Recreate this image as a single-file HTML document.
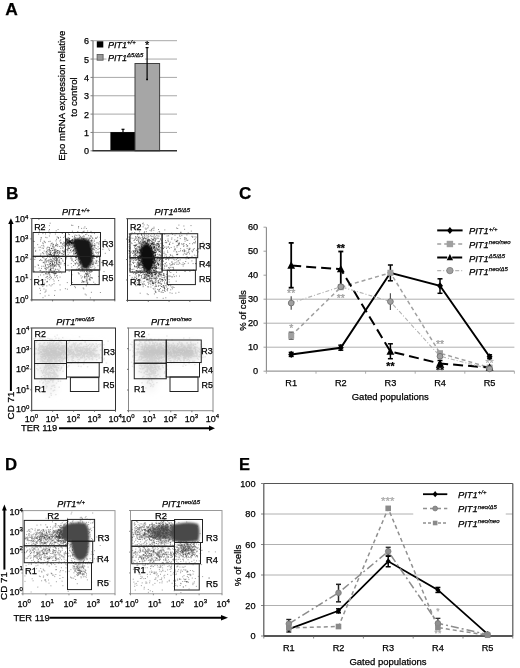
<!DOCTYPE html>
<html><head><meta charset="utf-8"><style>
html,body{margin:0;padding:0;background:#fff;width:520px;height:668px;overflow:hidden}
svg{position:absolute;left:0;top:0;font-family:'Liberation Sans',sans-serif}
text{stroke:#000;stroke-width:0.25px}
</style></head><body>
<svg width="520" height="668" viewBox="0 0 520 668">
<defs><filter id="gblur" x="0" y="0" width="520" height="668" filterUnits="userSpaceOnUse"><feGaussianBlur stdDeviation="0.35"/></filter></defs>
<g filter="url(#gblur)">
<rect width="520" height="668" fill="#fff"/>
<text x="5.3" y="15.0" font-size="17.4" font-weight="bold">A</text>
<line x1="93.00" y1="132.45" x2="177.00" y2="132.45" stroke="#a8a8a8" stroke-width="1"/>
<line x1="93.00" y1="114.10" x2="177.00" y2="114.10" stroke="#a8a8a8" stroke-width="1"/>
<line x1="93.00" y1="95.75" x2="177.00" y2="95.75" stroke="#a8a8a8" stroke-width="1"/>
<line x1="93.00" y1="77.40" x2="177.00" y2="77.40" stroke="#a8a8a8" stroke-width="1"/>
<line x1="93.00" y1="59.05" x2="177.00" y2="59.05" stroke="#a8a8a8" stroke-width="1"/>
<line x1="93.00" y1="40.70" x2="177.00" y2="40.70" stroke="#a8a8a8" stroke-width="1"/>
<text x="89.0" y="154.2" font-size="9" text-anchor="end">0</text>
<line x1="90.50" y1="150.80" x2="93.00" y2="150.80" stroke="#808080" stroke-width="1"/>
<text x="89.0" y="135.9" font-size="9" text-anchor="end">1</text>
<line x1="90.50" y1="132.45" x2="93.00" y2="132.45" stroke="#808080" stroke-width="1"/>
<text x="89.0" y="117.5" font-size="9" text-anchor="end">2</text>
<line x1="90.50" y1="114.10" x2="93.00" y2="114.10" stroke="#808080" stroke-width="1"/>
<text x="89.0" y="99.2" font-size="9" text-anchor="end">3</text>
<line x1="90.50" y1="95.75" x2="93.00" y2="95.75" stroke="#808080" stroke-width="1"/>
<text x="89.0" y="80.8" font-size="9" text-anchor="end">4</text>
<line x1="90.50" y1="77.40" x2="93.00" y2="77.40" stroke="#808080" stroke-width="1"/>
<text x="89.0" y="62.5" font-size="9" text-anchor="end">5</text>
<line x1="90.50" y1="59.05" x2="93.00" y2="59.05" stroke="#808080" stroke-width="1"/>
<text x="89.0" y="44.1" font-size="9" text-anchor="end">6</text>
<line x1="90.50" y1="40.70" x2="93.00" y2="40.70" stroke="#808080" stroke-width="1"/>
<line x1="93.00" y1="40.70" x2="93.00" y2="150.80" stroke="#808080" stroke-width="1.3"/>
<rect x="110.40" y="132.08" width="24.80" height="18.72" fill="#000" stroke="none" stroke-width="1"/>
<rect x="135.00" y="63.50" width="24.60" height="87.30" fill="#a6a6a6" stroke="#404040" stroke-width="1"/>
<line x1="92.50" y1="150.80" x2="177.00" y2="150.80" stroke="#303030" stroke-width="1.5"/>
<line x1="123.00" y1="132.08" x2="123.00" y2="129.30" stroke="#000" stroke-width="1.2"/>
<line x1="121.50" y1="129.30" x2="124.50" y2="129.30" stroke="#000" stroke-width="1.2"/>
<line x1="147.10" y1="47.60" x2="147.10" y2="79.40" stroke="#000" stroke-width="1.2"/>
<line x1="145.60" y1="47.60" x2="148.60" y2="47.60" stroke="#000" stroke-width="1.2"/>
<line x1="146.20" y1="79.40" x2="148.00" y2="79.40" stroke="#000" stroke-width="1.5"/>
<text x="147.1" y="49.3" font-size="11" text-anchor="middle">*</text>
<rect x="96.80" y="41.30" width="6.50" height="6.20" fill="#000" stroke="none" stroke-width="1"/>
<rect x="97.10" y="54.40" width="6.00" height="5.80" fill="#999" stroke="#555" stroke-width="0.8"/>
<rect x="106.50" y="52.50" width="38.50" height="8.30" fill="#fff" stroke="none" stroke-width="1"/>
<text x="108.0" y="47.6" font-size="9" font-style="italic" fill="#000">PIT1<tspan font-size="6" dy="-3.4">+/+</tspan></text>
<text x="108.0" y="60.6" font-size="9" font-style="italic" fill="#000">PIT1<tspan font-size="6" dy="-3.4">Δ5/Δ5</tspan></text>
<text transform="translate(65.3,95.8) rotate(-90)" font-size="9.6" text-anchor="middle">Epo mRNA expression relative</text>
<text transform="translate(76.7,97) rotate(-90)" font-size="9.6" text-anchor="middle">to control</text>
<defs><filter id="bl" x="-50%" y="-50%" width="200%" height="200%"><feGaussianBlur stdDeviation="4"/></filter><filter id="bl2" x="-50%" y="-50%" width="200%" height="200%"><feGaussianBlur stdDeviation="1.3"/></filter><filter id="bl1" x="-50%" y="-50%" width="200%" height="200%"><feGaussianBlur stdDeviation="0.9"/></filter><filter id="bl05" x="-10%" y="-10%" width="120%" height="120%"><feGaussianBlur stdDeviation="0.35"/></filter></defs>
<g filter="url(#bl05)">
<path d="M52.3 263.7h1M55.3 251.1h1M50.3 270.4h1M49.7 263.3h1M57.5 264.7h1M49.6 263.5h1M47.7 265.0h1M55.5 257.7h1M59.1 253.2h1M49.6 265.9h1M52.2 256.0h1M52.3 264.8h1M44.6 296.0h1M62.8 247.9h1M67.2 245.6h1M60.1 240.0h1M54.2 265.1h1M42.3 286.4h1M44.4 263.9h1M53.8 274.2h1M50.2 245.8h1M54.5 252.8h1M55.9 253.1h1M55.4 246.0h1M56.1 271.6h1M38.0 276.8h1M56.5 259.5h1M64.3 246.4h1M55.5 265.3h1M49.6 264.5h1M52.1 266.1h1M52.4 258.4h1M66.5 245.1h1M55.5 240.9h1M46.9 281.3h1M53.5 249.0h1M60.8 258.5h1M49.2 279.7h1M40.0 290.3h1M56.1 276.1h1M50.6 251.8h1M56.2 261.4h1M57.3 255.3h1M55.6 266.6h1M45.9 267.4h1M53.5 261.4h1M49.2 266.7h1M44.6 259.8h1M58.9 262.3h1M44.2 283.2h1M59.0 251.7h1M53.5 283.7h1M58.3 257.3h1M50.0 269.7h1M49.9 253.8h1M53.0 273.2h1M51.1 255.3h1M59.1 259.7h1M55.8 272.9h1M54.0 266.4h1M57.2 251.0h1M51.0 277.4h1M49.9 250.5h1M54.4 252.3h1M47.9 272.7h1M45.2 269.8h1M51.5 260.9h1M46.5 282.1h1M62.7 254.4h1M50.6 254.7h1M48.5 270.0h1M52.4 250.3h1M52.9 264.8h1M45.4 291.3h1M49.2 252.9h1M54.4 259.3h1M49.9 261.5h1M50.0 269.8h1M45.5 290.0h1M51.2 243.4h1M57.5 260.8h1M53.4 258.5h1M53.9 265.1h1M54.8 252.7h1M52.1 263.9h1M58.4 264.1h1M54.4 250.7h1M52.3 265.7h1M55.8 262.3h1M55.1 273.1h1M42.5 297.7h1M50.5 285.9h1M59.2 261.9h1M44.6 267.1h1M46.8 276.4h1M53.6 255.2h1M45.2 268.5h1M53.7 254.8h1M51.8 264.6h1M46.7 250.9h1M46.3 285.9h1M52.4 261.0h1M51.2 264.8h1M48.8 284.9h1M58.5 265.4h1M55.7 260.6h1M55.6 257.5h1M59.5 277.1h1M51.5 270.9h1M58.8 262.4h1M56.9 260.1h1M54.7 277.6h1M57.2 269.3h1M54.0 295.4h1M66.6 244.4h1M59.2 246.5h1M60.8 246.2h1M58.3 270.6h1M53.6 259.8h1M56.6 275.6h1M53.9 247.1h1M56.4 263.9h1M54.5 290.6h1M53.9 271.3h1M49.7 251.1h1M45.0 265.6h1M61.8 233.5h1M54.2 262.3h1M64.3 236.2h1M48.9 275.0h1M50.5 254.6h1M56.5 263.1h1M50.4 278.3h1M57.6 271.9h1M58.8 253.1h1M45.3 264.6h1M55.5 244.4h1M43.5 271.6h1M67.1 249.1h1M60.4 243.2h1M55.5 273.5h1M58.9 256.8h1M54.7 273.6h1M53.0 266.8h1M54.2 252.6h1M52.0 262.5h1M43.2 266.2h1M54.2 251.2h1M58.7 266.0h1M51.3 272.4h1M54.5 270.7h1M50.5 255.0h1M47.1 255.0h1M55.9 245.4h1M60.1 252.8h1M44.4 268.5h1M62.2 248.0h1M56.1 255.2h1M44.7 279.8h1M51.8 243.1h1M52.5 272.0h1M47.9 273.7h1M58.0 262.0h1M46.8 255.4h1M54.1 275.7h1M53.0 255.7h1M56.5 258.4h1M47.3 247.2h1M49.1 272.8h1M49.4 259.6h1M57.4 258.8h1M47.6 261.3h1M49.6 275.0h1M59.7 268.1h1M46.5 281.5h1M41.3 266.3h1M53.9 255.4h1M52.1 263.5h1M53.1 254.0h1M57.2 255.8h1M46.0 269.7h1M56.8 244.6h1M56.9 250.9h1M56.1 262.3h1M62.0 256.1h1M49.1 249.9h1M53.6 255.8h1M61.1 258.6h1M58.4 255.6h1M45.6 262.6h1M42.0 257.4h1M58.1 254.4h1M52.5 264.7h1M57.7 264.5h1M50.2 259.1h1M60.4 262.8h1M49.7 254.7h1M55.5 264.6h1M51.7 284.7h1M54.7 258.5h1M65.2 238.2h1M54.2 253.0h1M63.7 245.2h1M54.0 263.0h1M47.3 278.7h1M67.7 248.6h1M49.6 254.4h1M50.2 265.6h1M52.9 244.3h1M63.8 251.9h1M44.5 292.2h1M50.7 271.0h1M54.8 269.0h1M56.2 260.9h1M45.5 273.3h1M50.0 263.5h1M56.3 259.0h1M55.6 255.4h1M49.9 253.0h1M41.6 260.6h1M52.7 279.3h1M47.3 267.7h1M49.7 270.2h1M63.9 263.5h1M50.7 259.7h1M54.3 253.9h1M48.8 254.7h1M54.8 249.2h1M62.2 246.2h1M50.1 267.2h1M52.8 268.0h1M42.2 272.2h1M52.6 247.1h1M48.7 271.1h1M56.0 243.2h1M49.0 254.8h1M55.0 245.6h1M52.5 273.0h1M51.2 272.6h1M60.6 242.7h1M48.0 260.1h1M50.2 265.8h1M45.1 273.7h1M48.8 277.4h1M66.3 246.1h1M65.8 258.9h1M56.0 239.3h1M54.4 253.4h1M58.8 266.6h1M54.3 256.0h1M67.5 247.1h1M56.9 252.8h1M55.4 251.1h1M53.5 259.9h1M49.7 261.1h1M52.1 261.2h1M51.3 260.0h1M50.9 266.0h1M50.4 269.3h1M49.8 276.6h1M48.4 254.5h1M41.4 272.7h1M50.2 268.6h1M50.8 255.3h1M58.5 251.2h1M58.5 256.3h1M59.6 251.0h1M55.5 249.6h1M51.1 261.5h1M53.8 265.9h1M48.7 272.7h1M44.9 266.1h1M53.3 270.2h1M56.0 259.3h1M43.5 289.0h1M55.3 269.5h1M61.0 253.7h1M48.3 272.3h1M49.3 271.9h1M49.8 269.6h1M49.7 241.3h1M57.8 250.6h1M63.2 251.2h1M45.7 274.0h1M46.9 252.8h1M46.6 268.3h1M54.2 262.9h1M54.8 265.3h1M60.2 248.3h1M58.2 257.5h1M43.3 284.4h1M46.5 276.8h1M52.5 272.1h1M62.2 260.2h1M43.3 274.8h1M50.7 262.7h1M52.4 272.2h1M54.1 250.8h1M63.5 245.4h1M50.3 252.7h1M44.8 242.6h1M63.8 265.0h1M46.5 237.7h1M34.3 259.4h1M48.4 262.3h1M40.2 270.4h1M52.3 250.5h1M57.2 253.6h1M43.6 241.2h1M49.7 223.2h1M40.6 237.9h1M56.2 263.4h1M43.4 246.8h1M62.9 254.7h1M62.4 251.3h1M54.2 273.2h1M44.2 261.2h1M54.9 234.0h1M66.9 242.4h1M55.2 252.1h1M41.7 248.0h1M57.7 237.5h1M48.9 225.6h1M41.2 224.7h1M42.7 253.2h1M41.4 245.6h1M52.4 255.4h1M59.3 264.1h1M42.9 262.3h1M56.9 250.5h1M42.7 243.6h1M40.1 259.6h1M43.3 253.9h1M40.0 241.1h1M68.7 271.2h1M56.0 251.3h1M38.6 268.1h1M35.1 251.4h1M49.5 233.7h1M46.9 264.7h1M55.7 230.8h1M60.0 237.3h1M46.7 249.9h1M37.6 264.9h1M48.2 256.0h1M33.8 241.5h1M64.1 251.6h1M45.6 252.9h1M39.0 231.0h1M35.2 250.4h1M55.4 257.3h1M32.9 241.2h1M39.5 270.5h1M37.2 244.6h1M52.7 268.2h1M54.8 260.7h1M63.2 237.5h1M54.2 249.5h1M57.3 245.0h1M58.9 272.1h1M73.6 242.9h1M43.5 258.1h1M62.1 244.1h1M62.4 244.0h1M64.1 250.3h1M57.6 229.5h1M34.2 247.9h1M57.1 252.6h1M47.8 253.7h1M45.0 259.8h1M54.0 257.3h1M52.5 246.1h1M38.4 219.5h1M63.7 253.0h1M52.2 257.3h1M40.0 275.0h1M51.1 248.6h1M49.0 247.5h1M51.5 248.4h1M38.5 247.3h1M39.0 232.6h1M52.8 248.0h1M54.2 254.6h1M57.9 237.9h1M40.3 239.7h1M42.3 242.8h1M38.1 234.1h1M57.9 238.3h1M46.3 248.2h1M42.8 262.7h1M45.7 258.8h1M34.6 266.8h1M45.5 277.6h1M58.5 252.5h1M45.0 233.9h1M52.9 252.4h1M59.6 258.1h1M56.3 258.2h1M47.1 257.0h1M40.5 260.3h1M39.9 247.2h1M56.1 256.1h1M47.7 251.1h1M46.0 251.7h1M52.4 246.5h1M43.7 251.0h1M63.2 242.1h1M49.0 251.1h1M49.1 248.7h1M71.0 225.2h1M45.2 237.3h1M47.6 247.3h1M50.8 248.4h1M48.6 260.7h1M44.2 241.8h1M39.1 260.5h1M48.4 231.0h1M52.6 244.6h1M52.2 253.6h1M60.4 264.0h1M62.5 261.3h1M63.2 252.2h1M48.2 267.8h1M48.9 236.0h1M49.8 253.0h1M40.4 253.9h1M49.4 257.4h1M57.2 246.3h1M39.9 255.3h1M48.7 273.9h1M50.5 244.0h1M44.5 227.6h1M64.1 263.3h1M52.5 245.2h1M46.7 260.6h1M59.9 267.2h1M42.4 233.6h1M43.1 245.3h1M54.6 256.4h1M48.5 249.9h1M39.4 250.0h1M45.8 261.6h1M42.9 248.4h1M58.5 270.0h1M48.3 241.6h1M48.1 266.6h1M64.1 244.0h1M34.7 257.5h1M38.0 265.4h1M45.7 251.7h1M38.7 232.2h1M42.1 252.6h1M45.8 258.8h1M56.7 236.9h1M45.5 260.9h1M55.6 260.4h1M64.6 249.2h1M51.6 250.3h1M67.7 241.0h1M83.6 246.5h1M97.0 237.1h1M81.4 240.5h1M72.9 261.6h1M76.2 244.8h1M83.3 251.0h1M80.0 243.3h1M86.6 255.9h1M66.9 250.6h1M77.9 249.8h1M87.7 240.8h1M65.6 241.9h1M75.4 253.0h1M93.6 256.4h1M68.0 234.0h1M90.2 252.0h1M74.3 251.6h1M96.1 256.7h1M93.0 255.2h1M78.8 257.0h1M84.8 246.1h1M75.7 248.3h1M74.3 242.2h1M80.2 246.6h1M74.1 239.9h1M101.2 262.4h1M90.4 240.5h1M84.1 241.4h1M86.0 248.5h1M81.1 228.4h1M92.7 256.5h1M86.4 250.1h1M66.1 240.7h1M81.5 255.3h1M79.1 235.8h1M92.9 248.1h1M96.0 257.6h1M79.7 259.4h1M78.0 227.9h1M77.8 247.8h1M71.8 247.2h1M82.1 244.9h1M79.6 248.7h1M83.7 250.2h1M77.2 247.8h1M80.7 257.6h1M81.9 256.1h1M78.6 257.9h1M87.3 249.6h1M83.1 252.3h1M94.1 245.5h1M84.2 246.5h1M70.9 252.0h1M69.3 245.0h1M87.9 267.1h1M72.8 242.3h1M74.6 244.2h1M86.8 251.3h1M78.7 249.7h1M77.7 246.3h1M78.7 242.0h1M78.6 244.2h1M90.4 259.8h1M84.5 245.7h1M97.7 256.7h1M82.3 236.7h1M84.1 242.5h1M95.8 248.5h1M82.7 231.5h1M90.6 246.2h1M92.0 255.6h1M80.5 249.7h1M76.2 262.2h1M68.9 234.6h1M82.2 245.0h1M81.4 247.5h1M86.6 246.1h1M84.5 250.0h1M81.8 246.3h1M91.6 241.0h1M71.7 247.2h1M83.4 257.6h1M86.8 257.2h1M89.3 259.9h1M74.5 248.8h1M70.8 263.6h1M103.1 247.2h1M79.8 252.0h1M90.3 264.9h1M79.3 253.0h1M87.5 249.6h1M74.3 245.5h1M87.0 256.8h1M84.4 241.0h1M82.9 249.1h1M88.6 256.6h1M76.8 242.7h1M79.6 263.7h1M89.0 242.3h1M90.9 261.3h1M71.8 240.0h1M81.1 239.8h1M70.6 257.6h1M99.6 244.8h1M80.2 254.7h1M86.3 261.9h1M87.8 249.9h1M72.5 251.2h1M73.3 253.2h1M74.7 256.1h1M95.5 250.9h1M90.1 249.7h1M85.2 254.9h1M83.6 263.7h1M83.7 260.3h1M89.5 247.9h1M83.4 266.6h1M85.0 250.2h1M91.5 232.9h1M79.8 256.6h1M84.0 255.5h1M83.1 241.8h1M79.2 256.4h1M104.6 239.9h1M79.3 255.1h1M80.3 263.3h1M86.4 248.1h1M87.7 255.5h1M89.5 238.2h1M89.9 249.1h1M84.4 251.1h1M84.7 243.4h1M85.1 256.2h1M96.4 263.2h1M73.4 252.2h1M85.0 259.7h1M81.6 268.4h1M90.4 242.3h1M70.1 242.6h1M88.5 255.1h1M92.4 242.7h1M78.8 256.4h1M82.2 250.3h1M86.9 249.4h1M83.6 245.7h1M72.4 250.8h1M84.6 256.4h1M82.4 250.6h1M71.7 259.0h1M83.6 258.5h1M74.4 254.3h1M82.6 252.5h1M71.2 267.0h1M74.3 244.3h1M78.5 261.3h1M88.6 260.0h1M79.0 249.4h1M74.7 248.5h1M90.7 252.3h1M83.1 253.8h1M78.1 240.0h1M72.3 255.8h1M87.5 245.9h1M65.4 244.0h1M81.1 258.4h1M74.5 249.1h1M68.9 242.3h1M87.7 245.3h1M79.2 262.5h1M80.2 243.6h1M76.3 250.9h1M76.6 248.1h1M87.7 253.8h1M87.8 254.6h1M78.7 255.3h1M94.3 246.8h1M80.8 266.7h1M80.6 249.9h1M78.7 250.0h1M78.8 269.1h1M59.3 241.0h1M75.3 251.2h1M82.8 256.0h1M83.4 239.9h1M87.9 244.3h1M93.8 240.1h1M92.6 257.3h1M88.7 254.6h1M89.9 259.5h1M84.4 252.9h1M80.9 238.0h1M91.9 237.9h1M78.5 235.0h1M79.9 258.0h1M74.3 246.2h1M73.1 250.3h1M79.8 249.3h1M90.2 262.5h1M85.6 246.7h1M86.4 254.6h1M88.3 245.4h1M91.3 250.7h1M92.2 260.9h1M91.0 260.1h1M95.2 252.3h1M85.3 243.1h1M87.3 253.2h1M90.9 241.1h1M77.2 246.7h1M67.4 249.1h1M95.4 263.4h1M93.3 258.2h1M97.6 254.9h1M78.0 258.3h1M93.4 255.4h1M88.8 251.2h1M84.4 246.7h1M93.6 255.0h1M80.3 262.0h1M85.9 252.5h1M78.1 257.9h1M82.3 254.1h1M87.8 256.0h1M91.2 255.6h1M91.5 253.6h1M81.1 251.8h1M92.5 253.5h1M80.8 245.0h1M79.0 248.0h1M67.6 250.2h1M85.3 258.8h1M87.2 247.5h1M82.7 247.0h1M79.9 263.0h1M86.5 246.1h1M75.9 252.5h1M84.5 257.1h1M87.6 242.4h1M87.8 242.7h1M77.5 240.2h1M84.2 259.3h1M78.8 254.0h1M74.8 264.7h1M102.4 249.3h1M75.8 247.0h1M77.6 254.0h1M97.5 249.4h1M84.3 241.2h1M69.0 248.6h1M91.8 244.0h1M92.3 248.6h1M87.8 242.1h1M67.9 242.7h1M67.4 252.1h1M80.9 271.1h1M81.4 244.7h1M79.3 243.5h1M85.5 253.1h1M64.2 254.2h1M82.8 259.9h1M77.5 250.9h1M79.7 243.3h1M96.9 257.3h1M82.2 247.6h1M75.3 250.7h1M78.1 243.6h1M81.2 247.6h1M91.7 245.7h1M70.1 256.3h1M81.6 243.1h1M91.6 257.9h1M67.7 254.3h1M90.9 263.7h1M85.0 246.2h1M81.6 260.7h1M80.0 258.4h1M74.2 246.8h1M86.7 255.4h1M87.4 238.1h1M91.9 259.1h1M90.0 244.2h1M92.3 249.5h1M74.1 250.0h1M71.8 242.2h1M86.5 250.7h1M74.3 263.2h1M79.3 243.3h1M79.3 248.4h1M83.3 252.0h1M84.4 247.0h1M77.0 254.0h1M81.0 246.9h1M86.9 251.3h1M75.2 245.6h1M87.8 254.1h1M80.8 262.3h1M81.6 248.4h1M83.9 247.2h1M75.2 253.5h1M85.8 251.4h1M81.4 237.9h1M87.1 231.0h1M87.2 246.8h1M75.5 239.1h1M83.9 263.5h1M91.0 246.2h1M83.3 244.0h1M86.0 245.0h1M78.6 258.8h1M75.1 243.0h1M88.6 239.9h1M65.6 244.1h1M75.5 253.3h1M88.9 250.5h1M92.5 263.5h1M79.4 243.1h1M86.2 239.8h1M72.6 250.9h1M91.5 248.9h1M88.8 256.5h1M73.0 250.2h1M72.4 244.2h1M79.0 237.9h1M85.9 245.2h1M85.2 241.4h1M75.6 249.9h1M84.4 244.4h1M80.5 246.6h1M67.9 246.6h1M84.0 244.5h1M77.3 244.4h1M82.9 239.4h1M73.6 246.0h1M76.0 243.3h1M77.2 243.7h1M87.5 246.4h1M79.0 240.5h1M90.3 243.7h1M82.1 243.9h1M82.6 239.8h1M68.3 245.0h1M84.9 241.1h1M80.0 242.5h1M68.9 242.4h1M81.9 240.2h1M74.6 241.2h1M77.0 239.1h1M85.3 242.8h1M81.8 248.0h1M75.0 243.5h1M84.8 242.2h1M80.0 244.8h1M77.6 249.9h1M78.6 242.3h1M76.4 240.5h1M68.9 244.9h1M76.7 245.4h1M87.6 240.8h1M82.8 238.7h1M87.7 241.7h1M77.9 240.5h1M74.0 236.2h1M69.4 240.9h1M81.0 246.0h1M68.5 242.1h1M73.6 242.7h1M84.9 242.7h1M86.5 246.9h1M68.2 248.5h1M88.0 244.0h1M73.9 238.7h1M84.9 243.8h1M72.9 242.9h1M85.0 245.2h1M66.4 249.5h1M78.6 246.0h1M76.2 241.6h1M79.5 244.0h1M84.1 238.7h1M81.6 244.7h1M76.9 242.1h1M81.6 243.7h1M78.8 240.8h1M77.9 241.2h1M72.0 239.6h1M75.6 241.6h1M73.5 243.5h1M75.6 245.4h1M81.2 242.0h1M69.7 246.2h1M87.1 245.5h1M84.9 240.7h1M83.9 241.5h1M81.6 233.2h1M71.4 243.1h1M86.8 241.6h1M72.0 242.9h1M74.7 235.1h1M71.3 242.9h1M76.3 243.0h1M82.3 238.7h1M71.5 239.7h1M80.3 240.0h1M74.0 242.0h1M69.8 241.5h1M74.3 242.2h1M77.7 243.8h1M71.1 244.9h1M72.6 246.6h1M73.0 245.3h1M80.2 246.5h1M78.9 245.1h1M70.3 244.8h1M73.7 242.8h1M69.6 241.0h1M78.7 244.5h1M81.7 241.0h1M71.6 241.7h1M72.8 242.8h1M83.4 246.8h1M71.9 236.6h1M66.3 243.1h1M60.2 242.8h1M80.5 245.2h1M78.8 239.9h1M66.5 240.6h1M78.5 244.1h1M86.3 243.5h1M82.2 242.3h1M71.7 242.9h1M66.8 243.2h1M84.0 240.4h1M65.1 244.1h1M73.2 243.9h1M69.3 243.6h1M79.0 247.9h1M76.5 243.8h1M74.0 237.1h1M92.3 238.4h1M93.5 245.4h1M88.2 239.3h1M86.9 243.2h1M82.2 249.1h1M77.7 244.0h1M70.1 240.6h1M72.0 242.4h1M86.8 245.0h1M85.9 243.2h1M83.4 244.9h1M74.1 241.9h1M78.1 240.7h1M82.0 240.8h1M75.5 240.0h1M76.9 244.2h1M76.5 242.4h1M72.0 243.6h1M76.8 245.2h1M65.7 243.5h1M79.4 240.5h1M71.0 240.6h1M68.4 239.5h1M70.3 242.4h1M69.5 240.6h1M68.2 241.8h1M67.2 241.3h1M69.4 242.1h1M69.2 244.2h1M69.0 241.6h1M66.7 241.9h1M66.0 240.3h1M70.6 242.7h1M71.5 240.1h1M70.5 243.9h1M68.1 242.8h1M66.4 243.2h1M66.1 238.9h1M67.9 247.3h1M66.6 243.9h1M66.8 243.2h1M67.4 239.3h1M69.5 242.2h1M67.7 243.3h1M63.3 243.4h1M68.4 243.2h1M67.0 242.7h1M66.4 243.2h1M72.2 244.0h1M66.2 239.8h1M67.6 242.4h1M68.8 238.4h1M72.1 240.2h1M70.5 243.1h1M68.7 241.5h1M68.5 243.7h1M69.2 241.6h1M68.5 244.5h1M71.1 242.0h1M68.8 240.0h1M68.9 240.7h1M68.7 241.0h1M66.0 239.7h1M70.9 242.6h1M66.5 245.3h1M71.3 242.8h1M70.1 242.0h1M69.9 241.8h1M66.4 241.5h1M68.2 240.7h1M64.1 242.6h1M71.8 245.3h1M70.3 242.6h1M69.5 244.2h1M68.0 243.9h1M71.0 242.6h1M70.3 242.0h1M67.3 240.1h1M68.4 242.1h1M69.1 241.2h1M68.2 240.3h1M69.8 241.4h1M68.6 242.4h1M72.2 241.0h1M68.2 242.9h1M70.8 240.9h1M71.0 243.4h1M66.0 244.5h1M73.0 243.1h1M69.7 241.6h1M67.3 239.4h1M69.2 238.4h1M65.5 242.5h1M66.7 241.0h1M71.1 243.7h1M66.7 241.7h1M68.3 238.3h1M66.6 241.9h1M64.9 241.8h1M67.5 245.2h1M66.9 239.6h1M68.2 241.6h1M66.0 239.1h1M66.6 239.0h1M70.7 243.6h1M67.8 237.7h1M70.5 242.6h1M69.1 243.4h1M67.5 240.5h1M72.3 240.7h1M67.2 238.3h1M69.4 241.7h1M82.1 281.3h1M84.9 267.3h1M87.0 283.6h1M87.6 276.1h1M89.0 279.4h1M86.4 279.2h1M82.6 282.4h1M82.4 270.2h1M85.5 281.9h1M86.8 277.0h1M84.7 276.5h1M86.1 275.5h1M87.3 274.4h1M89.9 275.0h1M86.3 274.7h1M83.9 271.6h1M82.9 281.7h1M80.4 275.8h1M91.6 277.9h1M84.6 278.0h1M80.6 268.1h1M86.4 280.6h1M86.5 280.0h1M84.0 277.7h1M90.8 271.1h1M88.6 273.5h1M81.8 280.4h1M82.8 281.6h1M89.5 280.4h1M84.1 276.7h1M87.4 282.9h1M93.7 268.8h1M85.3 273.7h1M82.7 288.0h1M85.6 284.7h1M85.6 274.0h1M88.0 276.3h1M90.7 277.6h1M82.1 276.9h1M90.6 271.8h1M88.5 279.2h1M89.1 278.3h1M85.2 273.2h1M84.3 276.9h1M86.7 282.3h1M85.8 285.9h1M86.5 273.8h1M87.5 274.0h1M88.3 271.2h1M80.9 278.0h1M86.5 274.6h1M88.2 275.3h1M94.6 283.9h1M90.4 277.6h1M86.5 278.2h1M86.9 270.5h1M90.1 267.4h1M82.2 271.4h1M84.0 281.8h1M84.1 275.1h1M40.8 237.8h1M71.7 256.5h1M89.8 279.2h1M42.8 257.1h1M89.9 297.9h1M59.7 289.9h1M99.9 292.5h1M70.1 285.5h1M87.8 261.0h1M73.1 265.5h1M34.0 271.3h1M62.1 250.6h1M84.7 294.1h1M85.5 260.8h1M39.3 288.3h1M48.4 295.3h1M57.0 277.9h1M61.2 273.0h1M93.2 282.2h1M91.8 278.1h1M44.0 256.4h1M46.1 254.1h1M87.4 268.9h1M60.1 271.7h1M72.8 246.9h1M82.1 269.9h1M50.8 268.3h1M71.7 282.6h1M53.6 281.0h1M75.0 240.7h1M70.9 279.2h1M85.7 295.0h1M75.7 240.5h1M83.3 288.9h1M84.9 246.3h1M71.6 260.6h1M74.9 260.4h1M98.1 276.4h1M48.5 249.5h1M54.2 273.1h1M44.1 262.7h1M89.5 272.1h1M39.7 293.6h1M48.8 264.3h1M98.0 244.0h1M88.6 268.2h1M103.5 271.6h1M58.8 260.5h1M82.3 266.8h1M49.0 229.5h1M75.6 258.9h1M86.7 267.6h1M74.3 286.4h1M54.5 273.9h1M108.9 250.4h1M59.5 284.9h1M81.2 282.3h1M66.9 289.2h1M67.5 265.3h1M46.1 271.9h1M96.5 260.8h1M58.1 280.6h1M86.7 283.0h1M108.3 249.0h1M46.8 274.1h1M66.8 282.6h1M64.9 288.7h1M53.8 271.7h1M41.0 268.4h1M90.9 292.3h1M104.8 253.3h1M51.8 268.1h1M66.1 257.6h1M81.7 258.9h1M74.9 287.7h1M61.9 253.4h1M83.4 259.5h1M83.5 258.2h1M90.1 260.8h1M90.3 251.1h1M85.7 274.0h1M84.5 250.3h1M84.8 261.6h1M77.1 263.9h1M89.9 258.6h1M86.4 260.6h1M86.0 252.9h1M84.6 265.6h1M89.6 264.6h1M83.2 265.2h1M90.5 270.9h1M89.5 262.3h1M86.5 266.3h1M90.8 246.1h1M83.4 263.2h1M90.7 252.2h1M81.7 249.1h1M91.8 266.2h1M85.8 280.2h1M94.6 267.8h1M88.2 260.8h1M90.6 256.5h1M90.6 257.4h1M90.5 261.2h1M89.0 271.3h1M90.0 261.2h1M85.8 256.9h1M83.2 269.0h1M87.6 253.9h1M92.3 257.7h1M92.4 264.1h1M89.9 263.1h1M83.0 260.4h1M85.4 255.4h1M88.9 253.7h1M82.4 256.7h1M82.1 261.9h1M89.3 262.2h1M85.9 266.7h1M89.2 272.0h1M84.8 263.5h1M85.6 258.4h1M86.2 266.5h1M84.9 254.5h1M93.2 262.9h1M88.3 266.9h1M91.3 267.7h1M84.1 260.1h1M91.0 261.8h1M91.8 271.4h1M82.5 261.4h1M83.4 257.1h1M85.9 262.9h1M88.5 253.5h1M86.7 259.6h1M83.4 263.1h1M80.9 260.3h1M86.7 273.4h1M86.5 259.5h1M90.5 254.4h1M86.0 276.7h1M92.0 264.5h1M90.9 253.0h1M90.9 257.8h1M88.1 260.9h1M88.2 257.9h1M79.6 244.7h1M79.3 262.1h1M83.8 249.7h1M91.6 262.2h1M83.2 252.9h1M89.3 260.3h1M81.5 260.5h1M79.8 271.3h1M85.4 261.9h1M82.8 253.0h1M85.5 254.3h1M79.3 264.8h1M85.2 251.6h1M87.8 259.0h1M84.6 248.9h1M86.0 245.3h1M81.7 269.2h1M87.6 250.4h1M82.4 261.3h1M89.5 259.7h1M86.0 265.9h1M91.3 251.0h1M84.5 267.5h1M88.4 252.3h1M78.1 269.2h1M85.3 261.4h1M84.5 266.8h1M90.3 270.0h1M81.1 258.4h1M89.3 259.3h1M86.0 271.8h1M86.5 251.3h1M93.6 266.1h1M87.1 264.7h1M88.9 261.3h1M89.6 260.4h1M89.4 276.9h1M85.7 244.5h1M92.9 264.6h1M84.1 264.3h1M80.5 267.6h1M78.0 265.4h1M92.0 258.3h1M88.5 264.6h1M79.7 258.8h1M93.4 262.0h1M95.7 262.1h1M85.2 260.0h1M84.2 246.3h1M86.2 271.0h1M77.4 242.2h1M79.4 262.8h1M91.8 246.0h1M88.5 263.3h1M83.9 248.0h1M89.2 243.4h1M85.1 258.9h1M95.9 261.4h1M87.1 242.6h1M89.0 251.4h1M97.2 252.4h1M84.3 245.7h1M82.8 255.7h1M75.9 247.7h1M74.9 237.8h1M87.7 244.5h1M80.5 254.8h1M78.0 247.0h1M82.0 244.0h1M77.5 263.1h1M87.0 257.9h1M74.3 246.7h1M89.2 259.1h1M77.2 255.0h1M93.7 258.3h1M82.3 244.9h1M71.2 247.8h1M83.9 250.6h1M82.0 258.4h1M91.4 240.6h1M84.0 250.4h1M83.9 246.5h1M87.1 262.2h1M79.8 247.2h1M91.3 239.7h1M87.8 250.8h1M77.4 253.7h1M81.4 254.8h1M87.0 249.1h1M85.2 252.6h1M87.6 232.5h1M82.0 257.8h1M82.6 262.4h1M79.8 246.9h1M83.3 235.7h1M99.0 241.8h1M83.5 228.2h1M85.3 242.3h1M88.8 253.1h1M93.7 247.0h1M85.0 248.9h1M85.3 244.1h1M81.9 262.3h1M89.5 238.4h1M84.8 251.9h1M75.0 257.4h1M77.4 255.2h1M90.7 244.8h1M88.0 260.1h1M79.4 257.0h1M94.8 263.2h1M78.1 226.5h1M80.9 241.1h1M92.5 245.4h1M95.0 238.2h1M79.2 252.7h1M75.9 269.2h1M77.9 256.9h1M86.2 268.9h1M98.1 252.2h1M86.6 257.9h1M82.8 262.4h1M73.9 243.8h1M73.6 253.7h1M93.4 255.4h1M81.6 250.0h1M93.3 249.4h1M79.2 252.9h1M70.5 249.5h1M83.0 248.0h1M77.8 272.7h1M91.7 260.8h1M91.2 240.9h1M82.7 249.9h1M82.9 259.2h1M83.4 266.7h1M83.4 253.7h1M90.8 255.4h1M75.9 257.3h1M78.9 268.4h1M97.5 242.8h1M90.4 248.5h1M70.5 258.6h1M91.4 270.6h1M86.4 244.2h1M92.6 252.2h1M85.5 258.1h1M78.7 258.8h1M83.6 236.6h1M88.1 235.7h1M78.7 257.4h1M77.8 260.3h1M75.0 253.4h1M89.7 247.3h1M79.8 249.6h1M75.6 246.4h1M80.6 242.2h1M88.2 259.1h1M83.3 258.4h1M93.7 245.0h1M99.6 243.4h1M83.2 260.4h1M76.8 252.3h1M81.4 254.0h1M96.3 242.8h1M78.1 247.1h1M76.9 244.9h1M75.8 263.1h1M83.7 261.5h1M89.3 238.0h1M85.9 260.6h1M79.9 251.3h1M83.4 238.1h1M79.9 258.7h1M85.8 258.1h1M76.1 246.5h1M90.8 236.9h1M82.8 238.9h1M84.7 262.7h1M93.7 241.3h1M83.6 231.2h1M86.8 245.5h1M99.7 237.3h1M76.3 244.9h1M90.3 236.3h1M90.3 245.3h1M89.2 244.2h1M76.3 256.0h1M82.6 250.6h1M85.8 271.2h1M98.3 256.4h1M91.0 247.0h1M95.5 238.0h1M75.0 263.5h1M85.9 261.7h1M86.8 259.6h1M93.9 249.9h1M82.6 256.0h1M93.9 233.6h1M86.2 251.8h1M85.6 243.8h1M86.7 263.0h1M78.4 273.6h1M87.9 259.8h1M89.6 265.8h1M75.9 252.5h1M91.5 244.1h1M70.1 250.5h1M71.2 240.7h1M77.1 239.3h1M80.6 251.1h1M71.6 241.7h1M84.4 226.9h1M83.5 271.8h1M84.6 253.4h1M88.6 253.6h1M85.9 269.3h1M69.8 250.8h1M81.4 256.3h1M82.9 258.3h1M85.9 228.5h1M75.5 248.4h1M74.0 246.0h1M90.4 235.7h1M76.2 255.9h1M79.9 253.3h1M95.6 260.3h1M80.0 254.2h1M85.5 252.6h1M75.8 257.5h1M94.2 243.6h1M76.4 259.6h1M88.1 252.8h1M75.3 257.0h1M77.2 231.8h1M79.5 259.7h1M87.6 258.3h1M88.8 269.3h1M75.2 239.7h1M91.3 256.5h1M81.2 246.2h1M82.0 251.4h1M78.3 241.2h1M82.8 249.7h1M77.6 249.3h1M86.5 281.4h1M73.2 249.7h1M69.3 252.8h1M88.1 261.9h1M82.7 246.1h1M89.0 261.1h1M70.2 247.3h1M80.8 246.3h1M77.7 268.7h1M87.1 259.4h1M79.9 264.2h1M83.1 246.3h1M71.3 259.9h1M76.3 235.4h1M89.1 242.2h1M83.0 260.6h1M69.1 248.2h1M81.7 269.3h1M83.7 259.4h1M90.6 255.3h1M86.6 242.3h1M81.8 249.0h1M80.7 263.2h1M89.6 252.7h1M85.3 247.8h1M86.3 238.2h1M84.5 258.2h1M79.6 240.7h1M76.9 267.0h1M68.5 245.5h1M79.8 261.0h1M87.0 244.5h1M85.1 234.6h1M78.7 240.7h1M86.9 247.5h1M97.6 246.8h1M83.7 252.6h1M98.8 252.0h1M71.9 231.2h1M87.3 259.1h1M80.7 255.7h1M90.2 269.8h1M76.8 251.3h1M74.9 260.4h1M81.9 242.3h1M88.9 257.3h1M82.6 258.0h1M69.0 239.1h1M82.0 250.4h1M94.5 270.0h1M90.8 250.6h1M78.7 254.2h1M77.5 232.2h1M74.6 244.0h1M97.9 253.4h1M82.1 251.1h1M78.2 266.1h1M87.5 269.3h1M76.4 242.6h1M95.9 238.2h1M82.5 257.0h1M80.1 236.4h1M82.9 262.1h1M86.5 247.1h1M97.5 265.7h1M88.8 252.5h1M91.6 253.4h1M82.3 245.3h1M89.7 260.5h1M86.1 264.7h1M79.1 255.4h1M86.2 244.8h1M82.2 251.0h1M87.1 247.4h1M72.3 225.4h1M85.9 267.1h1M98.3 261.7h1M78.2 238.7h1M90.7 254.5h1M79.6 247.7h1M84.3 239.1h1M87.3 271.5h1M80.8 246.0h1M77.9 264.1h1M79.3 243.8h1M82.7 248.9h1M84.4 256.5h1M79.7 237.3h1M81.3 238.4h1M79.7 262.2h1M80.5 254.5h1M85.4 247.0h1M81.7 268.2h1M86.1 248.6h1M84.6 244.6h1M86.7 249.6h1M89.6 251.5h1M83.6 270.8h1M81.9 257.1h1M78.6 274.0h1M76.3 248.3h1M80.9 250.2h1M73.9 245.7h1M88.5 252.1h1M91.3 246.9h1M83.2 265.7h1M82.2 254.0h1M90.2 249.4h1M77.5 254.1h1M86.4 243.2h1M80.1 261.4h1M98.8 248.5h1M99.2 259.7h1M80.8 248.8h1M79.1 265.2h1M95.2 245.1h1M79.6 261.6h1M85.2 238.7h1M81.6 251.2h1M85.8 256.7h1M85.8 267.2h1M76.4 248.6h1M80.1 249.9h1M88.8 264.0h1M88.5 250.9h1M79.4 250.6h1M102.1 262.4h1M86.3 234.1h1M82.5 248.9h1M71.4 274.8h1M73.1 254.2h1M94.7 248.0h1M90.5 272.0h1M83.6 244.6h1M90.0 254.3h1M79.3 255.4h1M78.3 259.6h1M87.3 272.5h1M73.1 232.8h1M80.7 247.6h1M89.3 255.4h1M70.6 245.7h1M90.5 231.4h1M84.6 240.0h1M81.4 256.5h1M96.1 253.0h1M79.8 246.9h1M85.1 253.4h1M78.9 253.9h1M85.6 249.0h1M76.2 252.9h1M81.7 246.2h1M79.5 248.0h1M80.0 256.2h1M87.7 241.2h1" stroke="#000" stroke-width="1" fill="none" opacity="0.45"/>
</g>
<path d="M73.5 239 Q80 238 88 239.5 Q91 242 91.5 246 Q92.8 254 92.2 261 Q91 265.5 88 268.3 Q85 269 82.5 268.3 Q80.5 264 79 260 Q77 255.5 75.5 250.5 Q73.5 247 73 243 Q72.8 240 73.5 239 Z" fill="#141414" filter="url(#bl1)" opacity="1"/>
<rect x="31.80" y="218.50" width="83.00" height="81.40" fill="none" stroke="#333" stroke-width="1"/>
<rect x="33.10" y="232.50" width="32.40" height="23.80" fill="none" stroke="#222" stroke-width="1"/>
<rect x="33.10" y="256.30" width="32.40" height="15.70" fill="none" stroke="#222" stroke-width="1"/>
<rect x="65.50" y="232.50" width="35.00" height="23.80" fill="none" stroke="#222" stroke-width="1"/>
<rect x="65.50" y="256.30" width="34.30" height="13.70" fill="none" stroke="#222" stroke-width="1"/>
<rect x="71.50" y="270.00" width="27.70" height="14.60" fill="none" stroke="#222" stroke-width="1"/>
<g filter="url(#bl05)">
<path d="M154.4 258.3h1M148.8 252.8h1M152.3 243.3h1M146.8 239.0h1M153.6 259.2h1M152.1 242.3h1M147.4 241.8h1M138.0 271.2h1M155.4 273.2h1M150.6 245.9h1M138.4 247.4h1M150.8 257.8h1M148.8 248.5h1M137.7 267.3h1M146.1 253.6h1M143.3 261.8h1M140.9 260.6h1M139.5 271.4h1M137.9 259.4h1M148.5 266.1h1M138.4 260.1h1M136.9 265.5h1M143.8 263.1h1M144.6 268.8h1M153.3 242.3h1M150.3 284.7h1M154.1 246.9h1M133.9 254.8h1M142.9 243.6h1M154.6 260.6h1M150.8 247.5h1M152.9 253.2h1M136.6 266.1h1M143.1 259.9h1M144.9 253.7h1M154.1 266.6h1M143.8 255.8h1M146.0 258.0h1M154.8 240.1h1M152.3 262.1h1M147.2 273.0h1M138.7 255.9h1M152.5 246.0h1M137.6 249.2h1M148.1 275.0h1M155.1 250.4h1M151.8 252.0h1M143.6 270.1h1M154.4 261.8h1M153.9 265.9h1M148.2 256.3h1M146.4 258.7h1M143.7 265.3h1M150.6 257.2h1M141.6 248.3h1M144.7 247.5h1M144.8 241.7h1M147.8 247.8h1M144.5 257.3h1M143.8 268.8h1M153.9 234.7h1M146.6 248.1h1M138.1 267.6h1M159.0 241.2h1M143.0 264.1h1M146.8 244.0h1M150.7 247.0h1M150.8 265.8h1M137.2 251.8h1M134.6 277.5h1M151.0 265.7h1M148.2 263.3h1M156.2 238.2h1M155.0 253.0h1M148.8 257.8h1M148.0 284.2h1M139.3 280.2h1M145.6 259.2h1M149.2 239.7h1M139.9 250.1h1M145.8 250.5h1M143.4 266.2h1M153.5 267.8h1M143.5 255.0h1M148.8 253.6h1M143.9 262.1h1M147.3 250.0h1M157.9 265.2h1M139.8 270.6h1M144.0 235.4h1M140.3 273.2h1M135.0 254.4h1M146.5 262.3h1M137.7 238.2h1M144.0 270.1h1M144.6 254.8h1M138.6 244.0h1M146.6 258.6h1M143.4 266.6h1M143.7 252.9h1M160.0 264.0h1M140.5 253.1h1M147.5 252.4h1M142.0 237.8h1M141.8 263.8h1M150.4 254.0h1M142.0 247.3h1M137.7 257.0h1M138.5 249.2h1M147.0 275.5h1M142.3 259.8h1M152.8 272.6h1M158.7 246.4h1M151.1 229.6h1M155.0 254.7h1M146.6 252.5h1M150.1 258.0h1M135.8 238.0h1M132.8 260.9h1M150.3 273.0h1M144.7 252.5h1M143.2 273.3h1M137.0 253.9h1M134.8 256.6h1M139.8 249.3h1M153.4 238.3h1M134.7 229.4h1M138.5 240.0h1M135.2 253.2h1M142.7 266.0h1M141.0 235.1h1M154.9 238.8h1M138.3 237.5h1M150.8 256.7h1M145.8 266.5h1M135.0 260.4h1M153.9 246.7h1M153.0 261.2h1M142.2 236.4h1M155.0 274.4h1M150.8 238.4h1M134.5 228.1h1M146.4 245.2h1M154.8 255.6h1M155.3 254.5h1M148.6 240.1h1M150.3 257.8h1M148.6 254.6h1M139.5 262.4h1M149.9 251.0h1M140.6 275.4h1M137.2 264.5h1M153.5 270.4h1M130.7 258.9h1M141.3 261.9h1M145.4 263.9h1M144.4 252.3h1M143.9 268.9h1M149.7 250.9h1M155.2 277.7h1M145.6 246.6h1M152.0 261.6h1M147.9 261.0h1M144.0 266.6h1M144.8 228.2h1M146.6 265.1h1M147.9 263.7h1M145.4 243.1h1M150.3 267.1h1M141.2 265.0h1M147.3 235.9h1M150.2 245.3h1M146.8 224.9h1M154.4 252.7h1M149.1 251.9h1M139.6 257.6h1M138.8 260.6h1M152.4 253.1h1M136.9 268.6h1M138.9 255.6h1M147.1 256.9h1M136.1 264.1h1M141.1 255.7h1M154.7 267.3h1M144.4 253.3h1M154.9 257.1h1M136.5 250.5h1M145.6 255.3h1M145.3 247.7h1M144.5 241.4h1M148.8 248.6h1M140.8 261.5h1M141.2 259.4h1M151.1 260.1h1M142.9 260.9h1M141.5 252.8h1M144.2 251.1h1M139.4 250.3h1M157.2 250.3h1M152.7 247.6h1M145.4 256.1h1M139.9 257.3h1M153.2 261.8h1M139.6 258.0h1M149.7 256.9h1M141.5 255.2h1M143.4 267.1h1M157.6 243.8h1M149.7 265.0h1M139.0 247.0h1M143.0 251.8h1M143.8 245.7h1M132.9 262.6h1M145.4 278.4h1M143.3 241.5h1M143.6 264.6h1M144.0 243.8h1M150.2 259.6h1M146.5 254.8h1M143.9 257.5h1M144.9 248.5h1M142.5 249.8h1M147.8 254.3h1M157.0 254.2h1M149.6 257.2h1M133.3 260.2h1M146.8 257.4h1M148.2 250.8h1M148.0 275.8h1M135.6 245.2h1M147.6 254.9h1M139.0 243.2h1M136.7 248.9h1M144.5 244.2h1M153.6 244.5h1M146.8 271.3h1M154.3 247.0h1M149.2 253.7h1M147.8 267.1h1M143.4 252.8h1M155.8 266.3h1M142.9 258.4h1M148.3 256.6h1M141.5 235.2h1M146.6 244.7h1M147.6 273.0h1M155.4 279.9h1M140.7 254.7h1M130.7 264.7h1M154.9 268.5h1M150.1 263.7h1M147.2 273.5h1M143.4 250.4h1M135.1 254.1h1M153.5 260.8h1M140.2 271.8h1M154.5 241.1h1M136.5 272.1h1M147.3 243.4h1M149.1 254.7h1M141.4 272.5h1M138.3 233.7h1M153.6 245.7h1M140.9 262.0h1M151.7 254.1h1M147.0 258.8h1M157.5 267.9h1M144.7 266.9h1M151.6 254.4h1M151.4 250.0h1M156.2 235.2h1M133.4 252.3h1M144.8 264.9h1M148.1 239.0h1M153.7 252.1h1M148.8 255.3h1M151.3 255.0h1M141.0 234.2h1M152.8 246.5h1M147.6 245.4h1M144.7 251.3h1M154.2 272.3h1M135.2 251.7h1M150.6 259.8h1M146.0 243.8h1M153.3 270.3h1M142.3 254.7h1M147.1 272.6h1M153.0 256.4h1M148.6 272.6h1M143.3 241.8h1M136.4 266.3h1M144.3 277.5h1M161.8 243.3h1M142.5 255.5h1M146.2 254.5h1M146.9 247.9h1M148.3 254.8h1M153.3 252.4h1M143.6 270.4h1M159.9 256.0h1M140.0 262.0h1M153.3 267.0h1M148.0 261.3h1M144.8 257.8h1M141.8 267.5h1M149.5 248.4h1M144.6 248.6h1M144.3 265.4h1M144.7 258.9h1M133.6 251.9h1M139.3 264.5h1M139.2 252.6h1M148.3 257.7h1M143.6 278.6h1M155.4 259.9h1M147.3 257.7h1M152.9 270.3h1M154.1 259.2h1M146.6 241.0h1M135.6 270.8h1M142.7 254.6h1M151.2 276.6h1M148.0 267.0h1M146.8 242.7h1M143.8 261.7h1M153.6 259.7h1M139.5 242.9h1M152.3 263.4h1M154.7 274.9h1M140.6 264.5h1M146.9 241.9h1M158.2 257.6h1M155.1 261.7h1M134.4 252.6h1M152.7 244.3h1M143.9 258.6h1M143.8 277.3h1M139.1 270.8h1M143.5 261.2h1M132.6 258.8h1M153.6 247.9h1M153.9 293.9h1M142.3 263.3h1M146.2 265.2h1M153.3 259.5h1M136.2 270.8h1M145.2 243.6h1M151.3 255.0h1M129.8 252.7h1M151.0 257.9h1M149.4 262.4h1M138.0 258.2h1M153.2 256.0h1M151.1 254.7h1M155.0 265.4h1M151.6 243.7h1M143.3 268.6h1M151.8 251.8h1M154.8 249.4h1M147.3 263.7h1M139.6 247.6h1M142.6 253.3h1M138.2 265.4h1M144.6 258.3h1M144.7 250.9h1M151.9 250.8h1M136.2 253.7h1M143.8 254.4h1M129.4 253.6h1M144.3 257.8h1M154.2 247.1h1M140.2 280.3h1M149.3 273.7h1M145.6 264.2h1M148.9 271.1h1M147.0 247.1h1M154.3 250.6h1M138.0 259.1h1M136.5 251.9h1M158.2 246.2h1M158.3 261.1h1M151.1 273.4h1M151.0 259.2h1M144.2 262.3h1M141.9 244.8h1M135.2 239.0h1M154.5 262.4h1M150.8 263.5h1M137.7 267.2h1M146.0 243.7h1M148.0 246.0h1M143.6 267.6h1M155.2 244.9h1M140.7 258.3h1M142.1 261.3h1M146.0 256.8h1M151.3 254.0h1M146.9 279.4h1M153.5 263.4h1M147.6 263.8h1M148.4 263.7h1M137.2 271.2h1M155.8 251.0h1M145.1 266.5h1M146.9 267.2h1M149.2 247.8h1M148.0 244.2h1M153.9 257.9h1M137.6 262.7h1M147.1 266.4h1M151.1 274.7h1M158.6 262.2h1M137.8 252.0h1M139.0 267.7h1M142.7 242.4h1M151.8 228.4h1M145.9 256.7h1M147.6 263.4h1M142.7 256.6h1M140.1 241.5h1M145.3 249.2h1M131.1 252.0h1M143.4 247.4h1M159.0 260.4h1M142.5 247.1h1M152.9 233.4h1M150.0 267.3h1M146.1 255.5h1M134.2 259.2h1M145.9 271.5h1M142.3 239.1h1M151.7 242.8h1M147.0 252.2h1M147.7 279.8h1M142.7 252.6h1M142.0 265.4h1M145.2 260.1h1M140.6 256.1h1M158.4 264.3h1M148.2 260.9h1M159.1 254.4h1M148.9 279.4h1M149.8 251.5h1M147.4 252.1h1M149.4 247.2h1M147.4 282.3h1M139.3 265.0h1M136.8 271.1h1M153.6 236.0h1M135.7 248.7h1M144.0 253.6h1M137.0 252.2h1M146.2 275.9h1M143.2 240.2h1M140.6 250.8h1M140.6 251.1h1M140.2 253.2h1M147.4 267.1h1M142.6 254.9h1M145.3 255.6h1M148.3 265.2h1M148.5 257.7h1M138.2 258.7h1M138.2 237.4h1M140.1 265.9h1M150.6 263.1h1M159.7 265.2h1M147.7 239.7h1M156.1 247.2h1M158.3 251.8h1M150.8 265.6h1M140.6 265.5h1M148.2 240.9h1M138.1 264.4h1M149.4 255.5h1M150.8 264.0h1M152.4 274.8h1M149.1 250.6h1M153.5 261.6h1M150.3 270.9h1M153.9 253.1h1M138.7 250.4h1M160.6 276.3h1M150.9 264.3h1M140.5 249.9h1M152.4 257.9h1M144.1 248.4h1M157.0 262.9h1M150.7 261.0h1M157.1 289.4h1M140.6 251.2h1M145.8 242.3h1M151.0 253.5h1M145.3 270.0h1M146.6 273.2h1M145.7 259.4h1M143.7 257.3h1M146.5 239.4h1M146.4 249.8h1M142.9 258.3h1M147.0 256.9h1M153.4 228.4h1M151.3 241.7h1M141.4 249.4h1M139.9 251.8h1M141.6 267.3h1M148.7 260.1h1M142.1 284.0h1M136.1 240.5h1M144.8 238.5h1M138.1 256.6h1M149.9 257.9h1M153.9 258.1h1M150.8 258.6h1M159.3 272.6h1M145.6 264.6h1M150.3 243.1h1M144.7 264.7h1M150.2 252.9h1M153.5 260.1h1M143.7 241.1h1M152.8 263.4h1M137.3 250.5h1M144.7 245.7h1M147.1 244.1h1M149.7 261.1h1M154.0 268.8h1M151.6 257.8h1M159.5 255.6h1M144.2 256.9h1M143.8 262.4h1M146.7 270.1h1M149.4 253.1h1M144.7 252.6h1M151.7 267.6h1M148.8 248.7h1M136.8 240.0h1M141.5 252.0h1M143.5 274.3h1M142.6 242.7h1M142.0 243.8h1M129.8 258.3h1M148.7 259.2h1M132.5 258.0h1M134.0 266.6h1M140.0 263.1h1M145.9 231.7h1M140.2 256.9h1M153.2 253.3h1M140.9 247.6h1M145.1 254.9h1M141.5 244.7h1M157.2 243.5h1M142.3 245.1h1M146.8 249.5h1M156.8 258.9h1M141.8 264.0h1M149.4 263.0h1M140.8 252.8h1M154.9 253.0h1M144.9 266.3h1M158.6 259.5h1M157.8 257.3h1M150.3 259.4h1M146.9 266.0h1M151.7 265.0h1M149.2 258.5h1M151.6 262.0h1M155.3 263.8h1M135.0 251.2h1M156.0 260.6h1M158.9 279.7h1M149.5 263.9h1M159.6 249.0h1M147.5 255.5h1M148.3 257.6h1M132.0 253.3h1M150.4 264.7h1M138.7 258.2h1M151.9 253.6h1M141.1 270.5h1M143.0 263.8h1M142.9 254.7h1M136.5 282.9h1M150.6 261.2h1M143.2 250.6h1M137.0 256.4h1M149.2 262.5h1M148.7 274.2h1M131.1 234.3h1M142.8 267.8h1M154.1 283.1h1M144.0 241.9h1M151.5 275.5h1M148.8 252.0h1M155.7 273.5h1M136.4 252.8h1M157.4 249.6h1M149.2 262.7h1M144.6 242.0h1M154.1 244.1h1M143.6 271.0h1M134.5 239.0h1M154.7 255.3h1M137.9 261.7h1M140.0 256.2h1M148.5 263.2h1M140.5 254.1h1M136.4 255.3h1M149.6 264.5h1M148.3 247.8h1M138.5 275.8h1M153.2 258.0h1M155.3 284.7h1M159.9 247.6h1M138.6 256.2h1M138.7 246.1h1M150.2 235.6h1M145.1 254.5h1M145.5 245.8h1M136.1 255.4h1M155.4 248.8h1M130.9 230.2h1M157.3 258.8h1M153.7 265.2h1M146.8 267.5h1M149.9 248.6h1M154.5 248.0h1M154.5 248.1h1M140.6 248.1h1M147.8 256.2h1M150.5 261.9h1M160.0 239.2h1M149.5 265.0h1M142.4 258.5h1M148.0 263.8h1M148.2 251.4h1M136.6 244.3h1M148.3 268.4h1M150.2 257.6h1M138.8 263.2h1M151.1 280.6h1M138.3 257.8h1M142.7 243.0h1M139.1 249.7h1M146.5 274.7h1M146.9 242.0h1M143.5 265.5h1M146.7 260.1h1M134.4 250.5h1M129.5 248.3h1M145.5 255.6h1M145.9 255.5h1M135.1 284.0h1M151.1 248.5h1M147.9 260.9h1M150.0 263.0h1M150.5 248.8h1M157.2 238.1h1M152.7 256.5h1M147.8 240.5h1M153.5 272.7h1M144.8 253.3h1M142.2 261.5h1M142.3 257.9h1M147.3 258.4h1M144.0 249.4h1M143.7 271.6h1M145.8 245.8h1M150.7 255.8h1M148.2 276.3h1M143.8 260.3h1M147.6 252.7h1M151.1 250.0h1M147.4 246.2h1M141.8 254.8h1M150.5 248.3h1M158.5 273.6h1M148.4 247.7h1M140.9 261.8h1M152.1 274.5h1M147.4 237.4h1M149.7 266.5h1M145.7 252.5h1M147.3 247.0h1M153.0 257.1h1M152.2 251.5h1M145.7 261.9h1M144.8 260.3h1M156.3 258.1h1M148.9 246.4h1M154.1 252.2h1M139.6 258.5h1M153.0 248.5h1M142.5 262.1h1M138.2 256.8h1M134.0 265.6h1M153.9 259.2h1M152.3 262.6h1M157.2 233.2h1M142.3 270.4h1M147.3 260.3h1M155.8 259.4h1M136.1 248.0h1M147.0 249.7h1M156.7 264.8h1M147.8 276.7h1M135.6 250.3h1M149.8 266.2h1M149.5 253.5h1M140.2 256.6h1M150.9 254.3h1M144.8 251.7h1M141.2 260.0h1M151.4 273.5h1M137.3 263.7h1M149.3 253.1h1M162.0 244.6h1M145.4 257.8h1M146.8 262.2h1M149.5 264.8h1M144.3 255.3h1M153.8 252.6h1M147.0 259.3h1M136.9 246.7h1M152.6 245.0h1M145.7 256.4h1M131.7 277.4h1M152.4 275.5h1M140.9 244.2h1M140.5 258.6h1M148.8 239.6h1M146.7 256.9h1M142.4 260.2h1M153.8 263.5h1M131.4 278.9h1M143.4 278.2h1M151.8 268.2h1M146.0 259.1h1M153.9 265.2h1M148.1 255.0h1M151.1 276.0h1M140.9 243.8h1M142.3 255.1h1M145.0 257.1h1M147.5 256.0h1M154.8 260.5h1M152.0 261.9h1M147.3 245.5h1M144.8 249.4h1M149.5 255.9h1M143.7 251.9h1M142.4 262.0h1M164.1 257.7h1M142.9 238.5h1M156.9 257.0h1M144.7 251.0h1M155.9 264.7h1M141.8 262.4h1M158.2 246.4h1M150.3 274.4h1M152.3 258.2h1M156.7 257.5h1M149.8 269.1h1M145.4 264.4h1M147.1 248.9h1M141.0 246.4h1M150.6 253.4h1M154.9 269.1h1M139.6 271.8h1M146.1 261.6h1M156.3 247.3h1M167.3 252.4h1M147.9 260.7h1M147.4 265.6h1M149.2 240.5h1M148.6 273.5h1M136.0 276.1h1M148.8 252.5h1M143.3 254.9h1M158.5 236.1h1M145.9 238.3h1M149.7 266.5h1M153.2 256.6h1M149.9 245.3h1M157.4 236.0h1M155.2 236.9h1M144.7 261.5h1M148.2 234.7h1M141.5 262.1h1M137.3 234.6h1M155.4 271.2h1M149.7 240.5h1M149.5 243.2h1M151.0 244.1h1M157.8 238.3h1M155.6 261.8h1M153.2 255.5h1M153.4 258.5h1M142.7 252.6h1M147.7 256.2h1M143.6 276.2h1M147.1 264.0h1M145.5 263.8h1M145.8 235.1h1M148.7 278.5h1M151.0 248.2h1M136.3 270.6h1M145.4 273.5h1M155.0 252.4h1M147.0 270.8h1M140.3 251.5h1M147.4 259.2h1M147.3 256.3h1M144.9 248.7h1M146.3 260.3h1M143.1 254.0h1M152.0 267.7h1M142.8 263.6h1M147.0 268.7h1M146.4 228.4h1M141.2 256.3h1M151.2 273.6h1M148.2 263.2h1M140.6 250.2h1M147.2 257.1h1M152.1 257.3h1M152.7 239.5h1M142.8 281.9h1M139.2 263.2h1M147.0 251.6h1M152.1 276.6h1M146.3 275.1h1M141.5 259.9h1M155.8 251.8h1M151.7 261.4h1M148.6 283.3h1M144.1 251.2h1M144.2 260.0h1M155.0 257.6h1M142.0 262.7h1M152.6 240.5h1M153.0 244.0h1M158.1 247.6h1M138.1 266.3h1M147.7 261.2h1M154.0 257.1h1M146.3 267.5h1M146.5 254.2h1M144.4 247.1h1M154.4 260.1h1M147.0 250.6h1M143.6 234.1h1M149.5 281.5h1M147.0 267.6h1M145.3 250.9h1M138.5 264.2h1M146.0 261.2h1M147.9 239.7h1M148.2 267.2h1M149.0 270.1h1M153.0 244.2h1M148.4 241.5h1M142.9 262.1h1M155.4 266.3h1M146.1 259.4h1M138.4 275.2h1M142.5 248.3h1M157.1 263.3h1M143.4 254.5h1M140.6 241.0h1M151.6 281.9h1M147.0 272.6h1M143.2 256.1h1M148.9 260.4h1M159.8 238.8h1M153.8 259.9h1M140.2 249.0h1M138.9 248.2h1M147.2 258.6h1M142.1 223.7h1M160.7 240.4h1M144.6 275.2h1M146.0 253.9h1M142.6 259.2h1M146.4 248.6h1M139.1 252.4h1M134.5 245.8h1M155.0 267.5h1M143.8 257.6h1M152.5 252.8h1M143.2 251.0h1M156.0 271.1h1M155.5 267.1h1M151.7 255.6h1M152.5 260.9h1M164.2 279.3h1M150.1 261.1h1M170.5 267.3h1M144.9 254.3h1M153.8 257.8h1M145.5 277.8h1M148.2 249.0h1M152.1 257.2h1M149.7 263.5h1M148.7 273.1h1M134.2 266.7h1M149.9 245.5h1M139.4 259.1h1M153.7 255.1h1M143.5 259.7h1M156.3 245.4h1M141.9 239.9h1M138.2 271.1h1M147.1 257.4h1M141.9 240.8h1M139.8 250.9h1M145.3 256.1h1M135.0 248.8h1M152.0 258.1h1M140.5 255.7h1M145.5 251.2h1M141.2 248.6h1M148.9 241.7h1M144.9 248.7h1M152.3 251.7h1M142.6 250.4h1M153.2 242.7h1M133.6 245.4h1M152.3 251.5h1M146.5 266.7h1M147.2 266.0h1M155.6 268.6h1M138.1 272.6h1M152.5 257.5h1M159.7 251.5h1M164.3 256.0h1M154.1 246.8h1M150.6 255.7h1M138.8 260.7h1M148.7 242.7h1M151.1 278.1h1M137.7 256.2h1M165.9 259.1h1M165.8 262.4h1M141.9 248.2h1M142.5 247.2h1M158.0 249.3h1M153.9 258.0h1M142.1 274.2h1M144.4 266.2h1M154.8 252.2h1M144.6 264.0h1M151.4 257.4h1M150.3 274.3h1M153.2 254.2h1M148.2 257.9h1M160.4 254.9h1M154.4 244.8h1M141.3 256.6h1M142.6 267.3h1M149.1 268.0h1M154.4 252.6h1M139.6 255.5h1M133.3 256.1h1M140.7 242.5h1M156.8 248.7h1M143.7 236.8h1M139.3 264.7h1M145.9 279.3h1M150.1 245.7h1M137.2 234.8h1M143.5 270.1h1M152.5 247.7h1M150.8 260.5h1M152.3 262.5h1M156.8 263.9h1M147.5 258.6h1M148.7 257.9h1M147.8 254.3h1M138.3 272.1h1M149.5 249.2h1M159.6 258.9h1M138.7 237.0h1M143.1 239.7h1M139.8 245.8h1M144.6 253.2h1M147.1 274.7h1M150.5 254.4h1M149.1 265.8h1M134.6 248.3h1M155.8 279.8h1M144.9 257.4h1M141.0 255.8h1M135.7 270.8h1M152.3 258.7h1M141.2 254.0h1M137.1 257.7h1M144.3 258.2h1M144.9 255.8h1M140.8 272.1h1M147.0 265.0h1M147.5 259.1h1M143.3 253.8h1M146.7 252.9h1M153.7 267.5h1M143.0 251.0h1M154.3 274.3h1M141.6 248.5h1M150.9 264.4h1M144.3 252.9h1M134.9 249.1h1M140.3 264.6h1M144.2 259.9h1M144.4 255.7h1M158.7 241.4h1M158.6 246.2h1M147.2 271.9h1M146.9 245.3h1M144.0 242.3h1M148.8 258.5h1M158.5 243.2h1M145.5 243.8h1M151.2 233.7h1M147.2 240.4h1M151.7 259.5h1M143.4 267.5h1M143.9 276.1h1M153.5 256.6h1M148.9 248.0h1M148.0 248.6h1M144.5 262.9h1M141.5 255.1h1M149.6 253.3h1M150.6 252.3h1M149.0 273.4h1M145.5 251.4h1M141.9 250.9h1M141.7 249.8h1M144.0 257.3h1M157.7 268.4h1M154.8 273.3h1M143.5 272.6h1M140.6 263.6h1M146.9 266.1h1M153.5 273.1h1M160.1 259.2h1M148.1 248.9h1M150.7 276.5h1M142.9 260.2h1M132.6 250.5h1M152.5 246.8h1M137.0 251.5h1M146.0 259.6h1M143.9 256.4h1M145.8 266.3h1M145.1 256.3h1M147.1 258.7h1M158.7 231.5h1M146.7 254.9h1M154.8 270.1h1M136.9 259.7h1M138.1 276.8h1M144.3 271.0h1M142.3 253.4h1M143.3 284.0h1M158.3 247.1h1M145.7 242.9h1M145.7 261.7h1M157.3 249.4h1M146.3 279.8h1M144.5 254.6h1M144.9 264.3h1M148.3 236.6h1M142.2 248.5h1M151.0 248.1h1M152.8 269.6h1M158.4 244.2h1M150.2 246.5h1M137.8 258.6h1M132.8 251.6h1M141.6 237.8h1M145.2 254.4h1M151.3 260.9h1M135.7 244.4h1M153.8 247.8h1M146.1 271.6h1M147.3 270.3h1M131.8 258.2h1M148.7 255.0h1M150.7 243.5h1M141.3 250.0h1M155.7 244.8h1M150.7 265.0h1M147.0 264.8h1M149.6 272.8h1M143.7 263.1h1M141.1 275.7h1M154.9 274.7h1M141.0 249.6h1M158.6 289.6h1M151.3 243.5h1M138.2 253.8h1M145.8 258.6h1M149.3 266.2h1M155.8 268.1h1M135.2 250.2h1M153.5 247.4h1M144.6 250.5h1M155.4 267.9h1M150.2 251.6h1M150.9 247.6h1M135.4 245.5h1M156.7 245.3h1M151.7 242.0h1M152.9 239.4h1M146.2 271.4h1M151.1 259.3h1M150.8 254.4h1M143.4 261.2h1M147.7 268.3h1M155.9 267.0h1M147.7 263.1h1M139.9 260.3h1M132.9 273.4h1M158.9 249.7h1M143.9 254.4h1M145.1 249.4h1M143.5 255.1h1M145.1 250.0h1M157.3 250.0h1M144.1 255.0h1M148.8 268.5h1M145.3 244.9h1M153.4 248.2h1M146.8 264.4h1M158.0 265.0h1M156.4 243.3h1M156.7 243.9h1M140.5 257.3h1M134.5 242.5h1M152.2 282.8h1M146.3 251.2h1M150.6 258.1h1M151.1 250.8h1M150.4 240.8h1M149.0 266.4h1M147.1 262.4h1M141.9 271.7h1M138.9 256.6h1M138.0 260.4h1M143.6 254.7h1M151.7 262.8h1M143.8 238.0h1M134.3 253.8h1M140.8 239.8h1M137.8 240.3h1M145.0 264.6h1M140.8 245.3h1M142.4 254.4h1M147.0 241.0h1M139.0 260.5h1M145.2 267.5h1M150.5 255.7h1M138.1 257.7h1M139.8 257.0h1M156.4 268.5h1M152.7 261.1h1M143.8 261.0h1M156.4 243.9h1M148.8 257.4h1M151.4 259.9h1M150.4 268.1h1M148.3 259.3h1M160.6 256.9h1M152.3 261.7h1M148.1 262.9h1M140.5 252.9h1M144.0 268.8h1M145.1 257.4h1M152.9 262.4h1M143.8 237.7h1M146.0 258.2h1M148.0 255.0h1M145.9 271.6h1M141.9 257.9h1M144.0 252.7h1M147.1 254.1h1M152.6 259.1h1M150.8 236.4h1M152.8 251.4h1M152.5 251.6h1M142.7 256.3h1M143.5 250.7h1M151.1 250.3h1M154.1 249.8h1M140.1 268.0h1M147.8 269.7h1M142.4 259.7h1M150.4 258.1h1M147.4 255.0h1M144.8 263.5h1M153.5 264.2h1M152.1 249.0h1M151.8 254.3h1M147.4 254.9h1M151.8 273.1h1M154.2 260.4h1M135.3 259.0h1M139.7 243.6h1M150.5 259.7h1M140.1 250.8h1M160.4 243.5h1M152.0 239.7h1M146.0 271.4h1M137.3 256.3h1M145.7 268.6h1M147.9 275.4h1M159.0 260.1h1M148.6 252.5h1M149.2 251.2h1M145.7 253.7h1M145.3 271.1h1M155.8 252.3h1M147.8 260.2h1M148.8 249.0h1M137.2 261.9h1M145.5 250.3h1M129.4 255.0h1M142.8 269.8h1M145.7 258.2h1M152.7 253.0h1M154.4 256.0h1M141.7 254.9h1M157.5 263.8h1M146.2 277.4h1M137.5 239.1h1M143.8 265.4h1M143.2 245.4h1M153.2 252.7h1M148.8 249.2h1M144.9 271.2h1M142.4 253.8h1M149.2 258.4h1M143.2 265.0h1M140.4 262.1h1M144.8 263.3h1M147.9 269.8h1M161.8 248.5h1M151.6 252.1h1M144.9 264.4h1M153.7 243.7h1M150.4 255.0h1M153.5 258.6h1M153.5 262.9h1M130.6 238.1h1M136.8 262.7h1M146.8 240.4h1M138.1 252.1h1M149.5 250.8h1M157.1 260.7h1M153.4 271.9h1M133.4 269.2h1M143.9 248.9h1M148.2 259.6h1M153.1 262.8h1M142.8 223.1h1M146.4 243.5h1M139.5 250.0h1M155.1 262.2h1M150.5 259.7h1M151.2 251.0h1M144.1 248.6h1M149.0 268.2h1M133.9 245.7h1M143.7 254.2h1M154.9 257.1h1M151.8 262.4h1M148.9 258.8h1M148.4 243.4h1M139.1 265.2h1M147.8 255.2h1M156.5 248.8h1M140.5 246.8h1M151.6 244.2h1M150.6 248.8h1M150.6 270.9h1M145.5 229.5h1M152.3 245.0h1M151.3 241.1h1M138.7 246.9h1M150.8 264.6h1M143.0 253.2h1M146.6 260.4h1M166.8 258.2h1M150.1 258.9h1M138.0 241.5h1M156.5 271.5h1M142.7 253.1h1M146.3 248.4h1M163.4 275.3h1M140.2 260.7h1M142.7 248.5h1M140.6 256.6h1M139.9 238.1h1M143.6 263.5h1M141.3 246.8h1M164.3 229.9h1M149.9 260.4h1M147.8 258.6h1M177.5 260.9h1M140.5 282.1h1M133.4 240.6h1M141.3 269.8h1M146.9 261.6h1M139.5 255.5h1M140.3 250.7h1M149.1 269.6h1M156.0 268.2h1M147.9 251.9h1M144.4 254.4h1M146.4 270.2h1M133.5 278.5h1M158.7 260.6h1M138.8 266.0h1M150.7 266.9h1M155.6 249.9h1M155.3 262.2h1M143.5 244.2h1M139.2 263.3h1M157.7 241.8h1M133.0 263.5h1M158.4 263.9h1M158.0 244.2h1M141.1 245.8h1M128.9 264.8h1M136.5 259.1h1M152.1 268.7h1M134.5 272.8h1M157.8 282.4h1M149.9 278.0h1M135.3 237.7h1M152.4 236.4h1M153.7 268.8h1M171.8 276.9h1M141.0 276.8h1M157.6 241.7h1M158.0 250.7h1M155.0 241.0h1M139.8 271.0h1M144.3 251.0h1M137.9 243.1h1M141.5 261.3h1M143.8 254.3h1M162.7 298.3h1M172.6 267.5h1M135.0 258.4h1M161.2 283.8h1M152.5 278.8h1M139.2 259.0h1M151.0 265.2h1M179.0 276.1h1M147.7 294.6h1M145.1 276.0h1M153.9 277.2h1M145.2 261.3h1M153.9 270.7h1M150.7 260.9h1M135.2 273.5h1M147.3 279.0h1M136.8 236.6h1M176.5 254.8h1M138.5 274.5h1M165.6 247.0h1M147.5 227.7h1M134.6 258.0h1M141.1 260.9h1M150.4 252.4h1M166.0 248.4h1M151.7 268.5h1M152.1 263.0h1M141.9 260.2h1M142.7 242.3h1M135.7 266.7h1M138.4 284.6h1M155.0 278.8h1M159.8 275.0h1M141.5 264.8h1M147.1 252.1h1M148.3 244.4h1M147.3 263.8h1M149.2 254.1h1M150.9 249.1h1M134.0 247.2h1M140.4 244.5h1M134.4 262.4h1M131.5 243.6h1M135.6 285.8h1M161.4 255.6h1M134.2 232.6h1M144.1 231.7h1M159.7 261.1h1M159.0 245.0h1M145.3 250.5h1M151.2 262.6h1M146.5 280.0h1M144.1 250.5h1M164.0 247.2h1M157.5 245.9h1M139.5 254.3h1M132.1 271.4h1M165.8 254.9h1M155.0 283.0h1M152.6 253.4h1M168.8 244.6h1M146.4 255.1h1M164.1 234.1h1M166.7 278.3h1M149.6 249.2h1M148.7 272.9h1M134.0 240.0h1M133.3 258.4h1M144.4 263.8h1M139.5 261.9h1M154.2 267.3h1M162.1 268.0h1M137.8 262.4h1M147.9 244.5h1M153.2 282.1h1M149.9 254.8h1M145.1 238.8h1M150.7 247.8h1M143.5 224.9h1M150.3 283.1h1M129.3 275.6h1M141.7 284.1h1M149.7 278.7h1M139.0 253.3h1M159.5 258.6h1M161.5 247.7h1M162.8 245.9h1M139.3 242.3h1M140.8 250.9h1M133.3 253.3h1M154.7 250.6h1M139.0 265.3h1M156.1 248.8h1M149.9 255.8h1M155.5 239.4h1M156.5 256.5h1M138.4 274.8h1M141.7 278.8h1M151.5 239.1h1M155.2 278.5h1M164.8 242.4h1M140.6 243.3h1M161.2 268.8h1M144.2 262.5h1M158.4 264.3h1M155.7 271.0h1M151.4 281.1h1M142.0 259.2h1M154.5 262.5h1M158.4 274.1h1M133.8 271.9h1M152.4 265.6h1M144.5 255.9h1M138.4 266.6h1M154.2 249.3h1M176.1 228.0h1M146.1 266.6h1M150.5 275.2h1M150.8 264.7h1M142.4 261.8h1M149.3 261.7h1M132.1 269.4h1M136.6 273.3h1M153.7 263.9h1M146.0 249.0h1M151.3 230.1h1M141.9 241.7h1M133.4 255.5h1M155.7 268.4h1M144.1 278.3h1M140.0 264.1h1M160.4 262.9h1M146.0 259.2h1M144.2 254.0h1M148.1 252.4h1M145.9 275.1h1M163.0 258.6h1M130.6 269.5h1M156.1 278.0h1M145.0 250.6h1M149.5 230.4h1M145.9 252.2h1M146.6 270.3h1M153.3 230.3h1M161.0 261.1h1M158.3 256.2h1M148.1 225.9h1M143.8 233.8h1M157.8 258.2h1M146.2 258.6h1M143.4 238.4h1M149.0 248.6h1M139.7 279.0h1M129.3 270.6h1M157.1 262.2h1M137.3 258.5h1M163.0 248.1h1M172.1 256.9h1M150.4 287.0h1M145.1 251.9h1M150.3 262.0h1M143.1 251.2h1M142.8 266.9h1M154.3 263.7h1M160.8 286.6h1M151.8 254.9h1M154.7 290.9h1M141.1 268.2h1M150.8 244.1h1M150.7 231.0h1M159.9 266.1h1M136.1 278.3h1M133.1 257.6h1M160.1 234.0h1M158.0 229.5h1M148.9 271.0h1M158.8 248.1h1M176.0 272.2h1M135.3 266.9h1M133.2 251.7h1M146.7 265.0h1M149.2 260.3h1M157.9 264.7h1M134.9 246.3h1M141.2 252.5h1M165.7 242.8h1M158.1 244.3h1M129.8 268.5h1M148.6 253.7h1M151.4 260.4h1M161.7 270.0h1M167.2 258.0h1M133.6 245.3h1M138.5 264.4h1M166.2 266.2h1M160.0 259.2h1M151.4 262.1h1M152.0 243.5h1M137.7 280.6h1M153.9 265.1h1M134.9 255.2h1M129.7 261.5h1M156.4 277.0h1M144.1 274.7h1M149.2 245.9h1M158.4 254.8h1M131.5 232.9h1M148.3 255.5h1M156.6 297.7h1M141.8 272.0h1M139.4 238.7h1M140.9 234.0h1M137.1 252.2h1M145.2 240.2h1M142.7 271.8h1M136.5 267.3h1M143.8 232.5h1M167.0 289.1h1M164.3 266.2h1M159.1 251.5h1M133.8 257.2h1M158.2 257.5h1M153.2 256.8h1M146.9 252.7h1M154.2 251.2h1M161.7 264.5h1M153.5 240.1h1M136.2 260.2h1M145.0 274.2h1M148.5 244.8h1M133.5 251.0h1M134.4 226.5h1M148.3 266.5h1M142.9 257.2h1M130.6 258.4h1M149.9 267.2h1M134.4 281.7h1M148.1 255.2h1M138.3 242.1h1M139.8 256.2h1M141.0 272.4h1M158.5 267.2h1M162.2 260.7h1M150.7 244.5h1M142.6 226.8h1M141.8 263.5h1M143.4 278.4h1M150.3 249.6h1M148.3 257.5h1M157.2 244.1h1M166.2 257.3h1M166.6 236.0h1M148.9 248.1h1M132.1 262.4h1M162.7 285.6h1M144.0 265.9h1M145.6 265.4h1M161.5 292.1h1M144.5 264.6h1M158.1 276.8h1M164.5 276.4h1M138.0 263.3h1M160.8 269.2h1M139.6 249.3h1M148.0 262.8h1M151.5 273.5h1M150.8 258.7h1M145.0 242.4h1M155.1 255.8h1M141.2 251.4h1M138.5 252.3h1M165.2 259.3h1M138.3 280.8h1M140.4 252.8h1M146.7 293.8h1M152.4 256.6h1M137.7 246.4h1M142.6 285.1h1M158.1 275.2h1M152.4 261.5h1M151.9 259.1h1M166.1 256.8h1M167.9 246.8h1M168.0 267.6h1M142.6 265.6h1M147.0 251.6h1M134.3 277.0h1M132.4 238.3h1M154.3 238.5h1M160.6 258.4h1M135.8 273.6h1M137.6 247.2h1M150.4 250.8h1M152.8 277.2h1M152.9 255.2h1M135.1 236.5h1M132.8 283.3h1M135.4 245.1h1M154.6 271.9h1M153.5 227.2h1M148.7 267.7h1M148.8 246.7h1M147.5 262.4h1M131.5 257.4h1M155.3 291.9h1M152.9 267.3h1M151.3 270.5h1M167.5 239.0h1M153.2 267.0h1M162.8 261.5h1M130.7 242.8h1M139.2 259.9h1M139.7 293.2h1M136.4 279.9h1M139.1 231.8h1M134.8 255.1h1M150.6 246.5h1M159.1 245.7h1M144.4 265.7h1M135.8 259.8h1M146.9 263.6h1M168.5 276.7h1M164.7 254.2h1M144.7 261.8h1M151.9 244.1h1M155.5 245.9h1M138.9 256.9h1M142.2 242.6h1M158.9 258.5h1M154.3 257.3h1M130.0 255.9h1M144.1 250.3h1M155.0 255.2h1M153.6 242.4h1M143.2 251.1h1M138.0 265.4h1M147.7 262.3h1M136.0 278.9h1M162.4 260.4h1M144.4 251.7h1M153.7 237.6h1M135.5 228.9h1M140.4 252.3h1M135.1 251.3h1M135.1 279.5h1M165.6 258.9h1M157.1 258.9h1M157.8 263.5h1M147.8 280.0h1M129.1 269.0h1M148.3 264.7h1M149.2 277.4h1M162.8 280.3h1M159.5 233.6h1M162.8 264.7h1M172.7 269.5h1M153.5 270.6h1M143.0 263.4h1M130.3 260.9h1M149.5 263.3h1M156.3 261.7h1M151.6 252.4h1M131.5 259.7h1M139.4 268.7h1M151.0 257.5h1M145.5 236.9h1M135.4 245.6h1M138.3 263.7h1M136.3 249.7h1M149.8 269.1h1M150.3 272.5h1M165.7 285.2h1M151.9 280.9h1M152.4 283.4h1M147.8 271.5h1M155.5 269.8h1M173.5 287.5h1M158.1 275.4h1M171.3 276.8h1M159.4 282.8h1M171.9 288.8h1M171.4 287.3h1M150.0 281.2h1M154.7 288.8h1M168.7 282.0h1M149.3 280.6h1M148.4 275.7h1M152.7 288.4h1M151.0 278.9h1M145.2 277.1h1M154.0 272.4h1M161.5 280.9h1M150.8 278.8h1M175.7 281.2h1M136.3 278.3h1M162.6 275.3h1M147.9 268.6h1M158.9 289.7h1M166.9 290.7h1M156.3 273.6h1M149.1 272.0h1M149.1 275.5h1M165.3 297.8h1M163.2 274.1h1M159.3 283.2h1M170.0 270.2h1M156.7 278.5h1M152.4 285.3h1M158.3 282.4h1M149.3 265.4h1M162.2 287.0h1M161.7 279.6h1M157.9 282.0h1M164.9 280.3h1M164.7 285.7h1M143.8 284.2h1M161.0 286.5h1M162.0 290.3h1M164.1 288.0h1M141.2 277.6h1M160.4 273.9h1M169.6 285.1h1M154.9 291.8h1M155.2 282.5h1M131.7 271.8h1M169.0 271.7h1M156.1 277.0h1M148.1 286.9h1M164.1 290.2h1M166.7 279.0h1M154.9 280.7h1M159.5 275.0h1M163.1 285.5h1M156.3 281.8h1M175.9 276.0h1M147.2 286.8h1M152.8 283.4h1M169.5 292.8h1M164.0 282.1h1M151.1 272.8h1M161.9 271.0h1M142.7 286.7h1M151.6 272.7h1M155.5 273.7h1M164.6 291.5h1M155.4 292.6h1M164.2 283.6h1M158.4 276.5h1M158.6 291.5h1M143.8 274.4h1M163.8 275.3h1M166.5 289.7h1M153.4 289.2h1M166.2 287.0h1M157.8 280.7h1M163.7 287.6h1M178.4 292.3h1M162.1 279.5h1M160.0 281.3h1M161.3 277.9h1M152.1 276.0h1M139.3 285.5h1M156.3 267.0h1M149.6 271.6h1M145.1 285.4h1M154.4 270.5h1M170.2 289.8h1M163.5 273.8h1M154.4 286.9h1M158.3 290.7h1M149.5 273.5h1M154.1 278.8h1M161.3 279.5h1M153.0 283.2h1M145.8 271.5h1M157.9 286.0h1M145.9 270.9h1M139.9 273.0h1M149.3 278.1h1M152.5 278.6h1M168.0 285.5h1M160.3 272.9h1M152.1 283.1h1M160.3 283.6h1M159.3 278.4h1M158.1 286.0h1M160.4 268.2h1M166.0 274.3h1M162.9 273.7h1M162.8 275.3h1M138.7 275.6h1M152.2 283.3h1M167.3 288.5h1M164.2 277.5h1M159.3 268.9h1M159.5 274.4h1M170.3 285.9h1M147.7 270.0h1M172.4 286.9h1M166.4 283.0h1M150.2 280.4h1M145.6 274.4h1M168.2 258.9h1M156.1 286.2h1M146.8 279.0h1M169.8 276.2h1M154.8 276.0h1M171.6 293.3h1M160.9 274.6h1M154.1 274.7h1M159.0 273.2h1M173.2 274.8h1M155.5 272.1h1M166.4 265.2h1M152.9 283.9h1M162.7 292.5h1M160.6 292.0h1M168.6 279.6h1M164.2 288.4h1M163.6 286.4h1M162.9 287.0h1M156.3 274.8h1M154.6 281.8h1M168.5 275.7h1M164.2 289.1h1M148.1 273.4h1M161.8 279.8h1M155.4 286.5h1M163.6 290.5h1M157.8 280.8h1M159.9 288.5h1M166.4 277.0h1M144.1 281.3h1M160.9 275.1h1M155.3 265.2h1M145.1 265.3h1M146.1 274.3h1M145.3 276.6h1M160.8 284.5h1M155.4 285.8h1M134.8 274.7h1M147.3 269.9h1M154.3 272.7h1M150.0 267.3h1M159.6 285.5h1M159.3 274.5h1M163.8 287.9h1M160.4 279.5h1M166.7 276.9h1M148.3 282.1h1M166.2 283.0h1M147.0 276.7h1M173.9 276.6h1M163.7 278.0h1M162.5 277.5h1M175.3 293.1h1M154.1 278.4h1M159.7 278.6h1M158.4 273.5h1M157.2 275.8h1M153.7 262.5h1M157.6 283.6h1M149.0 276.4h1M154.6 274.6h1M146.8 264.5h1M161.9 281.1h1M165.0 279.8h1M152.1 282.1h1M194.5 236.8h1M177.0 258.2h1M188.2 252.2h1M179.5 236.4h1M169.2 244.4h1M178.3 243.8h1M192.8 249.3h1M169.0 248.3h1M185.6 238.3h1M162.2 243.0h1M173.1 257.2h1M168.8 268.4h1M184.4 237.7h1M176.8 240.3h1M188.2 250.1h1M183.4 226.0h1M175.8 251.8h1M205.5 243.9h1M176.8 241.8h1M181.3 235.6h1M183.6 249.4h1M186.5 240.5h1M165.0 240.5h1M177.2 237.7h1M178.5 251.5h1M170.1 255.6h1M189.2 243.6h1M163.5 253.5h1M182.5 244.6h1M174.0 249.7h1M162.1 234.6h1M167.5 240.5h1M172.4 243.3h1M179.1 235.2h1M192.0 251.8h1M188.3 258.5h1M177.2 228.5h1M177.8 244.1h1M191.3 236.3h1M185.8 239.1h1M171.2 239.2h1M193.9 242.9h1M176.5 247.0h1M183.9 251.6h1M159.7 250.4h1M178.7 242.4h1M187.2 245.9h1M183.8 253.2h1M168.9 257.9h1M179.8 238.6h1M184.9 254.1h1M180.1 248.7h1M187.3 240.2h1M192.2 237.5h1M167.0 251.0h1M187.7 232.9h1M184.2 238.1h1M168.1 235.8h1M171.4 237.9h1M191.5 256.3h1M182.8 254.8h1M186.9 257.2h1M162.8 245.7h1M176.1 241.4h1M177.3 254.1h1M183.1 246.3h1M186.7 252.6h1M183.5 243.6h1M189.2 249.5h1M177.1 245.5h1M169.0 243.4h1M182.3 251.2h1M163.0 248.6h1M172.1 234.4h1M178.6 243.6h1M181.0 243.9h1M186.0 254.3h1M196.1 250.3h1M159.2 232.1h1M186.4 234.9h1M176.3 252.0h1M192.0 243.8h1M187.0 245.9h1M184.1 229.3h1M192.8 250.1h1M167.8 241.4h1M177.3 240.6h1M195.7 237.1h1M191.3 251.0h1M190.8 231.1h1M180.0 250.8h1M174.5 235.2h1M159.9 252.5h1M195.6 255.9h1M183.5 245.8h1M202.5 242.1h1M180.5 232.3h1M194.8 238.8h1M197.5 249.3h1M170.7 247.5h1M186.4 256.9h1M178.4 225.1h1M182.7 243.9h1M197.8 251.9h1M174.5 248.6h1M176.4 245.7h1M169.8 254.6h1M173.4 251.1h1M190.5 225.6h1M184.3 239.5h1M159.1 251.2h1M178.3 245.2h1M176.2 254.3h1M163.6 252.1h1M175.7 233.5h1M166.2 242.3h1M188.7 248.3h1M197.9 248.5h1M186.6 248.4h1M185.3 251.0h1M195.0 241.3h1M171.2 233.3h1M184.0 250.4h1M180.2 232.3h1M174.3 239.9h1M189.0 253.8h1M178.4 244.6h1M193.2 242.7h1M188.3 251.9h1M184.6 241.2h1M178.8 243.6h1M188.5 249.5h1M187.6 258.5h1M173.8 246.9h1M193.9 239.6h1M183.8 251.1h1M185.9 244.5h1M189.5 248.4h1M192.3 236.4h1M186.2 246.1h1M167.5 247.2h1M175.9 241.2h1M175.5 241.7h1M182.2 250.5h1M194.9 242.8h1M170.9 257.4h1M169.7 242.2h1M193.8 248.6h1M176.9 254.5h1M175.0 249.8h1M170.0 257.9h1M177.6 257.8h1M178.2 260.8h1M179.4 263.7h1M193.9 255.1h1M173.7 264.3h1M169.4 267.3h1M164.6 263.6h1M192.6 263.6h1M203.6 264.1h1M179.7 259.8h1M192.9 270.0h1M182.7 266.0h1M184.3 271.0h1M191.4 260.9h1M173.2 259.2h1M171.5 262.2h1M192.9 257.5h1M164.8 263.8h1M158.0 265.0h1M177.7 264.3h1M189.4 271.3h1M176.3 262.0h1M183.3 264.4h1M168.8 256.7h1M171.7 255.3h1M168.1 259.8h1M161.1 258.2h1M169.2 263.8h1M169.9 265.2h1M186.6 253.8h1M185.2 261.5h1M163.8 268.2h1M172.5 267.3h1M176.3 264.2h1M184.7 271.3h1M178.8 262.7h1M151.7 261.7h1M171.6 264.6h1M171.2 264.9h1M182.6 262.8h1M164.2 265.9h1M168.5 258.1h1M172.0 263.8h1M181.6 264.4h1M184.2 263.5h1M175.9 259.6h1M171.4 261.9h1M187.8 263.2h1M173.1 268.7h1M171.5 258.7h1M195.4 263.8h1M174.3 260.0h1M195.0 263.5h1M170.3 272.5h1M173.4 263.8h1M174.6 262.7h1M185.6 258.9h1M162.1 258.4h1M199.3 263.8h1M129.2 240.3h1M129.0 248.5h1M129.1 255.3h1M129.1 256.7h1M129.2 234.0h1M128.7 253.3h1M128.7 244.7h1M129.3 246.1h1M128.8 236.6h1M128.6 237.3h1M129.1 246.7h1M129.5 247.5h1M128.9 250.9h1M128.7 242.0h1M129.6 234.6h1M129.1 250.4h1M128.6 246.9h1M128.9 240.0h1M128.6 233.9h1M129.0 241.2h1M129.4 245.0h1M129.5 258.7h1M129.1 244.9h1M128.5 250.7h1M129.3 249.0h1M129.1 251.7h1M129.0 241.8h1M129.0 241.1h1M129.1 251.4h1M129.1 241.4h1M129.3 238.3h1M130.2 235.8h1M129.3 237.3h1M128.8 257.0h1M128.7 239.9h1M128.8 239.4h1M129.5 241.5h1M128.7 240.2h1M129.1 251.2h1M129.2 239.0h1M128.6 242.3h1" stroke="#000" stroke-width="1" fill="none" opacity="0.45"/>
</g>
<path d="M147 243.5 Q153.5 247 154 257 Q154 268 149.5 272 Q144.5 272 142.5 265 Q139.5 256 140.5 249.5 Q142.5 243.5 147 243.5 Z" fill="#111" filter="url(#bl1)" opacity="1"/>
<rect x="127.50" y="218.70" width="83.10" height="81.70" fill="none" stroke="#333" stroke-width="1"/>
<rect x="130.00" y="233.70" width="32.10" height="24.00" fill="none" stroke="#222" stroke-width="1"/>
<rect x="130.00" y="257.70" width="32.10" height="14.40" fill="none" stroke="#222" stroke-width="1"/>
<rect x="162.10" y="233.70" width="35.60" height="24.00" fill="none" stroke="#222" stroke-width="1"/>
<rect x="162.10" y="257.70" width="34.10" height="12.50" fill="none" stroke="#222" stroke-width="1"/>
<rect x="167.30" y="270.20" width="28.10" height="14.40" fill="none" stroke="#222" stroke-width="1"/>
<g filter="url(#bl)" opacity="1"><rect x="38" y="344" width="28" height="16" fill="#d6d6d6"/><rect x="66" y="345" width="32" height="14" fill="#e0e0e0"/><rect x="40" y="362" width="20" height="14" fill="#e2e2e2"/><rect x="44" y="378" width="11" height="15" fill="#eeeeee"/></g>
<g filter="url(#bl05)">
<path d="M50.0 348.7h1.4M46.1 355.0h1.4M43.2 350.3h1.4M61.5 353.1h1.4M40.0 349.3h1.4M53.5 355.1h1.4M51.5 354.6h1.4M41.9 357.7h1.4M46.8 359.7h1.4M44.9 351.0h1.4M43.7 342.8h1.4M62.5 351.1h1.4M48.3 358.3h1.4M57.7 344.1h1.4M48.4 352.4h1.4M55.7 344.7h1.4M49.9 359.2h1.4M47.0 350.7h1.4M67.5 351.7h1.4M50.1 356.5h1.4M61.2 350.7h1.4M44.7 362.0h1.4M54.7 354.9h1.4M49.4 352.0h1.4M58.7 341.2h1.4M33.2 338.7h1.4M45.2 349.4h1.4M59.4 355.6h1.4M44.9 356.7h1.4M47.1 359.7h1.4M45.4 352.1h1.4M43.7 354.5h1.4M50.5 359.5h1.4M58.1 353.3h1.4M40.1 356.3h1.4M63.6 358.4h1.4M40.1 338.6h1.4M45.5 352.4h1.4M55.4 348.3h1.4M51.7 357.0h1.4M52.0 351.5h1.4M48.3 361.1h1.4M56.3 347.9h1.4M46.8 346.5h1.4M44.1 353.7h1.4M55.8 348.0h1.4M40.5 345.9h1.4M60.1 347.2h1.4M48.4 362.0h1.4M54.8 352.1h1.4M58.7 354.3h1.4M56.0 348.4h1.4M64.9 347.8h1.4M43.7 336.7h1.4M58.0 354.6h1.4M56.4 343.8h1.4M51.4 348.2h1.4M44.2 351.2h1.4M66.3 355.8h1.4M50.6 354.8h1.4M42.4 349.8h1.4M60.7 358.9h1.4M55.2 338.3h1.4M42.1 346.4h1.4M45.6 351.6h1.4M50.9 340.7h1.4M54.0 359.5h1.4M48.0 367.3h1.4M34.3 361.1h1.4M62.2 346.5h1.4M53.1 352.1h1.4M41.8 354.2h1.4M54.7 343.5h1.4M48.3 353.3h1.4M55.2 349.7h1.4M57.9 355.1h1.4M56.8 370.0h1.4M62.7 359.0h1.4M38.9 347.2h1.4M60.9 367.3h1.4M54.5 367.1h1.4M53.0 351.8h1.4M43.3 347.1h1.4M43.7 351.1h1.4M48.3 354.4h1.4M61.3 360.6h1.4M63.8 357.2h1.4M39.7 358.9h1.4M36.1 368.6h1.4M46.3 347.0h1.4M59.3 354.2h1.4M66.6 357.8h1.4M68.6 341.2h1.4M55.4 351.2h1.4M48.6 352.3h1.4M51.8 351.2h1.4M58.4 357.4h1.4M53.8 353.0h1.4M58.1 342.7h1.4M62.3 353.1h1.4M48.9 343.1h1.4M54.1 340.4h1.4M44.8 346.6h1.4M52.1 353.4h1.4M52.9 357.5h1.4M73.3 354.5h1.4M47.2 353.1h1.4M55.9 356.5h1.4M51.5 354.8h1.4M46.9 348.7h1.4M50.2 348.9h1.4M64.9 348.0h1.4M43.7 355.9h1.4M36.1 341.3h1.4M55.1 345.0h1.4M48.6 360.8h1.4M47.6 357.7h1.4M59.1 357.9h1.4M53.3 357.7h1.4M56.5 353.6h1.4M53.0 353.4h1.4M50.9 349.3h1.4M77.6 361.5h1.4M38.1 348.2h1.4M39.7 352.6h1.4M59.9 361.4h1.4M57.8 355.8h1.4M59.0 349.5h1.4M51.9 358.3h1.4M53.8 358.8h1.4M55.1 352.5h1.4M45.3 350.5h1.4M61.2 352.7h1.4M58.4 351.9h1.4M60.4 350.1h1.4M49.2 342.4h1.4M35.2 353.5h1.4M55.5 349.0h1.4M42.7 349.2h1.4M44.9 356.2h1.4M46.2 353.3h1.4M53.7 355.7h1.4M48.7 355.7h1.4M52.5 347.0h1.4M42.0 339.4h1.4M63.6 346.5h1.4M62.7 348.2h1.4M57.4 351.5h1.4M62.1 345.8h1.4M43.7 349.5h1.4M51.6 345.0h1.4M67.7 348.4h1.4M56.1 362.0h1.4M67.6 359.9h1.4M62.7 365.1h1.4M46.3 354.5h1.4M58.7 361.2h1.4M55.5 353.6h1.4M62.6 347.3h1.4M39.3 345.7h1.4M44.6 349.2h1.4M33.6 354.4h1.4M60.3 352.7h1.4M51.9 348.9h1.4M47.1 352.0h1.4M50.7 361.9h1.4M49.1 347.5h1.4M47.3 354.5h1.4M71.5 356.8h1.4M73.2 344.2h1.4M52.5 354.9h1.4M55.8 344.3h1.4M53.7 345.8h1.4M63.5 350.1h1.4M52.5 347.0h1.4M54.5 361.2h1.4M49.1 339.0h1.4M47.7 355.5h1.4M49.7 355.5h1.4M54.0 355.6h1.4M67.3 343.6h1.4M51.6 351.1h1.4M70.4 347.7h1.4M54.2 357.7h1.4M48.1 359.0h1.4M38.6 353.2h1.4M34.8 338.4h1.4M50.4 346.8h1.4M45.9 348.0h1.4M46.6 346.1h1.4M52.0 343.3h1.4M46.2 349.5h1.4M45.4 367.3h1.4M83.0 364.2h1.4M52.2 353.3h1.4M64.7 358.6h1.4M51.5 361.1h1.4M71.4 360.6h1.4M60.0 347.4h1.4M56.6 335.1h1.4M55.3 358.0h1.4M55.9 354.0h1.4M45.4 357.5h1.4M53.3 341.2h1.4M48.7 348.5h1.4M53.4 356.1h1.4M50.7 359.7h1.4M44.6 349.2h1.4M59.3 348.8h1.4M50.6 357.3h1.4M39.3 346.9h1.4M57.7 345.1h1.4M71.6 356.5h1.4M53.7 350.0h1.4M61.6 358.1h1.4M43.1 361.6h1.4M53.3 348.2h1.4M35.7 342.4h1.4M56.0 355.7h1.4M49.4 343.9h1.4M41.2 360.0h1.4M66.0 358.3h1.4M62.5 350.7h1.4M58.2 349.2h1.4M42.6 351.5h1.4M44.5 349.6h1.4M70.0 351.3h1.4M74.7 355.9h1.4M37.9 353.8h1.4M49.3 353.8h1.4M53.0 344.9h1.4M51.5 355.1h1.4M53.9 348.0h1.4M51.9 365.8h1.4M38.2 344.5h1.4M52.7 352.0h1.4M59.0 359.6h1.4M51.3 351.6h1.4M78.2 350.6h1.4M61.3 357.2h1.4M35.4 334.3h1.4M61.0 352.4h1.4M56.2 359.1h1.4M41.2 347.5h1.4M46.6 347.3h1.4M55.0 354.2h1.4M68.2 365.7h1.4M48.4 347.1h1.4M55.3 351.1h1.4M38.0 348.7h1.4M39.8 361.1h1.4M43.1 343.9h1.4M59.7 357.5h1.4M37.2 364.7h1.4M65.4 344.0h1.4M45.0 358.0h1.4M37.4 350.0h1.4M56.0 342.7h1.4M58.5 352.9h1.4M63.6 345.7h1.4M50.0 354.4h1.4M64.2 349.5h1.4M49.0 346.0h1.4M45.0 349.5h1.4M53.4 352.4h1.4M60.4 340.0h1.4M65.5 354.2h1.4M57.5 352.3h1.4M66.7 357.9h1.4M53.2 353.1h1.4M60.9 343.0h1.4M58.3 353.7h1.4M43.6 355.6h1.4M57.8 355.3h1.4M50.6 339.4h1.4M46.7 348.9h1.4M59.6 348.7h1.4M62.8 359.1h1.4M49.9 351.0h1.4M48.0 355.9h1.4M54.2 347.9h1.4M50.7 358.0h1.4M65.8 361.1h1.4M51.0 354.8h1.4M59.3 357.7h1.4M50.8 346.3h1.4M52.4 358.6h1.4M51.8 345.8h1.4M41.2 359.4h1.4M50.5 343.2h1.4M47.9 357.6h1.4M70.8 346.8h1.4M59.7 349.4h1.4M52.5 343.3h1.4M59.9 342.0h1.4M47.3 338.4h1.4M52.8 352.5h1.4M59.2 354.3h1.4M51.1 356.8h1.4M40.4 357.1h1.4M46.1 348.0h1.4M43.2 355.9h1.4M53.1 351.4h1.4M49.0 348.0h1.4M46.3 354.1h1.4M40.5 345.9h1.4M48.8 357.6h1.4M64.8 353.7h1.4M57.4 354.9h1.4M48.8 363.0h1.4M40.7 346.4h1.4M60.6 354.3h1.4M50.9 350.6h1.4M54.3 356.1h1.4M61.8 347.6h1.4M47.4 356.3h1.4M72.6 352.9h1.4M55.2 353.0h1.4M40.7 352.3h1.4M55.9 356.5h1.4M58.9 355.6h1.4M47.7 353.1h1.4M35.6 349.0h1.4M53.9 345.9h1.4M48.4 353.6h1.4M41.7 356.5h1.4M47.0 342.7h1.4M43.7 352.0h1.4M58.1 338.4h1.4M45.5 353.7h1.4M52.8 355.3h1.4M52.4 350.6h1.4M55.7 357.6h1.4M53.2 358.9h1.4M62.0 346.2h1.4M61.8 352.5h1.4M41.4 347.4h1.4M55.4 352.1h1.4M72.5 358.0h1.4M49.6 357.1h1.4M54.7 353.7h1.4M62.8 354.8h1.4M49.0 360.5h1.4M55.0 350.7h1.4M46.3 355.2h1.4M59.4 353.3h1.4M53.2 351.7h1.4M51.5 339.5h1.4M40.4 354.4h1.4M55.9 357.4h1.4M49.8 344.4h1.4M66.7 355.6h1.4M54.0 350.3h1.4M48.9 343.4h1.4M37.3 353.1h1.4M72.0 362.3h1.4M56.7 356.4h1.4M53.7 358.7h1.4M58.0 346.3h1.4M40.3 351.7h1.4M39.4 343.4h1.4M46.1 355.2h1.4M65.1 357.7h1.4M53.9 349.9h1.4M56.7 348.1h1.4M57.1 355.7h1.4M42.2 353.7h1.4M64.1 347.1h1.4M42.5 354.9h1.4M52.5 352.3h1.4M58.7 349.6h1.4M55.6 357.0h1.4M47.4 348.5h1.4M56.6 346.7h1.4M52.1 350.6h1.4M58.8 345.3h1.4M48.9 344.9h1.4M42.0 354.3h1.4M53.7 356.3h1.4M62.0 337.6h1.4M41.7 345.5h1.4M72.2 344.8h1.4M38.6 339.0h1.4M49.8 360.4h1.4M47.1 345.3h1.4M47.8 345.4h1.4M75.8 348.7h1.4M33.8 348.7h1.4M42.6 361.1h1.4M57.6 357.8h1.4M42.4 356.9h1.4M55.8 360.9h1.4M49.8 345.1h1.4M54.4 362.0h1.4M57.3 344.7h1.4M55.4 350.9h1.4M59.6 355.3h1.4M54.5 347.1h1.4M42.6 346.7h1.4M48.0 358.8h1.4M39.4 351.5h1.4M60.7 348.3h1.4M52.7 358.6h1.4M54.9 358.8h1.4M52.5 354.2h1.4M49.8 351.1h1.4M41.8 349.5h1.4M48.2 353.4h1.4M54.3 347.8h1.4M44.5 355.7h1.4M43.7 355.1h1.4M53.2 349.0h1.4M47.0 356.1h1.4M45.0 340.0h1.4M43.5 355.1h1.4M51.5 358.8h1.4M57.7 360.6h1.4M34.0 353.9h1.4M50.3 351.6h1.4M53.5 345.2h1.4M51.1 348.2h1.4M61.4 349.0h1.4M43.0 346.7h1.4M48.8 344.2h1.4M64.3 352.9h1.4M68.4 342.3h1.4M46.7 346.5h1.4M53.3 341.5h1.4M62.7 352.1h1.4M42.2 350.6h1.4M48.8 355.1h1.4M53.3 347.0h1.4M53.7 352.4h1.4M51.6 351.0h1.4M51.4 343.5h1.4M49.7 340.4h1.4M43.1 348.5h1.4M46.1 355.4h1.4M46.7 364.5h1.4M56.5 364.9h1.4M50.5 352.3h1.4M49.0 342.8h1.4M55.7 351.9h1.4M37.0 340.4h1.4M54.2 336.4h1.4M56.5 354.9h1.4M50.0 349.2h1.4M73.5 353.5h1.4M52.4 342.5h1.4M43.8 356.2h1.4M50.9 358.5h1.4M66.9 367.0h1.4M51.4 346.1h1.4M48.7 349.0h1.4M64.3 353.6h1.4M50.6 356.8h1.4M67.4 349.9h1.4M35.4 348.4h1.4M45.1 364.7h1.4M52.7 347.1h1.4M53.0 345.6h1.4M52.3 357.8h1.4M48.4 354.0h1.4M62.6 347.9h1.4M50.9 350.8h1.4M61.2 357.5h1.4M39.2 343.7h1.4M49.7 355.9h1.4M36.5 365.1h1.4M54.5 351.1h1.4M48.0 344.8h1.4M64.0 351.7h1.4M38.3 350.3h1.4M42.1 354.7h1.4M58.1 348.2h1.4M48.1 355.7h1.4M37.1 359.3h1.4M59.7 356.2h1.4M47.5 350.7h1.4M43.2 358.6h1.4M66.2 345.9h1.4M52.8 355.1h1.4M59.9 362.2h1.4M64.9 353.3h1.4M62.3 347.2h1.4M61.9 360.2h1.4M57.4 346.7h1.4M39.3 347.2h1.4M57.6 354.1h1.4M43.5 356.3h1.4M44.7 358.3h1.4M74.9 350.5h1.4M80.8 354.6h1.4M76.8 344.9h1.4M98.5 358.2h1.4M67.3 350.4h1.4M72.1 358.2h1.4M82.2 349.2h1.4M97.9 344.6h1.4M87.6 345.4h1.4M80.4 353.4h1.4M98.7 357.0h1.4M62.7 347.1h1.4M84.0 351.9h1.4M82.8 352.2h1.4M91.8 352.9h1.4M89.1 344.3h1.4M69.9 347.0h1.4M96.6 345.2h1.4M93.7 356.2h1.4M79.0 355.7h1.4M78.6 353.9h1.4M82.2 349.7h1.4M88.7 352.8h1.4M70.2 349.9h1.4M68.2 354.0h1.4M74.6 361.6h1.4M64.3 346.8h1.4M65.4 347.4h1.4M69.4 340.3h1.4M81.4 352.7h1.4M93.1 354.5h1.4M98.6 354.8h1.4M103.2 348.2h1.4M88.4 352.5h1.4M76.0 352.1h1.4M90.2 356.4h1.4M87.1 352.1h1.4M74.4 349.8h1.4M102.3 351.0h1.4M68.6 352.2h1.4M87.6 357.8h1.4M77.4 359.4h1.4M86.9 366.7h1.4M61.8 361.7h1.4M83.6 351.5h1.4M96.5 346.7h1.4M94.3 350.4h1.4M89.5 354.7h1.4M77.7 353.7h1.4M95.5 343.8h1.4M97.5 355.7h1.4M90.2 353.3h1.4M70.6 347.9h1.4M71.4 359.3h1.4M93.2 353.7h1.4M67.7 351.2h1.4M82.6 347.7h1.4M83.0 352.5h1.4M77.6 353.5h1.4M81.4 356.9h1.4M78.9 359.5h1.4M96.8 347.2h1.4M83.1 355.9h1.4M93.8 346.3h1.4M73.2 344.6h1.4M90.2 355.0h1.4M66.9 354.7h1.4M80.0 350.7h1.4M66.1 343.9h1.4M69.6 352.0h1.4M80.4 343.3h1.4M91.9 343.9h1.4M70.6 353.8h1.4M81.8 355.5h1.4M114.3 354.1h1.4M107.4 341.2h1.4M91.1 345.3h1.4M72.2 354.4h1.4M70.5 349.7h1.4M76.1 349.5h1.4M74.3 345.2h1.4M99.1 344.1h1.4M83.8 353.6h1.4M72.9 360.6h1.4M96.2 356.9h1.4M74.1 347.9h1.4M73.8 346.2h1.4M67.8 355.0h1.4M93.0 349.4h1.4M92.3 354.3h1.4M87.5 349.3h1.4M99.1 346.1h1.4M79.4 354.4h1.4M85.2 352.6h1.4M89.4 352.9h1.4M85.7 344.5h1.4M70.4 351.8h1.4M75.2 343.0h1.4M81.3 352.5h1.4M78.8 336.7h1.4M95.8 354.8h1.4M72.1 349.9h1.4M83.0 354.8h1.4M83.6 361.3h1.4M80.2 358.0h1.4M94.1 348.6h1.4M73.6 343.6h1.4M104.7 350.1h1.4M77.3 363.6h1.4M91.7 350.2h1.4M80.2 351.8h1.4M69.0 346.1h1.4M90.5 351.4h1.4M75.7 356.8h1.4M78.3 345.0h1.4M73.0 354.5h1.4M79.7 348.9h1.4M74.7 349.7h1.4M110.9 354.1h1.4M81.4 348.0h1.4M85.5 348.9h1.4M95.8 355.2h1.4M83.9 356.6h1.4M82.8 362.5h1.4M66.9 349.6h1.4M81.7 357.6h1.4M65.0 353.6h1.4M91.2 352.1h1.4M93.0 349.5h1.4M70.5 363.4h1.4M103.3 344.9h1.4M84.4 359.9h1.4M86.9 350.2h1.4M103.5 358.4h1.4M94.8 350.9h1.4M88.6 349.5h1.4M77.6 353.5h1.4M88.6 357.0h1.4M80.9 350.1h1.4M80.1 351.5h1.4M91.4 356.3h1.4M86.0 351.5h1.4M77.0 347.9h1.4M71.4 352.4h1.4M74.6 344.4h1.4M86.1 348.2h1.4M83.0 354.2h1.4M88.9 359.0h1.4M62.6 351.3h1.4M63.7 351.5h1.4M81.1 357.8h1.4M92.0 357.9h1.4M63.0 350.6h1.4M86.6 353.3h1.4M79.1 343.8h1.4M103.2 359.8h1.4M78.5 354.4h1.4M80.4 366.5h1.4M83.6 356.2h1.4M79.4 355.2h1.4M89.2 347.4h1.4M97.4 354.2h1.4M83.6 355.0h1.4M86.2 351.7h1.4M68.9 350.2h1.4M59.0 349.1h1.4M94.1 349.7h1.4M84.2 352.8h1.4M86.4 346.5h1.4M77.7 355.9h1.4M79.1 348.0h1.4M83.3 346.9h1.4M90.6 354.1h1.4M84.5 342.2h1.4M78.6 348.1h1.4M92.1 354.4h1.4M90.1 353.7h1.4M90.4 346.2h1.4M78.1 347.3h1.4M72.8 343.3h1.4M84.9 349.8h1.4M76.3 354.1h1.4M77.9 351.0h1.4M71.2 346.7h1.4M51.0 356.0h1.4M96.0 359.8h1.4M79.8 349.5h1.4M77.9 366.3h1.4M91.3 358.8h1.4M74.9 348.2h1.4M79.0 355.5h1.4M89.3 350.9h1.4M85.2 353.9h1.4M58.1 338.8h1.4M77.1 349.5h1.4M92.6 344.4h1.4M82.3 352.7h1.4M77.6 350.9h1.4M82.1 356.1h1.4M105.7 363.0h1.4M86.1 351.6h1.4M92.9 350.9h1.4M75.5 355.3h1.4M58.2 354.0h1.4M99.7 350.0h1.4M81.5 351.1h1.4M95.8 346.5h1.4M91.3 355.8h1.4M76.6 351.9h1.4M93.3 348.5h1.4M77.0 355.4h1.4M70.9 356.9h1.4M76.4 350.5h1.4M52.4 350.8h1.4M96.2 350.6h1.4M98.0 355.4h1.4M73.1 356.6h1.4M88.3 349.1h1.4M85.5 350.7h1.4M71.6 353.1h1.4M84.0 348.8h1.4M83.9 357.9h1.4M84.5 340.7h1.4M95.2 356.7h1.4M69.6 354.2h1.4M66.2 356.9h1.4M72.7 351.7h1.4M83.4 353.2h1.4M87.0 356.6h1.4M95.2 356.5h1.4M65.7 352.6h1.4M77.0 357.4h1.4M100.0 344.8h1.4M70.9 345.1h1.4M59.8 348.4h1.4M87.3 355.1h1.4M90.2 348.6h1.4M77.9 354.7h1.4M78.7 351.5h1.4M85.6 359.2h1.4M80.8 353.1h1.4M79.2 355.7h1.4M75.2 354.7h1.4M78.1 355.6h1.4M66.9 348.0h1.4M64.2 345.6h1.4M85.2 350.4h1.4M90.0 352.6h1.4M100.7 357.8h1.4M88.1 354.9h1.4M76.0 347.9h1.4M87.2 354.1h1.4M74.8 354.7h1.4M102.6 352.0h1.4M83.4 346.4h1.4M94.8 348.2h1.4M72.5 355.5h1.4M80.0 357.4h1.4M76.0 354.7h1.4M79.0 347.8h1.4M95.8 340.6h1.4M86.7 348.7h1.4M67.2 349.4h1.4M94.4 355.3h1.4M80.6 354.3h1.4M62.3 350.2h1.4M74.5 355.0h1.4M91.8 359.6h1.4M72.3 358.4h1.4M88.8 349.8h1.4M71.3 352.8h1.4M83.9 353.4h1.4M82.7 346.9h1.4M77.1 350.5h1.4M72.7 352.9h1.4M89.5 351.8h1.4M102.6 354.5h1.4M79.0 350.7h1.4M85.1 346.6h1.4M85.8 352.0h1.4M80.1 347.3h1.4M86.0 351.0h1.4M76.5 346.3h1.4M80.8 344.1h1.4M88.1 352.4h1.4M89.1 353.3h1.4M59.1 353.9h1.4M83.2 356.0h1.4M93.0 353.0h1.4M81.6 340.3h1.4M85.9 350.0h1.4M84.6 349.8h1.4M80.7 352.4h1.4M81.1 351.3h1.4M91.8 359.6h1.4M88.6 348.7h1.4M86.0 356.2h1.4M80.1 349.9h1.4M75.7 347.2h1.4M94.2 354.1h1.4M43.5 361.6h1.4M48.7 397.3h1.4M50.5 379.3h1.4M48.6 365.6h1.4M47.5 378.0h1.4M42.8 382.3h1.4M44.1 359.5h1.4M53.8 374.7h1.4M45.3 372.4h1.4M55.6 373.9h1.4M49.6 375.0h1.4M45.5 370.1h1.4M53.8 364.4h1.4M44.6 379.5h1.4M46.0 350.2h1.4M44.4 375.5h1.4M45.1 384.1h1.4M43.0 370.8h1.4M56.8 370.9h1.4M55.0 366.0h1.4M46.4 386.5h1.4M55.1 377.0h1.4M47.7 377.0h1.4M48.7 360.6h1.4M39.6 368.1h1.4M50.9 379.7h1.4M50.1 393.5h1.4M45.6 377.4h1.4M48.4 368.3h1.4M54.1 367.3h1.4M46.4 372.9h1.4M46.0 361.9h1.4M41.0 357.8h1.4M62.5 358.7h1.4M52.1 376.2h1.4M52.6 372.4h1.4M41.7 372.3h1.4M49.5 365.3h1.4M52.0 368.9h1.4M42.9 375.4h1.4M43.2 385.9h1.4M49.9 380.3h1.4M62.3 371.3h1.4M48.4 364.2h1.4M55.8 369.1h1.4M53.4 376.1h1.4M55.1 367.1h1.4M52.3 364.5h1.4M44.6 373.5h1.4M39.1 381.9h1.4M52.1 373.2h1.4M51.1 373.4h1.4M51.4 377.4h1.4M51.2 386.2h1.4M46.2 369.3h1.4M54.2 374.2h1.4M55.8 383.1h1.4M46.5 383.1h1.4M52.9 365.2h1.4M50.1 368.1h1.4M47.0 361.2h1.4M45.7 374.5h1.4M40.6 370.8h1.4M50.6 395.4h1.4M45.1 381.5h1.4M48.4 364.4h1.4M47.9 367.2h1.4M46.9 366.1h1.4M52.5 353.6h1.4M59.1 360.9h1.4M54.1 377.5h1.4M44.1 377.0h1.4M40.9 376.7h1.4M50.0 379.8h1.4M54.1 387.4h1.4M56.8 376.9h1.4M52.8 380.1h1.4M42.9 370.7h1.4M56.2 370.3h1.4M49.4 378.4h1.4M49.1 368.0h1.4M42.5 378.2h1.4M53.3 366.0h1.4M47.3 365.6h1.4M45.6 386.0h1.4M44.1 377.2h1.4M54.9 376.0h1.4M45.0 357.7h1.4M46.5 365.7h1.4M49.0 378.9h1.4M56.2 367.2h1.4M48.2 377.7h1.4M43.9 367.2h1.4M45.3 371.2h1.4M54.3 377.3h1.4M47.9 374.1h1.4M41.7 361.8h1.4M48.4 369.1h1.4M53.8 385.5h1.4M51.0 378.2h1.4M48.4 372.7h1.4M58.0 367.7h1.4M53.5 364.3h1.4M47.9 375.1h1.4M48.7 381.9h1.4M53.8 365.4h1.4M58.2 365.3h1.4M54.7 357.7h1.4M59.7 381.2h1.4M53.0 370.1h1.4M37.3 369.9h1.4M48.9 358.7h1.4M52.2 376.9h1.4M41.8 360.7h1.4M55.6 369.1h1.4M46.7 374.2h1.4M48.5 372.2h1.4M52.9 364.7h1.4M47.5 363.6h1.4M49.7 372.8h1.4M49.8 377.0h1.4M53.6 373.1h1.4M43.3 372.2h1.4M45.7 363.2h1.4M53.1 378.7h1.4M48.2 373.5h1.4M53.6 372.3h1.4M52.9 373.5h1.4M54.3 374.4h1.4M51.4 373.0h1.4M48.2 358.0h1.4M50.6 370.4h1.4M54.3 354.1h1.4M40.1 386.7h1.4M43.5 369.2h1.4M46.0 386.7h1.4M47.5 374.8h1.4M45.0 365.9h1.4M47.8 376.3h1.4M51.2 366.5h1.4M53.9 390.3h1.4M53.6 371.4h1.4M58.5 387.2h1.4M51.9 380.1h1.4M55.2 394.6h1.4M47.4 368.2h1.4M55.7 369.9h1.4M47.4 381.3h1.4M52.1 381.7h1.4M50.4 388.7h1.4M52.5 378.1h1.4M53.0 366.8h1.4M61.2 345.8h1.4M48.4 361.0h1.4M49.6 361.9h1.4M43.7 378.9h1.4M54.2 372.8h1.4M57.3 375.8h1.4M54.9 377.0h1.4M45.7 366.9h1.4M41.6 360.6h1.4M53.6 377.9h1.4M44.1 355.1h1.4M51.3 352.9h1.4M50.0 375.5h1.4M45.4 388.1h1.4M47.1 383.1h1.4M55.7 374.4h1.4M48.2 365.2h1.4M51.9 364.8h1.4M50.1 366.8h1.4M57.6 379.5h1.4M49.5 375.0h1.4M49.1 362.2h1.4M52.5 385.5h1.4M51.8 376.2h1.4M52.1 381.3h1.4M52.6 390.8h1.4M52.2 382.1h1.4M56.3 375.5h1.4M56.4 378.6h1.4M50.5 393.6h1.4M49.7 363.6h1.4M53.2 374.6h1.4M55.2 358.9h1.4M44.7 368.0h1.4M57.6 368.0h1.4M40.9 380.1h1.4M52.9 363.2h1.4M42.1 383.0h1.4M42.0 373.4h1.4M50.0 364.5h1.4M59.4 370.3h1.4M44.4 380.3h1.4M48.9 372.5h1.4M51.1 368.3h1.4M57.6 381.4h1.4M43.7 363.4h1.4M60.5 368.5h1.4M55.2 354.1h1.4" stroke="#777" stroke-width="1.4" fill="none" opacity="0.16"/>
</g>
<rect x="31.70" y="328.00" width="83.80" height="82.40" fill="none" stroke="#333" stroke-width="1"/>
<rect x="34.60" y="340.50" width="31.90" height="23.00" fill="none" stroke="#222" stroke-width="1"/>
<rect x="34.60" y="363.50" width="31.90" height="15.30" fill="none" stroke="#222" stroke-width="1"/>
<rect x="66.50" y="340.50" width="35.70" height="22.10" fill="none" stroke="#222" stroke-width="1"/>
<rect x="66.50" y="362.60" width="32.70" height="14.40" fill="none" stroke="#222" stroke-width="1"/>
<rect x="70.40" y="377.60" width="28.40" height="13.90" fill="none" stroke="#222" stroke-width="1"/>
<g filter="url(#bl)" opacity="1"><rect x="138" y="344" width="60" height="15" fill="#d2d2d2"/><rect x="140" y="362" width="22" height="14" fill="#e2e2e2"/><rect x="145" y="378" width="10" height="12" fill="#f0f0f0"/></g>
<g filter="url(#bl05)">
<path d="M139.3 353.3h1.4M159.9 357.8h1.4M143.8 355.3h1.4M131.8 347.1h1.4M147.3 356.9h1.4M138.9 343.4h1.4M142.0 345.9h1.4M149.2 346.6h1.4M137.4 348.9h1.4M165.8 343.2h1.4M160.8 343.9h1.4M152.5 348.2h1.4M178.7 350.1h1.4M146.3 347.7h1.4M148.4 352.4h1.4M165.0 358.9h1.4M146.5 358.3h1.4M150.3 351.9h1.4M143.6 348.4h1.4M148.5 345.5h1.4M165.6 351.6h1.4M163.8 353.1h1.4M155.5 360.8h1.4M144.4 353.7h1.4M140.7 353.2h1.4M161.5 350.7h1.4M136.7 351.6h1.4M146.5 349.1h1.4M153.9 354.2h1.4M137.7 348.7h1.4M144.8 353.0h1.4M146.7 352.0h1.4M157.8 359.0h1.4M142.4 368.2h1.4M148.3 345.4h1.4M153.0 350.7h1.4M166.5 345.7h1.4M168.8 358.4h1.4M150.2 349.0h1.4M141.2 356.4h1.4M158.4 350.3h1.4M158.6 346.3h1.4M146.1 348.7h1.4M166.8 346.2h1.4M142.9 337.0h1.4M162.5 353.9h1.4M156.7 344.7h1.4M165.3 353.1h1.4M157.7 349.8h1.4M145.7 349.9h1.4M160.5 352.6h1.4M129.8 344.2h1.4M147.0 357.2h1.4M160.9 348.6h1.4M138.5 351.7h1.4M143.1 353.0h1.4M149.2 343.6h1.4M140.5 352.0h1.4M150.2 361.1h1.4M157.2 358.6h1.4M152.0 348.7h1.4M141.3 344.3h1.4M143.9 349.9h1.4M146.7 347.7h1.4M155.9 345.2h1.4M138.2 359.8h1.4M142.6 333.8h1.4M168.2 343.9h1.4M144.6 352.7h1.4M145.8 352.4h1.4M144.4 341.7h1.4M145.2 345.4h1.4M151.3 341.1h1.4M159.2 348.8h1.4M152.0 357.0h1.4M164.0 360.9h1.4M150.5 350.9h1.4M160.7 356.7h1.4M137.8 344.6h1.4M145.1 343.8h1.4M154.1 358.2h1.4M156.7 351.0h1.4M163.8 352.0h1.4M142.3 337.7h1.4M158.1 350.9h1.4M143.8 360.4h1.4M151.0 352.4h1.4M147.8 345.4h1.4M148.8 352.3h1.4M151.6 351.0h1.4M151.5 345.5h1.4M150.5 360.6h1.4M151.6 360.6h1.4M158.6 358.7h1.4M145.3 352.1h1.4M140.5 346.7h1.4M151.7 354.2h1.4M156.1 354.5h1.4M155.9 353.0h1.4M164.0 353.2h1.4M157.4 366.3h1.4M154.8 349.5h1.4M154.3 350.5h1.4M156.2 353.0h1.4M144.5 351.2h1.4M141.6 353.6h1.4M162.6 345.4h1.4M152.2 351.4h1.4M143.1 357.5h1.4M143.4 356.6h1.4M148.7 355.4h1.4M157.6 354.8h1.4M150.8 345.8h1.4M156.8 347.9h1.4M152.1 349.5h1.4M148.5 348.4h1.4M167.5 347.8h1.4M156.0 352.7h1.4M161.2 348.1h1.4M133.6 355.1h1.4M151.8 359.6h1.4M145.4 351.1h1.4M144.7 357.6h1.4M144.1 346.7h1.4M156.9 355.7h1.4M147.6 346.2h1.4M152.5 353.2h1.4M154.4 348.1h1.4M142.5 360.6h1.4M165.7 344.8h1.4M151.7 350.4h1.4M160.7 358.3h1.4M133.9 348.6h1.4M133.1 360.4h1.4M146.4 360.2h1.4M150.4 349.9h1.4M146.0 348.6h1.4M162.7 349.5h1.4M157.9 351.6h1.4M136.4 355.0h1.4M159.9 344.3h1.4M139.8 356.3h1.4M153.3 346.0h1.4M158.3 354.1h1.4M141.3 354.6h1.4M143.0 357.7h1.4M150.3 348.2h1.4M148.6 346.0h1.4M149.4 355.4h1.4M153.3 349.4h1.4M160.8 362.0h1.4M147.7 354.6h1.4M150.5 359.3h1.4M134.7 353.0h1.4M153.0 351.8h1.4M153.5 352.9h1.4M153.2 350.0h1.4M149.9 352.1h1.4M159.3 349.9h1.4M144.2 346.0h1.4M171.5 357.6h1.4M138.4 358.0h1.4M160.0 347.1h1.4M153.6 358.2h1.4M133.9 357.5h1.4M139.8 352.8h1.4M134.2 345.8h1.4M146.7 353.6h1.4M158.6 357.9h1.4M164.9 350.0h1.4M135.4 360.6h1.4M139.1 356.7h1.4M156.8 356.2h1.4M143.4 353.5h1.4M150.0 338.8h1.4M147.5 356.1h1.4M151.3 354.0h1.4M162.3 348.2h1.4M153.6 364.0h1.4M132.3 350.9h1.4M137.6 352.4h1.4M154.0 365.8h1.4M149.8 347.1h1.4M153.0 346.9h1.4M155.8 357.7h1.4M138.4 345.9h1.4M158.8 343.7h1.4M146.4 344.5h1.4M155.2 363.2h1.4M163.9 355.0h1.4M131.2 344.7h1.4M153.9 339.5h1.4M166.6 351.7h1.4M143.9 351.0h1.4M153.0 354.4h1.4M158.6 361.2h1.4M149.5 346.4h1.4M148.4 351.8h1.4M144.5 354.7h1.4M141.0 357.0h1.4M135.3 340.0h1.4M140.1 342.2h1.4M166.2 336.0h1.4M154.8 352.4h1.4M151.4 350.1h1.4M154.9 342.5h1.4M155.0 351.3h1.4M140.9 366.9h1.4M152.7 363.8h1.4M151.6 350.4h1.4M159.5 347.8h1.4M157.7 340.2h1.4M143.1 349.5h1.4M148.5 347.0h1.4M152.1 346.6h1.4M139.5 353.7h1.4M131.3 342.1h1.4M140.6 349.4h1.4M133.6 367.0h1.4M144.5 351.3h1.4M149.4 352.8h1.4M153.8 344.8h1.4M132.3 355.7h1.4M155.9 354.7h1.4M156.3 350.8h1.4M168.7 349.1h1.4M157.9 359.1h1.4M136.9 353.1h1.4M135.3 355.0h1.4M144.4 345.0h1.4M145.8 340.8h1.4M147.1 351.9h1.4M145.4 354.2h1.4M150.5 354.1h1.4M141.6 347.9h1.4M149.5 351.3h1.4M144.6 346.0h1.4M138.2 359.7h1.4M164.5 346.8h1.4M165.4 347.1h1.4M151.9 355.5h1.4M156.2 344.7h1.4M143.0 353.9h1.4M143.4 351.2h1.4M129.5 350.2h1.4M147.8 351.9h1.4M135.8 349.3h1.4M135.1 343.9h1.4M165.1 351.8h1.4M148.0 334.5h1.4M145.9 356.5h1.4M173.0 352.6h1.4M150.1 355.1h1.4M134.2 348.3h1.4M144.7 356.3h1.4M150.9 348.7h1.4M154.6 356.8h1.4M147.7 357.0h1.4M153.9 349.1h1.4M134.8 341.1h1.4M171.5 356.7h1.4M159.9 354.3h1.4M154.0 347.0h1.4M143.1 352.3h1.4M149.1 360.6h1.4M137.8 349.2h1.4M147.4 350.1h1.4M149.2 358.7h1.4M152.8 353.8h1.4M149.2 354.6h1.4M147.3 354.7h1.4M153.8 352.2h1.4M152.1 342.5h1.4M146.4 358.3h1.4M148.0 349.4h1.4M162.4 342.4h1.4M164.7 351.0h1.4M148.3 340.6h1.4M152.3 346.5h1.4M134.7 364.0h1.4M162.4 349.7h1.4M141.3 358.4h1.4M158.9 353.4h1.4M144.3 353.1h1.4M148.8 350.7h1.4M145.8 353.8h1.4M158.6 348.7h1.4M152.9 348.9h1.4M146.6 357.1h1.4M138.0 338.1h1.4M136.9 345.2h1.4M160.2 345.8h1.4M151.6 345.6h1.4M153.9 349.8h1.4M158.6 344.5h1.4M151.0 352.5h1.4M138.7 360.0h1.4M133.8 353.8h1.4M145.2 352.6h1.4M163.2 353.2h1.4M154.2 345.7h1.4M157.4 354.5h1.4M144.4 362.9h1.4M140.6 358.9h1.4M144.3 353.7h1.4M147.3 354.1h1.4M173.1 356.1h1.4M151.1 367.8h1.4M132.0 356.7h1.4M150.4 352.4h1.4M169.6 355.6h1.4M153.9 346.8h1.4M142.2 349.5h1.4M155.4 361.0h1.4M168.9 360.6h1.4M142.7 354.3h1.4M143.9 347.3h1.4M141.5 338.5h1.4M160.2 360.5h1.4M161.1 354.6h1.4M149.1 362.3h1.4M151.3 348.3h1.4M147.1 354.9h1.4M157.7 346.4h1.4M140.8 359.8h1.4M156.3 352.2h1.4M146.3 365.4h1.4M144.7 357.4h1.4M149.0 356.3h1.4M131.8 366.2h1.4M146.4 349.8h1.4M134.5 355.3h1.4M154.0 348.7h1.4M147.6 354.8h1.4M171.3 345.4h1.4M156.0 358.0h1.4M148.0 362.0h1.4M155.1 353.1h1.4M134.9 344.6h1.4M155.7 351.8h1.4M139.0 341.3h1.4M141.3 357.1h1.4M146.8 352.7h1.4M145.6 354.9h1.4M152.1 345.2h1.4M164.6 353.5h1.4M149.0 342.5h1.4M154.8 353.4h1.4M163.7 356.7h1.4M167.2 342.8h1.4M155.6 350.0h1.4M141.0 363.1h1.4M152.7 350.7h1.4M157.8 348.0h1.4M145.1 343.8h1.4M145.4 347.5h1.4M150.9 348.2h1.4M152.5 358.0h1.4M149.8 364.1h1.4M153.3 349.7h1.4M154.1 360.1h1.4M142.0 346.6h1.4M161.5 347.8h1.4M156.0 354.2h1.4M157.0 350.8h1.4M140.2 354.6h1.4M153.7 359.9h1.4M154.8 362.3h1.4M133.0 352.4h1.4M152.1 349.8h1.4M157.5 352.6h1.4M152.2 351.7h1.4M146.3 357.9h1.4M165.5 349.7h1.4M151.5 354.8h1.4M154.6 361.4h1.4M161.1 347.9h1.4M145.2 355.6h1.4M150.6 355.9h1.4M158.0 351.3h1.4M166.9 354.3h1.4M159.4 351.5h1.4M151.5 347.9h1.4M138.9 344.2h1.4M148.9 347.9h1.4M146.9 357.3h1.4M152.3 345.2h1.4M145.9 354.4h1.4M157.2 349.4h1.4M147.5 367.4h1.4M137.1 349.5h1.4M140.9 352.1h1.4M147.7 354.9h1.4M151.2 356.5h1.4M148.7 354.1h1.4M141.5 347.1h1.4M158.0 352.1h1.4M154.2 350.4h1.4M140.0 353.6h1.4M152.0 343.4h1.4M154.1 352.6h1.4M150.0 350.7h1.4M151.2 356.3h1.4M145.6 366.8h1.4M146.3 359.2h1.4M149.0 352.8h1.4M141.9 352.8h1.4M130.9 362.3h1.4M145.9 338.3h1.4M143.4 355.9h1.4M138.5 351.6h1.4M148.8 347.5h1.4M156.8 353.4h1.4M150.9 358.5h1.4M150.9 339.2h1.4M148.5 358.9h1.4M162.2 357.5h1.4M149.3 342.2h1.4M144.1 342.8h1.4M161.7 348.5h1.4M159.8 357.9h1.4M157.6 348.4h1.4M139.7 353.0h1.4M165.5 357.3h1.4M149.2 339.2h1.4M153.7 350.4h1.4M145.0 360.0h1.4M153.7 346.5h1.4M143.1 363.5h1.4M153.5 343.3h1.4M149.6 346.4h1.4M161.3 354.0h1.4M159.6 352.6h1.4M173.0 347.1h1.4M150.7 354.9h1.4M151.3 352.7h1.4M153.0 355.8h1.4M149.0 352.6h1.4M145.4 356.2h1.4M151.1 346.8h1.4M151.5 355.5h1.4M156.1 358.9h1.4M162.5 350.6h1.4M160.2 360.5h1.4M142.0 352.9h1.4M144.6 355.2h1.4M141.3 352.2h1.4M136.8 360.5h1.4M132.7 364.3h1.4M166.7 350.4h1.4M149.0 354.1h1.4M156.3 362.3h1.4M149.8 358.0h1.4M164.1 355.8h1.4M136.1 353.0h1.4M141.4 365.4h1.4M155.5 363.5h1.4M148.5 373.3h1.4M162.1 353.4h1.4M159.7 342.9h1.4M142.2 346.8h1.4M154.5 349.7h1.4M160.5 339.8h1.4M146.8 349.6h1.4M139.4 360.0h1.4M157.2 351.7h1.4M139.8 353.3h1.4M156.4 366.1h1.4M158.0 349.5h1.4M158.1 339.3h1.4M148.3 347.7h1.4M159.1 351.4h1.4M158.9 355.1h1.4M147.9 340.8h1.4M154.5 355.9h1.4M149.3 359.6h1.4M148.1 350.0h1.4M152.8 351.1h1.4M143.3 350.8h1.4M145.6 352.1h1.4M145.0 346.2h1.4M144.1 356.7h1.4M147.8 360.8h1.4M143.2 355.4h1.4M154.2 356.6h1.4M159.1 357.1h1.4M167.7 353.0h1.4M164.5 342.8h1.4M142.8 352.3h1.4M156.5 343.2h1.4M153.2 357.9h1.4M152.6 357.6h1.4M149.2 355.4h1.4M166.6 352.5h1.4M189.5 353.6h1.4M189.1 355.2h1.4M168.5 353.5h1.4M184.0 346.1h1.4M187.9 347.1h1.4M190.4 355.1h1.4M187.3 359.3h1.4M180.3 350.2h1.4M195.6 356.2h1.4M180.0 353.2h1.4M192.1 361.2h1.4M186.2 349.9h1.4M173.4 353.5h1.4M154.8 358.7h1.4M177.0 343.7h1.4M187.6 351.3h1.4M170.1 352.6h1.4M169.3 354.5h1.4M189.2 351.3h1.4M191.2 344.6h1.4M160.4 344.7h1.4M197.3 350.5h1.4M190.8 344.2h1.4M170.7 345.0h1.4M184.0 355.2h1.4M167.1 352.4h1.4M194.9 344.2h1.4M177.6 349.6h1.4M170.3 345.1h1.4M187.7 351.7h1.4M188.8 350.7h1.4M190.2 347.5h1.4M176.5 351.2h1.4M161.1 354.3h1.4M175.8 348.6h1.4M189.6 355.6h1.4M181.2 343.5h1.4M186.3 348.9h1.4M181.9 354.9h1.4M168.1 356.2h1.4M174.6 351.8h1.4M185.2 354.1h1.4M177.3 357.8h1.4M194.6 347.8h1.4M175.0 351.8h1.4M160.8 346.4h1.4M189.5 344.9h1.4M183.4 352.7h1.4M170.0 361.6h1.4M177.3 359.3h1.4M189.6 354.7h1.4M187.9 354.4h1.4M178.4 358.7h1.4M170.2 360.7h1.4M184.7 351.8h1.4M183.0 346.9h1.4M182.4 345.1h1.4M172.9 361.3h1.4M180.6 349.0h1.4M188.3 347.5h1.4M189.3 354.5h1.4M172.1 356.8h1.4M198.8 349.5h1.4M202.2 350.2h1.4M182.4 366.3h1.4M187.3 353.8h1.4M187.7 359.3h1.4M194.1 346.9h1.4M183.3 363.9h1.4M193.8 361.1h1.4M167.9 359.0h1.4M169.5 347.6h1.4M180.6 353.6h1.4M185.3 351.6h1.4M165.4 359.6h1.4M201.8 352.1h1.4M183.2 358.8h1.4M169.9 347.7h1.4M185.8 350.9h1.4M161.6 348.6h1.4M185.6 352.7h1.4M190.2 345.5h1.4M173.4 358.9h1.4M204.5 356.8h1.4M177.2 348.8h1.4M182.7 354.5h1.4M180.8 345.5h1.4M172.8 349.3h1.4M188.7 355.2h1.4M179.8 352.3h1.4M182.4 355.3h1.4M176.6 345.7h1.4M187.6 352.8h1.4M187.7 355.3h1.4M175.9 347.0h1.4M173.2 350.8h1.4M198.2 348.2h1.4M190.1 352.9h1.4M183.7 353.8h1.4M180.3 354.2h1.4M190.5 344.6h1.4M175.3 355.4h1.4M172.3 347.5h1.4M185.5 351.6h1.4M196.8 358.3h1.4M191.3 355.5h1.4M179.3 346.6h1.4M185.3 356.6h1.4M172.3 350.9h1.4M177.9 355.4h1.4M183.9 354.0h1.4M191.3 355.8h1.4M204.3 349.6h1.4M187.4 345.5h1.4M183.2 349.7h1.4M173.5 348.8h1.4M183.0 357.5h1.4M180.8 353.1h1.4M193.1 344.2h1.4M189.2 354.2h1.4M172.6 346.6h1.4M174.4 347.4h1.4M184.5 347.3h1.4M167.1 351.5h1.4M166.7 345.3h1.4M177.4 355.2h1.4M178.3 352.2h1.4M181.9 353.1h1.4M184.2 354.2h1.4M186.0 349.8h1.4M164.4 349.6h1.4M183.0 360.7h1.4M187.8 359.4h1.4M190.6 353.9h1.4M188.8 348.5h1.4M190.4 354.0h1.4M173.1 351.2h1.4M187.7 356.1h1.4M200.9 346.4h1.4M168.5 345.5h1.4M183.7 353.8h1.4M178.5 351.2h1.4M179.1 349.8h1.4M175.9 348.7h1.4M172.5 350.8h1.4M186.4 342.8h1.4M188.9 347.1h1.4M175.9 352.5h1.4M182.1 349.9h1.4M183.9 352.5h1.4M185.1 358.2h1.4M180.9 352.6h1.4M194.8 351.1h1.4M172.5 343.2h1.4M186.3 354.2h1.4M176.5 348.9h1.4M188.8 338.0h1.4M191.7 353.8h1.4M157.6 346.8h1.4M186.9 351.9h1.4M183.5 355.9h1.4M175.7 354.4h1.4M185.1 357.0h1.4M184.7 354.6h1.4M173.6 347.9h1.4M179.3 350.4h1.4M171.0 353.6h1.4M179.4 349.4h1.4M170.5 354.4h1.4M198.4 351.6h1.4M182.4 355.3h1.4M175.2 358.1h1.4M173.7 353.2h1.4M180.8 349.5h1.4M188.7 356.9h1.4M175.0 351.5h1.4M183.7 356.8h1.4M197.7 359.4h1.4M179.7 348.9h1.4M190.4 355.8h1.4M165.1 358.9h1.4M172.5 351.6h1.4M170.8 346.8h1.4M183.8 352.5h1.4M179.1 359.9h1.4M181.6 344.1h1.4M190.4 353.2h1.4M170.8 362.9h1.4M173.9 356.8h1.4M201.7 357.5h1.4M177.4 349.0h1.4M182.8 360.1h1.4M166.8 349.6h1.4M176.0 353.0h1.4M162.5 359.9h1.4M176.8 354.9h1.4M187.7 353.4h1.4M177.2 355.3h1.4M195.0 353.1h1.4M162.5 351.7h1.4M186.8 356.4h1.4M175.2 358.3h1.4M187.5 352.6h1.4M174.5 347.8h1.4M194.0 356.0h1.4M188.1 356.1h1.4M185.5 348.3h1.4M202.1 354.9h1.4M179.8 356.1h1.4M165.4 350.1h1.4M173.4 345.3h1.4M157.4 349.7h1.4M174.1 352.5h1.4M192.6 345.4h1.4M183.8 349.9h1.4M167.8 346.2h1.4M177.5 359.3h1.4M173.1 356.6h1.4M171.4 345.4h1.4M160.9 351.0h1.4M176.3 352.7h1.4M196.2 354.0h1.4M191.5 350.8h1.4M187.1 353.8h1.4M188.3 353.7h1.4M180.0 353.9h1.4M177.5 344.4h1.4M190.7 347.1h1.4M175.0 356.3h1.4M171.8 349.2h1.4M171.4 356.1h1.4M158.9 346.9h1.4M179.0 342.8h1.4M200.2 344.2h1.4M188.8 360.6h1.4M172.4 349.3h1.4M177.4 352.3h1.4M187.1 347.2h1.4M173.4 346.6h1.4M180.1 349.1h1.4M199.3 354.7h1.4M179.7 353.3h1.4M178.3 355.5h1.4M182.1 349.1h1.4M173.4 355.7h1.4M177.4 350.2h1.4M175.3 347.2h1.4M175.4 353.1h1.4M181.1 346.2h1.4M178.5 350.5h1.4M180.1 360.7h1.4M170.3 353.3h1.4M189.9 351.1h1.4M191.1 354.9h1.4M192.1 352.0h1.4M180.1 350.0h1.4M199.1 352.2h1.4M183.5 347.3h1.4M189.5 353.7h1.4M164.6 355.5h1.4M196.4 355.0h1.4M181.6 351.4h1.4M180.9 342.9h1.4M175.8 356.5h1.4M191.5 352.6h1.4M183.3 354.9h1.4M185.0 354.3h1.4M184.8 358.2h1.4M166.1 366.0h1.4M180.2 344.4h1.4M187.2 355.6h1.4M170.8 355.6h1.4M158.2 354.2h1.4M189.7 350.9h1.4M188.9 351.8h1.4M188.4 363.3h1.4M169.9 351.4h1.4M177.6 350.4h1.4M161.5 352.3h1.4M196.2 352.7h1.4M178.8 359.3h1.4M196.3 347.5h1.4M157.3 350.8h1.4M166.4 344.7h1.4M186.1 355.5h1.4M186.4 355.6h1.4M193.1 354.0h1.4M169.8 355.8h1.4M175.9 356.2h1.4M198.1 356.5h1.4M169.4 358.3h1.4M190.0 342.2h1.4M200.3 363.8h1.4M192.5 356.1h1.4M183.1 338.1h1.4M173.7 345.5h1.4M184.6 353.0h1.4M181.4 350.6h1.4M187.5 350.4h1.4M174.6 357.4h1.4M183.6 353.4h1.4M163.0 350.4h1.4M190.5 343.6h1.4M181.9 354.2h1.4M156.2 350.0h1.4M194.7 347.5h1.4M174.8 355.7h1.4M183.5 359.3h1.4M178.9 349.2h1.4M185.3 353.7h1.4M182.0 348.9h1.4M187.7 344.6h1.4M174.4 359.2h1.4M185.5 349.7h1.4M188.3 362.0h1.4M179.2 355.4h1.4M172.6 353.1h1.4M166.0 349.1h1.4M186.4 343.3h1.4M163.1 354.4h1.4M188.5 346.0h1.4M185.7 356.2h1.4M190.2 357.5h1.4M190.8 350.6h1.4M165.7 357.1h1.4M178.0 354.1h1.4M185.0 365.4h1.4M160.3 352.7h1.4M183.7 356.9h1.4M174.3 350.9h1.4M170.2 348.0h1.4M194.2 364.6h1.4M173.0 357.0h1.4M181.7 348.5h1.4M180.2 350.1h1.4M169.0 349.5h1.4M184.0 357.7h1.4M186.5 351.3h1.4M178.1 347.6h1.4M182.3 348.1h1.4M186.3 360.3h1.4M183.7 354.6h1.4M185.6 355.3h1.4M157.6 354.7h1.4M184.0 351.2h1.4M178.6 358.1h1.4M183.7 353.4h1.4M202.2 357.1h1.4M199.3 356.7h1.4M184.5 352.3h1.4M200.8 353.2h1.4M188.5 347.1h1.4M189.9 352.7h1.4M170.5 355.9h1.4M162.2 360.9h1.4M189.8 355.5h1.4M182.6 350.4h1.4M192.8 361.6h1.4M193.4 348.3h1.4M195.1 352.3h1.4M178.7 342.2h1.4M190.1 348.2h1.4M175.6 349.2h1.4M189.5 347.2h1.4M170.3 352.7h1.4M183.7 360.6h1.4M176.5 360.7h1.4M191.2 352.0h1.4M190.9 353.8h1.4M191.9 351.8h1.4M171.0 355.2h1.4M189.6 355.8h1.4M177.5 354.3h1.4M173.7 353.8h1.4M186.6 352.4h1.4M185.9 355.1h1.4M153.4 343.2h1.4M171.3 340.0h1.4M159.8 354.8h1.4M183.9 348.0h1.4M192.3 354.0h1.4M195.0 349.7h1.4M174.1 361.1h1.4M187.8 352.1h1.4M183.8 351.5h1.4M183.0 353.6h1.4M165.1 346.3h1.4M197.0 340.1h1.4M173.3 355.1h1.4M190.2 349.9h1.4M197.5 356.4h1.4M197.0 342.7h1.4M188.9 355.9h1.4M187.6 357.2h1.4M188.1 345.2h1.4M168.5 352.8h1.4M197.3 351.3h1.4M173.2 362.5h1.4M176.0 353.2h1.4M194.4 348.5h1.4M163.8 373.3h1.4M153.8 358.2h1.4M149.9 383.7h1.4M150.2 368.8h1.4M151.2 372.0h1.4M148.4 358.1h1.4M149.2 364.7h1.4M148.0 374.4h1.4M149.5 367.5h1.4M150.5 367.1h1.4M150.9 371.2h1.4M150.1 371.6h1.4M150.0 366.5h1.4M153.1 365.1h1.4M150.4 352.2h1.4M148.7 383.1h1.4M147.8 362.6h1.4M151.7 367.4h1.4M149.0 373.8h1.4M146.8 362.4h1.4M152.4 378.3h1.4M153.0 384.5h1.4M154.5 367.2h1.4M143.7 372.6h1.4M147.9 366.0h1.4M154.5 365.1h1.4M144.2 354.4h1.4M152.1 352.5h1.4M147.9 377.8h1.4M153.2 360.7h1.4M138.6 365.5h1.4M158.1 357.0h1.4M151.9 360.4h1.4M150.1 374.1h1.4M150.0 386.3h1.4M150.8 366.6h1.4M147.3 366.8h1.4M149.7 374.7h1.4M151.6 362.3h1.4M148.6 376.1h1.4M149.5 374.5h1.4M143.3 365.7h1.4M151.9 356.9h1.4M139.9 368.7h1.4M156.2 382.6h1.4M149.8 374.6h1.4M153.5 374.0h1.4M140.5 363.3h1.4M153.0 372.2h1.4M149.0 369.3h1.4M151.1 371.3h1.4M143.1 376.5h1.4M138.5 371.5h1.4M149.0 355.1h1.4M139.8 365.0h1.4M149.2 368.9h1.4M152.9 360.0h1.4M146.6 358.1h1.4M154.7 373.2h1.4M153.8 373.6h1.4M151.2 365.3h1.4M155.3 364.3h1.4M146.6 382.9h1.4M149.1 369.9h1.4M154.7 364.1h1.4M138.9 368.1h1.4M150.2 363.5h1.4M151.5 367.2h1.4M150.5 371.6h1.4M146.8 366.4h1.4M156.8 370.5h1.4M150.7 374.3h1.4M152.8 375.9h1.4M153.3 372.4h1.4M166.3 369.4h1.4M145.5 374.4h1.4M152.8 371.1h1.4M150.0 369.9h1.4M146.8 369.8h1.4M148.5 360.5h1.4M140.4 372.2h1.4M144.6 365.5h1.4M154.6 377.4h1.4M140.9 365.7h1.4M149.2 365.3h1.4M151.1 367.1h1.4M160.3 362.9h1.4M148.4 374.9h1.4M146.7 372.1h1.4M151.6 373.0h1.4M155.1 369.0h1.4M151.9 372.2h1.4M153.2 371.8h1.4M147.8 362.3h1.4M157.5 367.4h1.4M159.8 369.1h1.4M146.6 367.6h1.4M154.6 356.7h1.4M146.8 382.7h1.4M149.5 377.0h1.4M145.7 371.6h1.4M148.4 357.5h1.4M144.1 367.3h1.4M141.9 377.2h1.4M144.9 371.2h1.4M154.2 367.0h1.4M150.6 370.6h1.4M141.8 368.7h1.4M151.3 373.7h1.4M155.8 369.1h1.4M151.9 382.1h1.4M147.2 366.8h1.4M142.3 362.7h1.4M151.2 358.1h1.4M162.5 367.6h1.4M147.1 381.4h1.4M148.5 380.6h1.4M161.8 365.8h1.4M151.0 378.5h1.4M155.2 369.9h1.4M150.6 379.7h1.4M149.8 371.0h1.4M150.9 379.8h1.4M152.4 364.1h1.4M151.0 380.5h1.4M155.2 367.0h1.4M149.8 377.3h1.4M154.8 371.8h1.4M150.5 356.3h1.4M150.8 373.3h1.4M142.4 357.5h1.4M144.7 363.9h1.4M147.1 361.4h1.4M147.9 367.7h1.4M150.1 364.2h1.4M153.5 378.5h1.4M146.6 370.8h1.4M158.9 368.9h1.4M152.1 368.1h1.4M140.0 365.5h1.4M152.3 386.5h1.4M143.5 373.0h1.4M151.5 362.9h1.4M151.1 370.9h1.4M149.9 376.8h1.4M156.1 378.3h1.4M152.6 373.6h1.4M143.0 368.3h1.4M153.3 367.7h1.4M164.9 376.4h1.4M156.1 364.2h1.4M157.6 362.3h1.4M151.7 370.5h1.4M145.6 362.2h1.4M146.4 369.1h1.4M149.1 368.5h1.4M148.5 379.6h1.4M155.8 364.3h1.4M145.5 371.1h1.4M157.9 359.7h1.4M147.7 368.7h1.4M153.1 370.3h1.4M150.4 364.3h1.4M148.7 375.0h1.4M150.5 370.0h1.4M149.0 374.4h1.4M164.0 371.8h1.4M151.7 359.1h1.4M152.7 373.9h1.4M159.4 376.4h1.4M141.3 382.7h1.4M158.0 367.5h1.4M144.2 362.1h1.4M145.2 388.0h1.4M151.7 366.9h1.4M151.0 385.1h1.4M153.9 363.0h1.4M151.6 367.7h1.4M149.7 365.0h1.4M152.9 370.2h1.4M155.9 375.8h1.4M147.9 347.2h1.4M151.9 362.0h1.4M157.4 374.5h1.4M146.4 364.3h1.4M142.7 352.1h1.4M150.5 357.2h1.4M154.4 367.5h1.4M151.3 363.1h1.4M158.6 366.5h1.4M158.2 368.7h1.4M149.5 368.6h1.4M148.8 356.8h1.4M147.5 363.1h1.4M154.3 375.8h1.4M153.4 364.9h1.4M153.6 358.8h1.4M146.3 377.1h1.4M153.5 369.7h1.4M146.8 374.8h1.4" stroke="#777" stroke-width="1.4" fill="none" opacity="0.16"/>
</g>
<rect x="128.50" y="328.00" width="84.50" height="82.70" fill="none" stroke="#888" stroke-width="1"/>
<rect x="134.25" y="340.00" width="32.00" height="23.25" fill="none" stroke="#222" stroke-width="1"/>
<rect x="134.25" y="363.25" width="32.00" height="15.50" fill="none" stroke="#222" stroke-width="1"/>
<rect x="166.25" y="340.00" width="35.00" height="22.50" fill="none" stroke="#222" stroke-width="1"/>
<rect x="166.25" y="362.50" width="33.25" height="14.50" fill="none" stroke="#222" stroke-width="1"/>
<rect x="170.00" y="377.00" width="28.00" height="14.50" fill="none" stroke="#222" stroke-width="1"/>
<line x1="31.80" y1="299.90" x2="31.80" y2="301.40" stroke="#555" stroke-width="0.8"/>
<line x1="30.30" y1="299.90" x2="31.80" y2="299.90" stroke="#555" stroke-width="0.8"/>
<line x1="52.55" y1="299.90" x2="52.55" y2="301.40" stroke="#555" stroke-width="0.8"/>
<line x1="30.30" y1="279.55" x2="31.80" y2="279.55" stroke="#555" stroke-width="0.8"/>
<line x1="73.30" y1="299.90" x2="73.30" y2="301.40" stroke="#555" stroke-width="0.8"/>
<line x1="30.30" y1="259.20" x2="31.80" y2="259.20" stroke="#555" stroke-width="0.8"/>
<line x1="94.05" y1="299.90" x2="94.05" y2="301.40" stroke="#555" stroke-width="0.8"/>
<line x1="30.30" y1="238.85" x2="31.80" y2="238.85" stroke="#555" stroke-width="0.8"/>
<line x1="114.80" y1="299.90" x2="114.80" y2="301.40" stroke="#555" stroke-width="0.8"/>
<line x1="30.30" y1="218.50" x2="31.80" y2="218.50" stroke="#555" stroke-width="0.8"/>
<line x1="127.50" y1="300.40" x2="127.50" y2="301.90" stroke="#555" stroke-width="0.8"/>
<line x1="126.00" y1="300.40" x2="127.50" y2="300.40" stroke="#555" stroke-width="0.8"/>
<line x1="148.28" y1="300.40" x2="148.28" y2="301.90" stroke="#555" stroke-width="0.8"/>
<line x1="126.00" y1="279.97" x2="127.50" y2="279.97" stroke="#555" stroke-width="0.8"/>
<line x1="169.05" y1="300.40" x2="169.05" y2="301.90" stroke="#555" stroke-width="0.8"/>
<line x1="126.00" y1="259.55" x2="127.50" y2="259.55" stroke="#555" stroke-width="0.8"/>
<line x1="189.82" y1="300.40" x2="189.82" y2="301.90" stroke="#555" stroke-width="0.8"/>
<line x1="126.00" y1="239.12" x2="127.50" y2="239.12" stroke="#555" stroke-width="0.8"/>
<line x1="210.60" y1="300.40" x2="210.60" y2="301.90" stroke="#555" stroke-width="0.8"/>
<line x1="126.00" y1="218.70" x2="127.50" y2="218.70" stroke="#555" stroke-width="0.8"/>
<line x1="31.70" y1="410.40" x2="31.70" y2="411.90" stroke="#555" stroke-width="0.8"/>
<line x1="30.20" y1="410.40" x2="31.70" y2="410.40" stroke="#555" stroke-width="0.8"/>
<line x1="52.65" y1="410.40" x2="52.65" y2="411.90" stroke="#555" stroke-width="0.8"/>
<line x1="30.20" y1="389.80" x2="31.70" y2="389.80" stroke="#555" stroke-width="0.8"/>
<line x1="73.60" y1="410.40" x2="73.60" y2="411.90" stroke="#555" stroke-width="0.8"/>
<line x1="30.20" y1="369.20" x2="31.70" y2="369.20" stroke="#555" stroke-width="0.8"/>
<line x1="94.55" y1="410.40" x2="94.55" y2="411.90" stroke="#555" stroke-width="0.8"/>
<line x1="30.20" y1="348.60" x2="31.70" y2="348.60" stroke="#555" stroke-width="0.8"/>
<line x1="115.50" y1="410.40" x2="115.50" y2="411.90" stroke="#555" stroke-width="0.8"/>
<line x1="30.20" y1="328.00" x2="31.70" y2="328.00" stroke="#555" stroke-width="0.8"/>
<line x1="128.50" y1="410.70" x2="128.50" y2="412.20" stroke="#555" stroke-width="0.8"/>
<line x1="127.00" y1="410.70" x2="128.50" y2="410.70" stroke="#555" stroke-width="0.8"/>
<line x1="149.62" y1="410.70" x2="149.62" y2="412.20" stroke="#555" stroke-width="0.8"/>
<line x1="127.00" y1="390.02" x2="128.50" y2="390.02" stroke="#555" stroke-width="0.8"/>
<line x1="170.75" y1="410.70" x2="170.75" y2="412.20" stroke="#555" stroke-width="0.8"/>
<line x1="127.00" y1="369.35" x2="128.50" y2="369.35" stroke="#555" stroke-width="0.8"/>
<line x1="191.88" y1="410.70" x2="191.88" y2="412.20" stroke="#555" stroke-width="0.8"/>
<line x1="127.00" y1="348.68" x2="128.50" y2="348.68" stroke="#555" stroke-width="0.8"/>
<line x1="213.00" y1="410.70" x2="213.00" y2="412.20" stroke="#555" stroke-width="0.8"/>
<line x1="127.00" y1="328.00" x2="128.50" y2="328.00" stroke="#555" stroke-width="0.8"/>
<text x="28.3" y="222.4" font-size="9" text-anchor="end">10<tspan font-size="6" dy="-3.6">4</tspan></text>
<text x="28.3" y="242.1" font-size="9" text-anchor="end">10<tspan font-size="6" dy="-3.6">3</tspan></text>
<text x="28.3" y="261.8" font-size="9" text-anchor="end">10<tspan font-size="6" dy="-3.6">2</tspan></text>
<text x="28.3" y="281.8" font-size="9" text-anchor="end">10<tspan font-size="6" dy="-3.6">1</tspan></text>
<text x="28.3" y="303.0" font-size="9" text-anchor="end">10<tspan font-size="6" dy="-3.6">0</tspan></text>
<text x="29.3" y="333.5" font-size="9" text-anchor="end">10<tspan font-size="6" dy="-3.6">4</tspan></text>
<text x="29.3" y="353.2" font-size="9" text-anchor="end">10<tspan font-size="6" dy="-3.6">3</tspan></text>
<text x="29.3" y="372.2" font-size="9" text-anchor="end">10<tspan font-size="6" dy="-3.6">2</tspan></text>
<text x="29.3" y="392.5" font-size="9" text-anchor="end">10<tspan font-size="6" dy="-3.6">1</tspan></text>
<text x="29.3" y="412.4" font-size="9" text-anchor="end">10<tspan font-size="6" dy="-3.6">0</tspan></text>
<text x="31.4" y="422.0" font-size="9" text-anchor="middle">10<tspan font-size="6" dy="-3.6">0</tspan></text>
<text x="52.4" y="422.0" font-size="9" text-anchor="middle">10<tspan font-size="6" dy="-3.6">1</tspan></text>
<text x="73.3" y="422.0" font-size="9" text-anchor="middle">10<tspan font-size="6" dy="-3.6">2</tspan></text>
<text x="94.2" y="422.0" font-size="9" text-anchor="middle">10<tspan font-size="6" dy="-3.6">3</tspan></text>
<text x="115.2" y="422.0" font-size="9" text-anchor="middle">10<tspan font-size="6" dy="-3.6">4</tspan></text>
<text x="128.0" y="422.0" font-size="9" text-anchor="middle">10<tspan font-size="6" dy="-3.6">0</tspan></text>
<text x="149.1" y="422.0" font-size="9" text-anchor="middle">10<tspan font-size="6" dy="-3.6">1</tspan></text>
<text x="170.2" y="422.0" font-size="9" text-anchor="middle">10<tspan font-size="6" dy="-3.6">2</tspan></text>
<text x="191.4" y="422.0" font-size="9" text-anchor="middle">10<tspan font-size="6" dy="-3.6">3</tspan></text>
<text x="212.5" y="422.0" font-size="9" text-anchor="middle">10<tspan font-size="6" dy="-3.6">4</tspan></text>
<text x="34.2" y="230.4" font-size="8.9">R2</text>
<text x="102.0" y="247.3" font-size="8.9">R3</text>
<text x="102.0" y="265.7" font-size="8.9">R4</text>
<text x="102.0" y="281.0" font-size="8.9">R5</text>
<text x="33.5" y="284.6" font-size="8.9">R1</text>
<text x="130.0" y="229.5" font-size="8.9">R2</text>
<text x="199.0" y="248.8" font-size="8.9">R3</text>
<text x="199.0" y="267.0" font-size="8.9">R4</text>
<text x="199.0" y="281.6" font-size="8.9">R5</text>
<text x="130.0" y="284.6" font-size="8.9">R1</text>
<text x="34.5" y="336.6" font-size="8.9">R2</text>
<text x="103.5" y="354.8" font-size="8.9">R3</text>
<text x="103.0" y="372.8" font-size="8.9">R4</text>
<text x="103.0" y="387.7" font-size="8.9">R5</text>
<text x="34.5" y="392.0" font-size="8.9">R1</text>
<text x="134.0" y="336.8" font-size="8.9">R2</text>
<text x="201.3" y="354.2" font-size="8.9">R3</text>
<text x="201.5" y="372.8" font-size="8.9">R4</text>
<text x="201.5" y="387.6" font-size="8.9">R5</text>
<text x="134.0" y="391.6" font-size="8.9">R1</text>
<text x="62.0" y="215.2" font-size="9" font-style="italic" fill="#000">PIT1<tspan font-size="6" dy="-3.4">+/+</tspan></text>
<text x="154.6" y="215.1" font-size="9" font-style="italic" fill="#000">PIT1<tspan font-size="6" dy="-3.4">Δ5/Δ5</tspan></text>
<text x="56.2" y="324.8" font-size="9" font-style="italic" fill="#000">PIT1<tspan font-size="6" dy="-3.4">neo/Δ5</tspan></text>
<text x="151.0" y="324.8" font-size="9" font-style="italic" fill="#000">PIT1<tspan font-size="6" dy="-3.4">neo/neo</tspan></text>
<text x="6.0" y="198.6" font-size="17.2" font-weight="bold">B</text>
<line x1="10.90" y1="222.00" x2="10.90" y2="391.00" stroke="#000" stroke-width="2"/>
<path d="M8.2 224 L10.9 218.3 L13.6 224 Z" fill="#000"/>
<text transform="translate(14,405.5) rotate(-90)" font-size="9.8" text-anchor="middle">CD 71</text>
<text x="21.0" y="431.2" font-size="9.4">TER 119</text>
<line x1="59.00" y1="428.20" x2="210.00" y2="428.20" stroke="#000" stroke-width="2"/>
<path d="M209 425.5 L215 428.2 L209 430.9 Z" fill="#000"/>
<g filter="url(#bl05)">
<path d="M39.0 537.8h1M37.5 537.3h1M64.7 536.9h1M44.4 543.7h1M40.2 535.5h1M49.2 539.0h1M42.8 529.6h1M53.7 526.1h1M46.1 535.8h1M48.9 537.4h1M52.5 527.4h1M43.4 538.7h1M33.8 541.4h1M46.4 534.5h1M31.0 538.8h1M38.3 539.4h1M54.2 535.6h1M26.2 538.0h1M49.4 533.4h1M44.8 535.5h1M45.2 524.8h1M55.2 525.9h1M32.1 534.9h1M39.3 542.8h1M25.2 538.4h1M58.8 538.0h1M47.3 536.3h1M35.2 535.8h1M35.8 542.3h1M45.4 530.1h1M50.1 543.3h1M44.5 533.9h1M47.4 542.2h1M51.4 537.5h1M38.7 529.5h1M40.9 530.4h1M41.0 542.2h1M27.5 540.4h1M45.0 543.3h1M47.9 537.5h1M39.7 536.2h1M49.1 534.6h1M59.0 537.1h1M48.4 538.2h1M38.0 530.1h1M45.9 537.0h1M30.8 542.0h1M47.2 538.4h1M65.6 540.0h1M46.4 542.9h1M56.6 531.1h1M48.0 545.8h1M45.5 538.9h1M35.1 537.0h1M40.7 540.6h1M33.2 534.7h1M46.8 535.6h1M42.9 536.9h1M57.7 544.1h1M45.8 536.3h1M44.2 543.4h1M52.1 536.8h1M46.7 541.6h1M47.9 529.6h1M50.1 529.5h1M62.7 543.1h1M57.8 535.6h1M41.2 540.7h1M60.9 536.8h1M56.2 537.1h1M43.0 534.5h1M28.3 529.6h1M52.7 539.3h1M32.4 540.7h1M50.5 534.3h1M45.9 533.3h1M66.2 533.8h1M42.5 552.1h1M37.0 530.8h1M56.9 533.7h1M41.2 535.9h1M41.2 543.2h1M53.1 536.5h1M40.3 539.1h1M29.2 540.5h1M37.7 540.4h1M37.2 534.0h1M44.1 537.8h1M45.9 542.9h1M47.4 539.1h1M46.4 540.1h1M35.6 534.9h1M31.2 540.4h1M75.6 535.0h1M42.3 536.3h1M34.6 538.5h1M34.7 540.9h1M57.9 537.5h1M24.5 538.6h1M41.9 534.7h1M39.4 536.8h1M38.8 539.5h1M49.3 531.7h1M39.2 538.5h1M60.0 542.5h1M39.9 546.6h1M48.8 532.5h1M53.4 542.8h1M44.6 540.1h1M59.2 537.0h1M58.2 529.6h1M54.1 531.2h1M33.3 538.5h1M40.0 536.5h1M27.8 539.0h1M41.8 534.8h1M47.7 536.8h1M36.7 541.6h1M41.4 545.8h1M33.6 533.4h1M52.1 534.9h1M37.8 540.3h1M39.6 533.0h1M43.3 530.2h1M27.0 538.3h1M46.0 532.4h1M42.4 535.8h1M36.0 533.8h1M44.7 537.6h1M67.5 532.7h1M61.5 536.6h1M40.6 534.9h1M27.0 537.1h1M55.5 534.8h1M49.4 538.3h1M57.7 539.1h1M62.8 544.3h1M49.2 530.1h1M40.8 539.6h1M56.3 542.6h1M55.5 532.9h1M46.0 537.9h1M39.7 532.2h1M25.2 537.2h1M34.2 536.9h1M30.8 540.6h1M51.5 538.8h1M52.0 535.2h1M37.0 538.5h1M50.7 536.6h1M40.8 538.4h1M39.2 535.0h1M58.2 539.7h1M38.7 537.2h1M47.4 536.6h1M35.6 532.1h1M46.7 535.4h1M40.9 536.5h1M37.9 533.1h1M70.1 546.3h1M55.2 538.9h1M44.4 541.9h1M44.7 535.2h1M49.1 537.1h1M44.6 545.9h1M39.7 532.9h1M48.8 537.3h1M43.1 530.7h1M55.3 542.4h1M56.6 527.3h1M46.2 532.1h1M63.2 541.2h1M30.7 528.7h1M37.8 535.8h1M33.1 542.0h1M28.9 537.1h1M50.2 535.2h1M56.0 539.8h1M32.0 529.2h1M36.5 525.2h1M29.3 529.9h1M47.1 533.8h1M42.7 538.8h1M63.9 538.1h1M49.8 531.7h1M34.1 539.3h1M38.7 541.5h1M32.4 547.5h1M43.8 534.0h1M44.2 531.9h1M38.4 533.0h1M54.3 543.0h1M52.4 531.4h1M25.3 539.1h1M35.0 534.4h1M51.2 534.4h1M36.1 538.1h1M42.2 543.0h1M31.1 537.2h1M52.7 545.3h1M46.7 526.7h1M26.7 531.4h1M33.6 543.8h1M51.4 536.2h1M42.5 530.0h1M39.7 540.6h1M45.8 532.6h1M62.1 534.4h1M45.5 546.7h1M41.7 544.1h1M50.1 539.8h1M57.2 536.7h1M40.3 524.9h1M62.6 541.2h1M58.4 532.9h1M35.5 537.7h1M43.0 540.8h1M58.6 550.6h1M64.1 532.6h1M33.9 537.7h1M36.7 537.1h1M45.4 539.7h1M42.3 533.7h1M41.9 537.0h1M55.1 525.2h1M53.7 542.0h1M31.3 538.4h1M43.7 536.0h1M64.4 542.5h1M37.2 545.6h1M31.9 537.6h1M61.7 543.4h1M26.2 537.8h1M40.7 539.8h1M62.0 535.7h1M55.8 535.6h1M44.4 542.7h1M38.6 530.4h1M30.1 537.4h1M54.3 542.5h1M40.9 537.6h1M36.9 536.9h1M42.0 531.8h1M59.0 538.4h1M38.3 552.6h1M65.2 532.5h1M49.0 537.7h1M30.7 537.0h1M39.9 543.1h1M36.4 547.0h1M57.7 537.1h1M49.4 543.8h1M63.1 541.6h1M55.5 550.2h1M45.3 542.6h1M47.7 535.2h1M52.5 532.7h1M35.7 538.3h1M52.5 540.5h1M36.0 537.8h1M29.8 540.8h1M34.8 529.0h1M41.4 533.1h1M58.9 536.0h1M28.4 537.3h1M23.9 544.8h1M36.5 538.6h1M28.4 543.2h1M52.5 540.6h1M27.8 540.8h1M47.5 538.3h1M46.8 546.2h1M51.9 534.1h1M49.7 536.7h1M69.8 544.5h1M67.3 540.1h1M64.8 530.8h1M39.8 539.1h1M42.5 536.7h1M53.1 533.1h1M28.6 533.6h1M40.1 541.6h1M42.4 538.9h1M45.6 518.3h1M43.7 537.5h1M43.3 542.2h1M25.9 543.5h1M65.8 533.9h1M66.2 525.4h1M53.3 532.2h1M52.1 537.8h1M31.2 545.0h1M54.8 542.1h1M54.9 542.3h1M44.4 542.2h1M30.3 532.0h1M70.8 544.7h1M49.4 537.1h1M41.0 532.7h1M45.9 531.0h1M51.8 540.4h1M40.8 542.4h1M41.1 534.5h1M27.0 539.4h1M40.1 540.7h1M57.3 532.8h1M46.0 539.9h1M38.2 556.1h1M39.9 534.2h1M44.8 539.6h1M39.0 539.3h1M50.0 542.6h1M37.8 548.9h1M26.1 534.6h1M42.1 532.9h1M65.8 547.9h1M71.6 535.5h1M38.8 537.1h1M50.4 535.0h1M47.4 541.5h1M57.9 541.3h1M42.9 544.1h1M49.3 539.8h1M44.1 536.5h1M56.0 536.1h1M34.0 544.9h1M40.2 546.7h1M34.5 530.6h1M40.5 538.1h1M44.2 538.1h1M40.2 531.3h1M39.6 537.0h1M36.6 543.3h1M47.9 531.0h1M61.3 535.8h1M50.0 526.9h1M27.9 530.8h1M54.6 538.8h1M49.5 541.7h1M32.8 543.6h1M51.3 540.9h1M42.2 536.8h1M44.4 535.3h1M44.1 537.7h1M42.8 536.2h1M40.7 536.7h1M40.7 538.1h1M48.0 546.3h1M46.7 527.5h1M36.5 542.0h1M39.3 539.5h1M36.8 547.2h1M54.8 531.4h1M31.0 535.9h1M42.6 529.9h1M32.2 538.9h1M66.7 537.2h1M54.7 537.0h1M32.3 536.6h1M52.7 536.4h1M55.5 536.8h1M45.8 544.8h1M48.4 547.7h1M43.2 543.9h1M32.9 540.2h1M33.0 540.9h1M49.3 538.5h1M48.2 540.5h1M44.4 537.8h1M36.3 541.8h1M29.0 531.4h1M46.2 533.8h1M56.6 541.4h1M37.0 532.7h1M58.6 536.7h1M36.5 543.2h1M53.9 541.2h1M65.7 540.2h1M48.7 537.5h1M43.7 537.6h1M45.5 535.6h1M61.0 546.7h1M56.1 532.3h1M32.3 538.8h1M37.0 529.9h1M47.2 538.1h1M51.9 537.2h1M48.2 532.3h1M56.7 540.3h1M62.3 527.4h1M44.6 535.0h1M46.6 527.4h1M57.2 540.9h1M37.0 540.0h1M51.7 543.3h1M35.1 544.3h1M42.0 533.7h1M26.6 540.1h1M44.7 538.6h1M37.4 536.6h1M32.0 541.6h1M61.7 534.5h1M36.1 534.1h1M50.7 538.6h1M56.1 532.9h1M51.5 532.8h1M47.4 539.6h1M60.8 541.2h1M45.2 535.4h1M57.5 540.7h1M35.7 532.8h1M28.5 534.0h1M50.9 536.3h1M50.8 539.3h1M91.2 538.5h1M59.1 536.9h1M41.2 533.5h1M39.0 532.8h1M37.7 546.2h1M28.3 535.2h1M28.6 535.2h1M41.7 535.8h1M43.4 531.6h1M30.6 534.9h1M44.7 535.0h1M39.1 539.5h1M52.7 531.0h1M48.6 534.3h1M54.7 535.1h1M53.8 538.9h1M53.1 530.5h1M48.2 531.3h1M58.2 540.7h1M72.3 556.1h1M54.0 546.6h1M30.3 555.8h1M43.2 553.7h1M57.3 552.3h1M52.1 551.8h1M39.6 541.1h1M57.6 552.2h1M62.8 557.7h1M46.6 558.2h1M53.9 550.9h1M58.7 561.3h1M60.9 556.2h1M46.8 556.5h1M35.5 563.5h1M26.2 547.2h1M63.0 546.2h1M54.0 550.6h1M35.2 544.2h1M34.9 555.5h1M42.5 563.8h1M38.4 551.1h1M52.8 560.4h1M52.4 557.6h1M58.3 554.8h1M55.6 551.7h1M30.1 553.7h1M54.7 557.3h1M56.2 554.7h1M26.2 551.4h1M55.2 556.1h1M37.1 558.0h1M43.5 553.4h1M24.4 552.8h1M37.7 549.7h1M43.2 549.1h1M48.2 560.0h1M65.6 560.1h1M51.3 553.6h1M62.8 556.5h1M49.0 544.3h1M29.9 558.3h1M44.8 549.3h1M70.2 555.4h1M24.0 552.6h1M41.9 554.3h1M60.1 551.9h1M42.8 548.9h1M53.9 546.6h1M47.5 558.5h1M37.2 561.2h1M57.6 553.6h1M54.5 560.5h1M40.0 552.0h1M63.7 559.2h1M29.1 551.9h1M33.2 549.7h1M44.5 555.5h1M41.3 554.6h1M46.8 554.0h1M33.0 557.9h1M51.4 558.3h1M35.9 552.3h1M57.8 558.5h1M65.5 546.5h1M34.1 548.3h1M55.0 560.2h1M59.7 558.1h1M64.9 553.0h1M26.8 558.4h1M35.4 555.8h1M45.3 547.1h1M54.0 546.8h1M50.9 562.7h1M52.5 556.6h1M52.2 560.5h1M40.4 559.2h1M38.8 555.8h1M65.0 551.5h1M28.3 556.4h1M34.3 549.3h1M59.3 557.2h1M38.6 554.3h1M45.6 549.4h1M35.4 547.0h1M49.6 551.1h1M31.8 549.7h1M31.8 550.4h1M43.7 556.1h1M28.3 564.1h1M35.4 550.0h1M25.6 565.7h1M46.8 559.5h1M39.0 552.9h1M45.4 557.3h1M65.2 544.6h1M41.2 551.1h1M60.8 555.3h1M58.2 540.9h1M54.4 552.7h1M53.4 545.2h1M29.9 551.0h1M47.3 558.6h1M61.4 547.3h1M43.7 543.3h1M40.2 568.5h1M52.1 553.3h1M55.5 548.7h1M55.0 558.4h1M51.1 544.3h1M27.4 557.0h1M30.1 553.5h1M47.0 550.5h1M45.7 551.8h1M49.2 550.7h1M62.0 556.0h1M43.5 553.0h1M64.1 557.1h1M31.3 560.6h1M24.0 552.1h1M60.1 546.1h1M72.3 554.7h1M50.5 563.5h1M39.7 558.4h1M68.2 556.3h1M44.6 553.5h1M39.6 555.3h1M58.5 559.5h1M43.6 557.3h1M48.8 549.4h1M43.6 557.7h1M53.6 544.2h1M44.2 550.4h1M49.1 558.0h1M55.0 552.5h1M30.8 564.1h1M40.6 550.7h1M48.1 550.1h1M44.9 550.7h1M55.6 558.3h1M44.5 554.9h1M64.3 546.2h1M46.5 564.7h1M43.5 552.9h1M33.5 551.8h1M27.3 550.0h1M46.6 552.6h1M33.3 555.2h1M49.1 549.9h1M52.8 549.7h1M48.5 558.3h1M33.9 556.6h1M29.8 550.2h1M48.9 549.6h1M50.4 563.4h1M64.2 553.1h1M48.7 551.1h1M54.4 555.8h1M32.9 550.3h1M39.4 547.0h1M34.8 556.3h1M39.9 558.1h1M25.5 558.1h1M54.7 554.1h1M46.3 548.1h1M47.4 551.7h1M77.5 555.0h1M56.2 545.7h1M35.3 546.3h1M68.3 553.4h1M50.1 547.2h1M40.9 556.8h1M72.4 554.7h1M74.4 551.1h1M39.0 558.5h1M55.8 560.1h1M63.7 554.7h1M49.9 557.6h1M63.5 553.2h1M47.1 563.3h1M34.5 547.9h1M51.1 564.6h1M43.8 560.2h1M36.5 554.5h1M38.4 561.9h1M39.1 545.6h1M65.6 546.5h1M46.7 561.5h1M47.3 561.4h1M59.7 547.2h1M33.5 556.8h1M35.5 565.9h1M40.9 559.2h1M43.1 562.8h1M48.8 549.5h1M32.9 562.5h1M59.8 552.1h1M36.5 557.0h1M30.6 557.8h1M58.2 550.1h1M38.0 553.4h1M44.8 558.1h1M37.4 565.2h1M67.2 552.5h1M43.3 547.1h1M46.4 552.9h1M55.1 550.7h1M48.6 550.0h1M49.2 558.5h1M47.5 549.1h1M49.9 553.5h1M44.5 549.6h1M31.6 544.1h1M44.8 562.3h1M49.3 556.1h1M29.2 549.1h1M42.4 553.9h1M59.3 555.2h1M52.7 552.8h1M55.1 547.2h1M36.3 555.6h1M26.0 552.1h1M48.5 552.5h1M42.5 552.3h1M52.4 550.0h1M45.7 553.5h1M43.8 554.2h1M37.7 559.7h1M36.6 558.5h1M29.5 562.8h1M31.3 548.0h1M40.7 547.8h1M74.1 559.4h1M31.1 562.8h1M73.2 552.1h1M36.4 553.1h1M61.8 550.3h1M74.4 551.0h1M44.5 543.1h1M39.1 551.9h1M35.5 545.0h1M56.2 559.0h1M57.8 546.7h1M72.1 549.9h1M38.0 561.6h1M46.3 554.0h1M32.9 552.8h1M33.0 559.9h1M37.4 552.9h1M66.5 553.7h1M53.7 554.6h1M40.7 563.3h1M55.5 548.3h1M46.0 553.6h1M47.8 562.0h1M57.4 559.0h1M46.4 548.5h1M33.1 548.6h1M35.5 557.5h1M38.1 559.7h1M53.4 556.2h1M58.3 563.4h1M33.9 551.5h1M60.9 563.4h1M43.0 553.3h1M42.6 549.8h1M47.5 557.9h1M33.6 555.9h1M41.9 551.9h1M39.8 544.2h1M43.6 551.6h1M36.7 551.1h1M41.7 550.3h1M30.6 552.0h1M38.9 557.0h1M49.3 548.2h1M42.0 550.3h1M40.4 563.2h1M52.7 547.4h1M37.2 554.2h1M39.4 554.0h1M54.9 555.0h1M53.1 550.4h1M36.7 554.4h1M60.3 550.9h1M31.1 552.6h1M49.1 558.7h1M46.6 553.5h1M36.8 553.6h1M56.3 559.1h1M50.8 556.6h1M36.5 556.2h1M52.7 551.5h1M45.5 556.9h1M48.6 557.2h1M40.6 559.8h1M44.5 548.7h1M55.6 557.3h1M42.2 542.5h1M53.0 552.9h1M48.4 558.3h1M35.4 542.4h1M61.0 559.7h1M59.5 554.4h1M45.7 550.9h1M30.9 564.0h1M36.9 552.7h1M26.8 550.6h1M39.6 554.3h1M51.7 543.8h1M58.1 548.6h1M76.3 554.1h1M28.9 555.2h1M34.1 561.6h1M40.5 555.7h1M33.9 552.9h1M55.2 547.6h1M59.5 528.9h1M55.9 524.0h1M68.8 528.9h1M59.6 536.6h1M61.0 542.9h1M65.2 528.4h1M56.1 536.3h1M62.3 537.6h1M65.2 528.2h1M59.9 537.6h1M65.3 536.4h1M63.5 531.8h1M59.3 526.0h1M59.1 534.1h1M69.2 531.6h1M55.3 536.3h1M55.2 530.9h1M62.9 540.5h1M60.2 533.8h1M57.7 530.5h1M64.4 534.1h1M61.6 533.3h1M58.0 541.2h1M61.0 531.0h1M68.9 535.0h1M65.0 541.7h1M64.5 539.6h1M71.1 525.4h1M62.6 536.1h1M53.7 534.2h1M67.2 538.3h1M59.4 540.5h1M59.6 527.4h1M65.1 540.0h1M62.3 533.5h1M58.5 529.5h1M57.7 534.0h1M66.1 536.1h1M60.1 536.1h1M64.1 534.8h1M62.3 537.8h1M54.9 527.1h1M59.7 534.6h1M66.8 536.3h1M60.3 531.3h1M62.7 535.1h1M67.0 534.9h1M62.9 533.3h1M65.1 539.7h1M58.6 534.8h1M63.9 542.1h1M60.5 532.4h1M60.1 531.8h1M59.2 534.1h1M62.7 543.3h1M56.3 534.1h1M62.7 538.1h1M57.0 531.9h1M59.6 540.4h1M64.7 537.4h1M60.6 525.6h1M54.5 532.6h1M58.9 538.1h1M59.0 535.0h1M68.8 539.8h1M63.9 524.6h1M65.4 534.0h1M56.8 532.0h1M62.0 535.5h1M59.5 532.4h1M63.1 527.2h1M57.5 530.1h1M62.6 531.1h1M58.1 538.9h1M60.7 531.9h1M58.8 538.5h1M64.3 527.8h1M60.9 541.6h1M64.9 542.2h1M59.3 541.0h1M65.6 530.1h1M63.2 533.0h1M57.4 538.3h1M65.5 520.2h1M69.3 529.8h1M61.2 545.2h1M66.9 544.0h1M58.0 537.1h1M59.3 527.1h1M59.7 537.5h1M66.5 545.1h1M60.2 531.6h1M64.8 542.1h1M60.8 538.5h1M63.0 528.7h1M54.8 534.8h1M65.5 527.2h1M60.5 540.9h1M61.7 537.7h1M64.7 540.5h1M58.7 536.3h1M59.9 529.4h1M61.8 522.8h1M73.3 532.1h1M65.7 544.7h1M61.5 546.8h1M57.3 534.5h1M66.2 539.8h1M63.3 525.9h1M61.2 540.0h1M63.4 533.6h1M59.6 529.8h1M56.6 531.6h1M61.3 534.5h1M63.6 534.1h1M56.0 536.3h1M60.6 533.1h1M63.9 539.5h1M55.2 533.0h1M63.3 530.4h1M60.9 532.1h1M53.4 532.4h1M57.3 543.2h1M65.5 530.5h1M59.8 533.1h1M61.2 529.0h1M58.6 537.0h1M59.4 530.2h1M64.2 530.3h1M60.5 538.5h1M63.0 535.9h1M61.4 528.5h1M59.1 533.1h1M56.7 536.8h1M67.3 533.3h1M66.3 534.6h1M63.5 534.2h1M65.6 534.9h1M54.9 523.9h1M62.2 535.7h1M60.9 531.8h1M55.1 537.9h1M60.5 523.9h1M58.7 534.0h1M63.6 538.2h1M69.0 534.1h1M61.1 527.4h1M54.2 535.8h1M61.7 541.3h1M56.6 536.1h1M60.2 543.8h1M56.6 536.5h1M65.7 539.1h1M62.6 534.2h1M63.5 527.4h1M72.9 534.6h1M63.8 535.9h1M58.6 538.1h1M62.5 542.3h1M65.7 533.8h1M58.7 536.6h1M56.3 536.4h1M51.3 541.9h1M69.1 531.1h1M65.1 533.8h1M59.6 531.0h1M61.0 531.3h1M66.4 531.9h1M62.7 537.9h1M56.8 537.6h1M61.2 530.7h1M60.1 537.3h1M58.1 536.6h1M58.7 536.1h1M63.4 531.7h1M60.4 541.3h1M63.3 524.4h1M59.3 532.7h1M60.7 534.7h1M68.2 535.7h1M60.6 536.1h1M61.5 537.2h1M60.6 530.5h1M69.6 527.5h1M66.6 538.7h1M56.1 531.0h1M60.6 536.2h1M61.4 534.3h1M62.8 520.7h1M58.7 532.4h1M60.7 535.5h1M56.4 533.4h1M63.9 538.0h1M57.3 531.1h1M67.1 534.5h1M61.9 535.1h1M57.2 531.4h1M60.8 532.7h1M62.0 540.5h1M58.0 530.0h1M64.8 527.9h1M62.4 536.6h1M64.2 541.2h1M54.2 537.4h1M61.1 527.2h1M57.1 532.6h1M58.4 535.8h1M60.3 528.3h1M54.9 523.7h1M59.1 530.4h1M63.7 531.4h1M52.2 528.9h1M60.7 534.4h1M58.8 541.6h1M58.5 535.4h1M62.5 527.0h1M60.3 531.4h1M58.9 535.2h1M56.7 515.4h1M60.0 529.9h1M62.1 538.6h1M59.1 530.7h1M66.3 531.6h1M71.0 528.5h1M51.6 536.4h1M54.7 537.0h1M62.9 536.8h1M65.4 535.9h1M73.6 531.9h1M63.0 530.4h1M58.9 533.5h1M57.8 529.3h1M62.0 538.7h1M63.1 532.3h1M61.7 533.4h1M59.8 536.6h1M61.7 537.9h1M58.8 529.6h1M58.0 532.3h1M53.9 532.0h1M63.7 533.2h1M63.0 530.0h1M58.0 534.9h1M64.9 529.1h1M66.1 534.2h1M59.4 531.1h1M71.5 533.8h1M61.0 534.4h1M66.0 529.3h1M64.0 533.0h1M60.3 525.5h1M62.9 536.8h1M54.4 531.8h1M62.2 530.8h1M51.4 540.9h1M59.9 527.4h1M53.0 535.9h1M56.7 533.5h1M59.2 537.9h1M61.7 535.3h1M63.9 530.6h1M66.3 540.4h1M67.1 527.1h1M67.2 538.9h1M55.0 534.4h1M64.7 544.3h1M58.8 533.1h1M59.3 534.2h1M62.8 537.3h1M57.7 538.1h1M56.8 538.9h1M62.9 527.7h1M60.5 537.4h1M57.1 537.0h1M61.2 533.9h1M59.9 533.6h1M56.5 545.7h1M63.1 531.8h1M63.4 525.7h1M59.9 533.9h1M63.6 540.6h1M62.3 537.4h1M56.8 536.7h1M69.0 540.4h1M62.4 530.7h1M64.2 533.3h1M57.9 536.1h1M64.9 531.2h1M66.2 543.8h1M60.2 540.7h1M59.0 545.0h1M59.3 535.6h1M62.5 535.2h1M56.7 530.0h1M63.4 542.3h1M61.1 532.0h1M65.7 534.9h1M60.0 538.1h1M58.6 531.2h1M59.4 535.0h1M60.6 529.7h1M58.0 530.6h1M66.2 535.7h1M57.8 525.5h1M72.1 533.1h1M63.3 542.5h1M65.1 530.9h1M58.8 526.3h1M57.9 535.3h1M57.3 540.1h1M58.3 540.1h1M61.5 537.2h1M59.5 545.0h1M63.7 528.4h1M53.7 530.7h1M65.9 527.6h1M55.4 530.2h1M57.6 531.7h1M52.7 533.6h1M62.3 534.2h1M93.8 558.7h1M69.6 545.6h1M67.3 527.7h1M70.7 513.9h1M77.2 553.4h1M81.1 546.0h1M79.5 556.8h1M91.9 541.4h1M79.6 538.8h1M84.1 536.0h1M82.1 538.5h1M73.8 538.2h1M87.7 531.5h1M80.4 545.8h1M65.0 564.0h1M75.1 539.0h1M70.1 527.4h1M70.9 552.3h1M77.0 530.5h1M76.6 545.4h1M89.8 529.4h1M73.7 548.3h1M68.6 539.9h1M83.1 553.1h1M59.6 532.6h1M77.4 543.1h1M68.6 571.3h1M73.1 542.3h1M78.1 548.1h1M74.7 527.6h1M78.8 556.0h1M68.9 539.3h1M77.1 538.8h1M79.8 528.1h1M79.4 527.7h1M71.6 553.2h1M68.0 521.1h1M78.7 553.9h1M82.9 542.4h1M76.9 557.0h1M84.7 539.6h1M72.4 540.0h1M72.1 539.5h1M79.2 547.9h1M77.2 526.9h1M74.6 564.5h1M85.5 538.6h1M72.3 554.2h1M73.1 537.9h1M83.5 535.4h1M73.8 552.3h1M92.9 521.1h1M76.6 552.6h1M86.9 547.2h1M86.6 536.5h1M75.4 548.6h1M73.5 541.5h1M68.7 535.0h1M80.9 540.8h1M80.7 517.2h1M78.5 522.7h1M89.2 532.1h1M82.8 541.0h1M78.5 556.1h1M77.1 546.0h1M79.4 533.2h1M88.2 524.5h1M85.5 548.7h1M99.7 545.5h1M84.1 546.7h1M79.7 553.4h1M74.7 536.6h1M70.9 523.9h1M69.1 540.8h1M77.4 534.6h1M86.5 543.4h1M75.5 552.7h1M79.5 545.9h1M72.6 523.2h1M78.5 536.7h1M69.9 532.5h1M85.6 545.1h1M91.6 560.4h1M74.8 535.2h1M84.9 549.3h1M73.1 534.0h1M80.7 547.9h1M85.0 537.8h1M86.1 522.4h1M72.2 542.8h1M68.4 539.0h1M72.9 545.4h1M77.2 546.6h1M74.3 546.0h1M74.7 534.1h1M80.4 539.8h1M85.2 543.2h1M73.5 555.2h1M101.5 555.8h1M58.7 537.4h1M84.6 547.5h1M87.2 563.8h1M68.5 555.7h1M64.6 523.7h1M74.4 540.3h1M87.0 525.0h1M79.6 521.1h1M81.8 547.6h1M77.8 539.0h1M81.1 528.9h1M80.9 539.0h1M87.9 543.0h1M77.7 534.5h1M72.2 534.4h1M67.2 543.4h1M75.9 550.9h1M67.2 534.1h1M84.7 571.9h1M56.1 537.5h1M75.5 525.8h1M76.4 541.0h1M85.5 555.5h1M91.1 530.6h1M72.0 531.5h1M70.6 535.4h1M72.7 552.9h1M72.1 549.8h1M81.5 574.0h1M72.9 542.2h1M84.5 550.1h1M70.5 544.1h1M93.0 554.5h1M73.4 540.6h1M82.6 531.7h1M78.5 541.7h1M80.8 538.5h1M92.8 527.3h1M82.0 538.1h1M80.4 520.7h1M80.7 547.0h1M61.7 532.3h1M65.4 535.9h1M79.1 556.7h1M80.0 552.2h1M78.6 543.0h1M92.1 539.5h1M70.4 569.6h1M77.1 562.5h1M69.1 526.9h1M76.3 552.9h1M80.7 533.9h1M70.3 522.7h1M79.5 525.0h1M80.8 533.5h1M84.8 517.8h1M69.1 550.4h1M78.7 542.8h1M94.0 550.7h1M72.4 547.8h1M72.9 558.4h1M69.0 536.3h1M84.6 544.8h1M74.6 545.5h1M83.6 528.8h1M75.8 539.6h1M74.3 547.3h1M75.2 540.3h1M81.7 549.0h1M75.7 524.9h1M92.2 513.0h1M69.2 550.2h1M76.4 549.8h1M82.2 544.6h1M82.1 521.3h1M65.9 527.2h1M79.8 540.6h1M64.4 555.0h1M79.9 540.8h1M60.1 532.7h1M86.7 526.3h1M71.1 525.9h1M68.4 538.7h1M67.0 518.4h1M88.1 533.4h1M78.1 548.3h1M82.8 528.6h1M74.1 539.4h1M69.4 541.0h1M79.2 553.7h1M76.3 542.9h1M69.7 547.1h1M81.0 545.0h1M86.6 519.1h1M70.9 530.3h1M79.4 543.3h1M80.3 548.0h1M83.8 548.1h1M82.3 537.1h1M84.6 528.8h1M80.7 533.9h1M75.9 540.6h1M77.7 548.8h1M82.8 558.1h1M84.0 533.7h1M70.0 556.7h1M72.2 555.4h1M80.9 544.7h1M91.1 582.1h1M82.5 553.2h1M67.3 548.5h1M79.7 549.8h1M80.0 540.1h1M85.6 534.9h1M72.0 550.5h1M85.6 552.4h1M71.9 521.8h1M72.3 525.3h1M83.9 539.2h1M85.7 529.4h1M85.5 516.6h1M89.7 519.9h1M75.8 526.2h1M66.8 542.8h1M83.5 546.8h1M78.5 543.8h1M77.8 540.2h1M81.7 546.8h1M77.2 555.3h1M76.1 540.4h1M72.6 546.7h1M79.0 531.4h1M67.1 531.6h1M66.3 544.0h1M87.7 529.1h1M74.4 536.6h1M79.7 522.9h1M77.0 525.3h1M75.4 539.7h1M85.7 539.7h1M76.7 551.7h1M71.8 546.3h1M59.9 538.0h1M78.6 546.4h1M87.3 552.2h1M75.1 550.1h1M76.1 533.2h1M83.4 560.5h1M86.1 536.6h1M79.8 551.8h1M79.8 517.9h1M72.5 520.8h1M78.5 540.5h1M66.3 525.3h1M80.1 534.2h1M90.3 523.1h1M85.9 548.6h1M73.1 543.9h1M77.0 551.6h1M80.8 532.3h1M86.8 554.6h1M68.9 539.7h1M77.4 529.6h1M99.1 540.9h1M82.2 548.9h1M90.3 528.3h1M81.8 551.8h1M77.7 522.1h1M74.7 537.4h1M71.3 562.3h1M66.4 553.3h1M80.5 541.9h1M85.3 523.9h1M74.4 556.3h1M83.1 535.7h1M86.9 546.7h1M78.7 527.8h1M65.2 544.9h1M79.9 528.4h1M61.9 527.2h1M92.2 523.0h1M77.8 537.9h1M76.2 527.4h1M77.2 552.3h1M58.8 544.4h1M84.2 540.1h1M60.1 530.4h1M85.1 539.8h1M77.5 530.0h1M70.9 560.4h1M71.3 512.2h1M78.3 566.3h1M83.8 525.5h1M78.7 562.7h1M77.5 557.6h1M81.6 539.3h1M75.4 542.4h1M84.2 546.0h1M64.3 545.7h1M83.2 544.3h1M87.5 538.1h1M86.9 543.0h1M71.1 531.0h1M88.8 529.7h1M83.4 544.1h1M92.4 522.6h1M82.4 528.2h1M76.3 541.8h1M81.4 517.9h1M76.9 545.6h1M69.8 532.4h1M75.3 563.6h1M90.7 554.2h1M67.4 541.0h1M67.0 542.0h1M73.2 566.3h1M78.9 539.4h1M72.6 542.9h1M76.4 540.0h1M89.6 536.8h1M72.7 536.0h1M68.6 544.9h1M74.2 542.9h1M91.3 551.9h1M79.0 546.4h1M85.2 538.6h1M79.4 541.8h1M72.2 547.5h1M71.2 529.6h1M80.9 537.1h1M77.3 544.6h1M79.7 546.9h1M89.6 558.6h1M68.2 535.2h1M67.9 541.6h1M71.9 527.5h1M96.3 537.0h1M65.6 540.7h1M66.4 522.5h1M87.3 540.7h1M87.4 541.2h1M73.4 548.5h1M82.8 561.7h1M80.3 547.2h1M71.9 543.5h1M74.6 531.2h1M81.3 529.0h1M86.1 552.0h1M69.0 548.0h1M77.3 543.0h1M81.6 540.1h1M86.8 541.6h1M88.1 562.0h1M73.5 554.5h1M61.8 548.3h1M82.5 539.6h1M89.1 532.7h1M72.0 549.9h1M69.8 551.2h1M52.0 521.8h1M82.6 528.5h1M75.6 548.3h1M75.6 538.7h1M80.7 549.5h1M85.0 540.4h1M87.8 546.6h1M81.1 550.2h1M78.9 548.6h1M76.7 530.6h1M76.2 534.1h1M77.8 534.1h1M88.1 522.3h1M85.9 548.4h1M88.0 536.8h1M81.0 546.6h1M72.0 538.9h1M65.1 553.1h1M83.1 524.9h1M81.2 536.7h1M81.8 529.1h1M77.3 545.7h1M84.2 533.8h1M70.7 532.7h1M79.2 527.2h1M89.7 534.9h1M76.4 548.2h1M84.9 534.4h1M79.6 539.6h1M78.2 556.9h1M68.2 543.3h1M71.6 532.7h1M78.0 564.9h1M78.2 523.4h1M81.4 541.0h1M76.2 531.7h1M82.2 522.6h1M81.8 518.5h1M70.6 524.1h1M87.6 567.1h1M84.1 559.9h1M86.4 559.7h1M73.5 568.5h1M84.2 566.2h1M79.8 572.9h1M83.5 573.6h1M80.9 571.1h1M79.5 566.3h1M71.4 558.5h1M77.2 567.2h1M76.9 573.9h1M77.0 575.6h1M83.0 568.7h1M80.2 570.4h1M77.2 570.2h1M75.7 566.7h1M74.6 571.0h1M83.0 561.5h1M81.0 567.8h1M76.8 569.1h1M79.7 568.0h1M73.6 565.8h1M77.7 570.3h1M78.4 568.8h1M76.9 565.8h1M75.1 579.5h1M86.9 579.9h1M76.8 583.7h1M84.9 572.4h1M82.9 576.8h1M74.8 570.9h1M79.3 570.3h1M78.7 564.9h1M84.9 570.1h1M81.7 573.9h1M75.3 564.6h1M83.4 568.2h1M73.4 572.8h1M79.3 573.5h1M79.3 574.2h1M77.7 575.4h1M81.1 571.5h1M79.1 569.4h1M76.8 568.1h1M82.6 563.5h1M77.7 568.5h1M80.7 577.8h1M76.2 574.7h1M73.9 566.9h1M77.8 569.4h1M72.5 567.8h1M82.2 574.1h1M79.5 570.3h1M78.2 568.2h1M82.1 565.4h1M72.4 565.9h1M85.2 563.5h1M81.4 556.2h1M80.7 566.1h1M74.2 570.9h1M82.6 566.1h1M78.7 559.4h1M79.6 564.0h1M84.4 569.8h1M74.6 568.3h1M77.0 566.8h1M79.9 572.0h1M83.7 571.6h1M79.7 571.9h1M78.6 572.8h1M75.6 571.3h1M84.3 572.2h1M82.4 574.2h1M77.3 567.4h1M76.4 572.5h1M77.5 573.7h1M77.6 570.5h1M76.6 565.0h1M83.6 565.8h1M75.9 566.8h1M74.2 561.7h1M86.9 559.0h1M78.6 570.6h1M78.2 573.8h1M75.5 569.0h1M80.1 573.6h1M75.3 569.4h1M84.5 576.6h1M81.4 567.8h1M77.9 574.5h1M73.1 562.8h1M79.7 567.3h1M83.0 574.0h1M82.4 566.9h1M71.8 561.2h1M79.2 570.6h1M85.9 573.4h1M78.9 567.6h1M80.4 561.1h1M77.3 573.0h1M78.4 563.7h1M82.3 575.1h1M70.5 562.8h1M73.9 566.8h1M75.9 568.2h1M73.2 578.2h1M73.1 563.5h1M79.6 572.2h1M81.5 566.6h1M80.7 571.6h1M80.5 576.7h1M82.7 562.0h1M82.9 571.1h1M82.5 567.4h1M80.3 563.9h1M78.8 561.9h1M73.6 569.4h1M76.1 564.0h1M78.4 564.0h1M74.4 576.3h1M83.8 574.7h1M82.3 564.4h1M82.1 571.9h1M82.7 567.6h1M78.2 570.5h1M78.6 562.5h1M86.0 575.1h1M77.8 572.3h1M82.1 566.6h1M31.7 578.8h1M59.4 578.5h1M30.6 592.0h1M47.7 559.0h1M70.8 577.8h1M67.7 591.4h1M62.4 577.5h1M39.8 576.6h1M62.4 585.7h1M70.0 577.1h1M52.2 575.3h1M65.7 562.8h1M59.4 572.0h1M60.1 570.6h1M55.9 581.7h1M53.3 575.1h1M66.2 564.9h1M52.9 563.3h1M38.7 571.0h1M54.2 576.6h1M47.5 574.2h1M38.9 576.1h1M62.5 570.6h1M96.4 558.9h1M51.1 573.4h1M45.1 580.1h1M71.6 578.1h1M47.1 575.4h1M67.1 579.2h1M65.2 571.8h1M40.8 557.5h1M42.9 577.2h1M50.7 573.2h1M55.6 566.7h1M85.8 577.2h1M42.8 569.2h1M60.9 567.7h1M89.5 563.6h1M65.5 567.9h1M58.8 553.2h1M34.0 567.6h1M63.9 561.8h1M46.3 574.7h1M48.5 583.1h1M32.6 580.8h1M61.6 581.2h1M24.5 581.4h1M48.7 566.1h1M43.2 570.2h1M55.3 574.5h1M36.1 568.6h1M37.3 587.1h1M59.4 575.4h1M27.4 569.4h1M44.2 570.9h1M81.5 570.0h1M54.4 564.5h1M41.4 572.2h1M50.4 585.8h1M41.2 571.3h1M85.3 570.4h1M79.3 571.9h1M56.0 569.6h1M63.7 562.6h1M43.1 576.0h1M41.1 580.8h1M109.4 581.3h1M51.6 574.1h1M55.1 558.2h1M78.5 572.5h1M24.4 575.9h1M44.6 579.7h1M48.0 580.0h1M80.0 572.9h1M55.2 569.7h1M86.2 558.3h1M44.4 580.2h1M45.5 581.7h1" stroke="#333" stroke-width="1" fill="none" opacity="0.45"/>
</g>
<path d="M67 524 Q76 521.5 85 523 Q89 527 89 533 Q89.5 545 88 553 Q86 560 80.5 560.5 Q75 559.5 73.5 554 Q71.5 547 70.5 541 L67.5 541 Q64 540 62 538 Q61 532 62 528 Q64 525 67 524 Z" fill="#484848" filter="url(#bl1)" opacity="1"/>
<rect x="22.90" y="510.60" width="92.10" height="83.20" fill="none" stroke="#999" stroke-width="1"/>
<rect x="24.20" y="520.40" width="43.30" height="25.40" fill="none" stroke="#222" stroke-width="1"/>
<rect x="24.20" y="545.80" width="43.30" height="16.90" fill="none" stroke="#222" stroke-width="1"/>
<rect x="67.50" y="519.40" width="27.10" height="21.80" fill="none" stroke="#222" stroke-width="1"/>
<rect x="67.50" y="541.20" width="25.20" height="21.50" fill="none" stroke="#222" stroke-width="1"/>
<rect x="67.50" y="562.70" width="24.00" height="26.90" fill="none" stroke="#222" stroke-width="1"/>
<g filter="url(#bl05)">
<path d="M141.8 529.9h1M132.3 532.6h1M169.2 530.9h1M143.4 534.1h1M144.7 537.1h1M156.1 520.3h1M145.3 529.2h1M159.4 525.6h1M150.7 530.8h1M148.1 527.5h1M159.4 540.7h1M158.3 532.5h1M146.6 531.8h1M136.8 545.0h1M149.0 529.4h1M165.2 527.5h1M145.8 534.0h1M140.2 539.3h1M160.4 532.6h1M145.2 524.2h1M148.0 532.2h1M149.4 531.3h1M167.0 531.7h1M153.1 537.7h1M154.0 542.4h1M161.2 527.3h1M162.9 537.9h1M153.8 536.1h1M159.6 536.4h1M157.6 532.3h1M135.9 530.3h1M158.5 531.2h1M180.0 528.0h1M177.4 531.0h1M168.1 540.7h1M160.6 534.2h1M163.7 542.1h1M151.7 527.3h1M145.9 537.0h1M150.2 530.6h1M146.9 531.8h1M150.7 531.9h1M157.7 539.3h1M137.3 534.4h1M148.6 538.2h1M153.4 528.8h1M135.8 528.5h1M147.4 527.4h1M159.7 533.3h1M159.9 540.3h1M178.6 528.1h1M147.4 536.4h1M151.7 524.6h1M153.9 536.2h1M158.7 535.1h1M150.0 527.8h1M145.4 538.8h1M163.4 530.0h1M152.5 541.1h1M147.9 530.3h1M141.5 532.0h1M151.2 539.7h1M144.4 533.6h1M150.8 531.2h1M174.1 535.6h1M143.5 537.0h1M137.7 531.4h1M157.8 536.7h1M152.1 525.8h1M167.2 530.2h1M137.3 535.9h1M145.4 536.3h1M144.1 534.5h1M146.9 531.3h1M144.5 530.8h1M160.6 530.0h1M141.1 527.0h1M139.7 531.5h1M168.6 534.4h1M162.0 533.3h1M153.5 524.7h1M163.0 528.2h1M146.5 536.1h1M144.4 535.2h1M155.5 534.3h1M187.9 530.7h1M137.3 531.6h1M167.2 525.0h1M147.4 528.0h1M140.4 530.9h1M136.6 532.5h1M149.3 532.1h1M156.0 535.8h1M153.9 524.8h1M158.2 533.7h1M164.1 543.1h1M141.8 535.2h1M133.0 534.9h1M154.7 536.4h1M154.0 533.2h1M149.9 529.8h1M148.7 529.3h1M137.3 522.4h1M160.2 537.4h1M139.1 529.5h1M136.1 537.0h1M181.1 533.7h1M149.2 536.5h1M145.6 540.6h1M162.7 538.2h1M153.1 540.8h1M148.6 536.1h1M149.8 529.0h1M143.6 525.9h1M137.7 529.4h1M141.6 537.7h1M186.4 535.0h1M160.1 537.4h1M180.0 537.5h1M162.4 533.8h1M152.3 542.6h1M146.6 533.9h1M170.9 531.4h1M144.6 529.5h1M157.5 533.1h1M157.4 537.1h1M138.7 530.4h1M160.8 535.4h1M141.2 537.4h1M162.5 538.2h1M136.0 530.5h1M167.1 527.4h1M165.5 525.4h1M158.4 535.7h1M157.8 534.9h1M165.0 529.0h1M132.1 537.7h1M144.1 529.2h1M152.6 527.4h1M148.4 531.9h1M143.5 535.0h1M163.7 520.0h1M131.9 537.3h1M141.8 526.4h1M144.4 532.7h1M164.2 535.4h1M144.8 531.4h1M133.5 536.5h1M172.9 540.7h1M137.0 529.6h1M138.5 539.5h1M143.9 542.3h1M144.1 538.8h1M154.9 533.0h1M163.7 529.9h1M158.8 534.4h1M166.7 533.1h1M152.8 530.7h1M155.3 538.6h1M140.9 529.4h1M165.2 542.9h1M164.7 538.5h1M134.0 525.2h1M157.9 525.8h1M143.3 535.3h1M134.8 532.3h1M171.2 533.9h1M137.4 531.1h1M156.8 534.3h1M163.9 537.1h1M134.1 522.8h1M155.2 533.9h1M161.6 527.6h1M152.0 532.6h1M138.8 537.9h1M147.1 539.9h1M165.7 537.9h1M165.7 527.5h1M136.3 534.2h1M149.3 538.2h1M144.5 534.8h1M156.4 530.2h1M159.4 539.4h1M149.0 532.2h1M159.7 531.3h1M163.3 521.6h1M161.9 534.8h1M148.5 526.8h1M138.4 534.3h1M132.4 543.4h1M135.2 534.5h1M139.2 534.2h1M158.0 535.4h1M157.6 541.3h1M143.6 523.9h1M143.9 529.6h1M143.8 526.9h1M148.1 531.8h1M151.5 543.3h1M138.9 527.8h1M149.4 530.3h1M151.6 530.9h1M155.4 525.4h1M152.3 536.4h1M147.5 529.8h1M157.7 532.7h1M144.8 530.7h1M159.0 528.4h1M145.5 533.6h1M165.8 535.2h1M139.2 527.3h1M150.5 527.3h1M151.8 535.6h1M140.1 527.8h1M143.7 535.9h1M152.5 537.4h1M162.8 532.0h1M156.8 531.9h1M158.8 535.4h1M170.4 532.5h1M162.3 524.0h1M146.9 534.5h1M157.4 530.0h1M141.5 536.3h1M197.0 526.3h1M142.9 535.4h1M157.6 535.3h1M142.5 537.0h1M138.5 543.5h1M168.1 535.4h1M146.0 530.9h1M167.5 526.5h1M163.2 536.0h1M155.2 536.8h1M156.9 533.9h1M144.4 523.1h1M148.1 537.1h1M137.7 524.8h1M155.4 532.6h1M175.6 529.4h1M159.1 529.5h1M141.6 537.9h1M157.2 536.1h1M151.8 528.1h1M167.4 532.1h1M138.9 537.2h1M158.1 532.2h1M158.0 527.8h1M135.4 538.8h1M153.2 532.5h1M149.5 524.9h1M134.8 524.4h1M156.0 536.9h1M157.3 516.8h1M152.0 530.1h1M155.3 523.0h1M140.1 536.5h1M140.6 528.6h1M165.8 538.2h1M160.4 536.7h1M149.4 533.9h1M144.3 533.7h1M151.2 536.5h1M148.2 530.3h1M158.0 528.7h1M134.7 531.5h1M153.8 528.9h1M158.1 537.7h1M138.9 536.7h1M142.9 529.5h1M144.0 533.4h1M152.1 526.0h1M153.6 525.7h1M151.2 533.3h1M152.7 530.8h1M156.2 535.8h1M144.8 522.9h1M153.8 535.6h1M151.9 535.2h1M153.3 547.7h1M141.5 533.6h1M152.4 531.6h1M163.7 533.2h1M155.3 534.3h1M147.8 536.1h1M157.4 526.7h1M160.7 536.3h1M171.1 536.2h1M164.5 539.9h1M157.9 532.0h1M166.7 536.7h1M152.6 524.7h1M162.6 529.4h1M149.0 539.3h1M143.9 538.9h1M150.9 533.2h1M139.6 527.0h1M165.9 528.2h1M158.9 529.5h1M146.1 530.4h1M151.2 526.4h1M148.0 531.8h1M143.8 523.2h1M134.0 541.9h1M153.8 535.7h1M158.0 535.6h1M153.8 532.9h1M153.4 534.6h1M159.7 533.5h1M153.5 529.0h1M136.3 535.0h1M162.8 531.2h1M166.5 524.7h1M143.8 533.0h1M153.8 528.7h1M143.7 538.5h1M148.9 539.6h1M147.1 530.2h1M148.7 538.1h1M139.4 535.1h1M149.4 536.2h1M162.2 535.9h1M156.6 536.5h1M146.8 537.4h1M161.4 537.7h1M145.5 541.0h1M149.2 539.7h1M147.9 530.0h1M150.2 536.7h1M155.9 523.0h1M160.7 535.6h1M152.3 538.0h1M150.8 531.7h1M143.1 527.7h1M163.8 530.7h1M159.2 536.8h1M157.5 526.5h1M138.3 539.4h1M164.5 537.0h1M172.7 533.0h1M141.6 530.6h1M154.4 539.0h1M152.2 528.1h1M138.2 528.8h1M148.5 536.6h1M156.5 531.8h1M140.6 535.6h1M149.9 528.9h1M145.9 528.0h1M153.4 537.4h1M153.3 537.9h1M156.7 529.1h1M166.7 533.0h1M152.2 537.2h1M139.5 534.1h1M153.4 528.3h1M159.8 530.6h1M166.0 532.3h1M164.7 536.5h1M154.5 531.0h1M154.0 535.2h1M135.6 531.5h1M131.7 529.5h1M154.1 537.1h1M144.4 537.1h1M131.9 540.1h1M163.4 530.2h1M149.2 524.6h1M139.6 539.4h1M143.6 532.8h1M166.6 527.3h1M137.7 527.7h1M158.3 538.1h1M160.5 533.1h1M152.0 537.3h1M169.7 542.5h1M157.2 528.9h1M134.4 530.3h1M158.3 533.7h1M174.1 529.6h1M162.6 541.9h1M162.5 528.4h1M154.8 533.1h1M135.9 521.2h1M154.4 532.4h1M153.2 533.3h1M139.0 528.3h1M133.8 523.9h1M154.8 529.4h1M147.0 528.1h1M161.2 533.0h1M137.1 532.7h1M158.4 532.8h1M166.5 530.7h1M152.8 537.9h1M154.9 537.3h1M144.5 529.7h1M139.1 532.4h1M154.1 534.1h1M151.8 523.3h1M156.3 539.4h1M160.6 527.7h1M159.6 531.9h1M162.8 527.8h1M156.7 529.9h1M162.4 530.7h1M168.0 537.2h1M162.6 529.3h1M159.2 546.8h1M136.6 521.5h1M165.2 532.9h1M151.9 533.5h1M154.2 530.4h1M149.0 525.4h1M160.6 545.0h1M142.6 534.6h1M137.0 538.6h1M172.7 537.4h1M156.7 536.9h1M135.0 528.1h1M142.8 535.2h1M157.5 534.3h1M152.3 529.9h1M157.3 534.3h1M150.2 536.5h1M142.3 526.8h1M162.9 536.5h1M141.1 536.1h1M131.7 537.0h1M164.6 537.1h1M149.0 535.8h1M172.2 530.3h1M149.8 534.9h1M174.9 533.2h1M153.7 533.9h1M149.2 535.5h1M148.0 537.6h1M154.2 532.2h1M151.3 537.5h1M164.2 528.3h1M145.9 526.8h1M156.2 534.3h1M161.9 532.1h1M139.7 532.9h1M140.1 541.8h1M172.8 535.8h1M165.1 525.8h1M149.7 537.3h1M136.9 527.7h1M151.8 534.7h1M156.8 532.7h1M162.4 532.8h1M148.8 529.0h1M169.1 536.2h1M151.1 540.7h1M150.9 534.9h1M139.7 535.1h1M152.2 535.4h1M150.2 530.5h1M160.3 534.7h1M147.4 533.8h1M143.7 527.2h1M170.7 532.6h1M135.5 526.8h1M142.6 524.9h1M136.9 537.7h1M174.4 531.7h1M148.1 530.6h1M165.2 532.7h1M170.9 531.6h1M153.7 529.5h1M150.0 533.6h1M181.0 538.1h1M160.8 528.5h1M137.3 528.1h1M150.7 536.9h1M148.3 526.4h1M145.6 535.2h1M150.7 536.0h1M152.0 533.0h1M152.7 532.2h1M150.5 540.5h1M160.6 541.6h1M135.2 540.3h1M143.5 534.3h1M163.4 534.8h1M135.9 526.4h1M158.2 534.1h1M157.7 541.5h1M163.5 546.2h1M148.4 528.9h1M155.2 535.1h1M150.4 535.0h1M137.2 541.6h1M150.2 534.2h1M136.9 534.5h1M134.0 527.9h1M156.0 529.3h1M139.3 539.2h1M138.1 532.5h1M153.4 535.4h1M156.9 529.5h1M141.5 536.7h1M144.6 525.0h1M139.2 525.5h1M155.9 541.5h1M139.3 533.8h1M141.5 527.6h1M155.5 537.9h1M171.6 528.3h1M158.2 527.9h1M162.7 533.4h1M158.4 527.5h1M137.9 534.7h1M132.6 534.3h1M161.7 526.3h1M139.7 544.6h1M157.0 536.3h1M158.0 531.1h1M144.6 529.6h1M158.5 533.7h1M159.0 534.6h1M148.4 531.4h1M135.3 533.7h1M159.3 541.9h1M153.1 529.4h1M141.9 539.7h1M141.2 523.9h1M158.3 534.7h1M138.2 529.2h1M159.1 528.4h1M148.9 538.4h1M148.5 535.5h1M175.6 540.7h1M154.5 531.1h1M153.4 542.7h1M166.0 537.0h1M143.9 530.4h1M150.2 536.8h1M147.7 532.3h1M140.2 537.5h1M152.6 526.0h1M139.6 523.9h1M159.3 523.7h1M135.0 533.0h1M159.5 538.6h1M151.3 531.4h1M156.4 536.0h1M145.1 534.0h1M168.2 529.2h1M145.0 530.1h1M134.2 532.9h1M143.5 525.2h1M171.9 534.8h1M163.0 526.2h1M147.0 527.1h1M134.4 530.1h1M140.4 527.1h1M158.9 532.6h1M152.6 528.6h1M166.9 530.7h1M147.7 530.9h1M148.2 533.5h1M154.8 536.1h1M157.3 533.7h1M166.0 536.0h1M166.1 529.3h1M166.6 530.4h1M167.0 529.0h1M153.1 531.6h1M160.8 527.6h1M162.8 521.5h1M169.5 533.1h1M146.4 543.7h1M159.0 537.8h1M160.4 531.5h1M146.5 526.4h1M160.7 538.6h1M158.8 526.0h1M163.1 537.3h1M158.7 537.0h1M155.4 529.8h1M176.3 534.9h1M167.6 525.0h1M169.2 532.4h1M163.0 536.4h1M154.7 535.8h1M174.7 536.1h1M165.5 527.5h1M159.5 526.2h1M175.6 529.4h1M171.5 528.8h1M156.4 533.5h1M159.9 532.8h1M174.4 527.3h1M168.9 523.3h1M161.1 528.3h1M164.4 536.5h1M163.7 529.4h1M160.1 536.4h1M159.3 535.2h1M174.4 532.0h1M168.7 531.8h1M165.8 527.3h1M177.6 530.6h1M159.0 536.9h1M164.9 531.5h1M159.7 543.8h1M160.9 521.4h1M176.7 544.7h1M156.7 534.6h1M164.8 536.0h1M170.4 535.6h1M177.1 527.8h1M168.1 539.8h1M155.0 529.5h1M164.3 536.1h1M174.1 524.3h1M152.7 536.3h1M150.9 535.8h1M164.6 537.6h1M166.3 541.7h1M169.7 537.6h1M160.2 534.5h1M169.7 535.3h1M165.4 529.4h1M157.3 535.8h1M175.0 534.7h1M164.6 529.2h1M158.4 536.7h1M171.5 526.8h1M156.8 539.1h1M160.7 529.3h1M166.6 525.4h1M177.0 535.0h1M165.5 535.2h1M161.3 523.3h1M151.2 536.4h1M156.3 531.2h1M157.5 532.1h1M151.4 543.1h1M163.0 535.6h1M169.9 542.5h1M163.2 531.7h1M162.0 522.7h1M173.0 526.0h1M149.5 529.5h1M167.5 529.6h1M176.9 532.0h1M165.4 533.0h1M167.7 531.7h1M175.2 536.7h1M176.1 531.8h1M162.0 534.0h1M168.9 538.2h1M161.8 522.3h1M164.7 534.6h1M172.1 535.8h1M155.8 531.4h1M166.0 516.6h1M160.6 533.0h1M160.0 527.8h1M184.8 527.4h1M161.4 527.7h1M171.6 539.6h1M178.8 532.5h1M156.7 531.5h1M163.2 543.1h1M161.9 538.0h1M159.4 530.1h1M157.3 531.4h1M171.1 531.5h1M169.1 535.0h1M148.4 535.0h1M161.1 543.7h1M170.2 538.7h1M165.2 525.1h1M170.6 527.5h1M170.6 522.5h1M175.0 527.1h1M162.9 529.7h1M161.4 531.9h1M154.2 526.7h1M171.4 532.7h1M167.2 521.4h1M152.9 528.8h1M155.6 534.9h1M168.8 529.1h1M171.8 534.0h1M164.9 526.7h1M157.1 533.0h1M166.4 532.6h1M159.7 530.6h1M152.8 531.9h1M164.0 529.0h1M161.4 532.1h1M164.4 536.6h1M170.2 525.7h1M156.1 520.7h1M164.4 537.6h1M173.1 537.9h1M170.8 525.9h1M162.9 534.7h1M150.7 524.7h1M165.3 529.4h1M156.1 523.5h1M177.1 525.7h1M172.1 533.4h1M177.2 531.0h1M163.9 535.4h1M153.5 542.1h1M162.3 525.3h1M161.4 527.6h1M158.7 538.3h1M169.3 534.3h1M168.4 534.4h1M161.2 543.0h1M162.2 530.1h1M162.1 540.8h1M173.3 525.0h1M168.8 539.3h1M172.6 528.3h1M162.5 530.1h1M160.4 530.7h1M173.2 530.0h1M161.0 535.2h1M162.8 526.6h1M170.8 535.4h1M151.9 526.6h1M165.8 530.7h1M160.5 523.8h1M164.3 537.1h1M154.6 533.3h1M151.6 532.6h1M163.5 533.8h1M157.5 533.7h1M166.6 528.2h1M161.2 541.1h1M165.1 532.7h1M181.7 525.9h1M163.2 526.4h1M157.7 534.3h1M159.2 538.0h1M164.1 520.5h1M169.1 539.1h1M171.9 524.0h1M168.6 532.0h1M169.8 535.0h1M158.8 525.4h1M149.6 529.6h1M158.4 524.9h1M167.1 531.1h1M156.8 527.7h1M155.7 532.4h1M163.4 534.4h1M167.2 533.0h1M165.4 533.1h1M161.9 524.4h1M161.3 528.3h1M163.9 531.0h1M157.2 536.9h1M164.9 527.7h1M172.0 534.4h1M163.5 531.6h1M177.5 538.3h1M170.5 536.1h1M171.6 536.9h1M170.1 531.6h1M158.6 536.3h1M166.3 541.0h1M163.2 528.4h1M161.1 525.6h1M167.0 530.9h1M172.1 536.2h1M163.0 531.4h1M163.1 540.4h1M161.1 528.1h1M149.5 532.7h1M167.1 537.7h1M164.2 541.6h1M170.0 525.3h1M149.7 540.1h1M158.4 534.7h1M165.5 531.9h1M166.2 526.2h1M167.6 528.4h1M169.5 530.7h1M165.6 533.8h1M151.6 533.3h1M145.5 534.2h1M157.0 535.0h1M160.5 542.7h1M170.0 535.3h1M167.6 529.5h1M162.8 524.7h1M178.2 526.0h1M148.8 529.7h1M162.7 528.3h1M165.5 529.1h1M169.9 534.5h1M154.3 531.7h1M162.9 536.1h1M166.8 535.0h1M170.5 525.6h1M146.7 537.0h1M168.0 529.7h1M159.4 535.4h1M178.3 528.0h1M155.9 532.9h1M154.1 539.1h1M162.5 533.5h1M160.4 533.7h1M183.7 534.6h1M177.4 533.5h1M174.1 533.9h1M164.9 528.8h1M166.2 523.9h1M148.5 532.7h1M155.6 528.2h1M167.7 533.3h1M160.0 536.2h1M165.9 534.1h1M172.1 532.2h1M170.8 523.9h1M164.1 531.1h1M171.3 531.4h1M160.0 530.5h1M164.3 535.5h1M167.6 532.5h1M158.7 526.5h1M161.8 537.1h1M165.0 534.1h1M165.3 538.7h1M153.4 540.6h1M144.5 535.0h1M156.9 538.6h1M164.6 533.1h1M162.4 538.3h1M169.4 530.5h1M158.2 529.8h1M173.2 532.0h1M167.6 534.5h1M171.7 538.4h1M174.5 529.8h1M156.0 527.5h1M165.3 542.4h1M170.0 525.0h1M171.8 530.3h1M171.8 527.2h1M186.2 522.0h1M164.4 533.1h1M166.8 535.0h1M153.1 536.3h1M160.0 535.6h1M172.7 531.4h1M169.9 532.8h1M163.6 531.3h1M153.9 546.1h1M171.0 533.5h1M171.5 532.2h1M161.2 528.4h1M147.9 530.3h1M152.2 538.7h1M163.0 529.5h1M154.7 528.5h1M167.3 533.7h1M166.7 524.7h1M161.6 530.5h1M154.4 529.4h1M164.1 534.8h1M159.9 539.4h1M170.3 528.7h1M170.9 532.1h1M162.6 530.3h1M170.2 531.5h1M165.5 529.9h1M159.7 531.7h1M154.5 537.6h1M172.6 530.0h1M156.4 527.1h1M155.4 532.9h1M164.7 530.0h1M164.7 522.8h1M155.3 532.9h1M173.7 532.2h1M168.0 532.6h1M156.9 527.9h1M163.8 531.2h1M156.4 536.2h1M170.3 533.0h1M171.5 524.9h1M160.4 528.0h1M164.3 525.7h1M163.0 530.5h1M161.6 529.6h1M167.0 529.4h1M165.1 538.0h1M157.9 531.1h1M159.6 538.9h1M160.8 528.1h1M162.4 533.6h1M166.0 529.6h1M152.5 530.6h1M165.8 531.0h1M165.9 527.4h1M167.0 530.2h1M165.5 533.6h1M150.3 536.6h1M167.1 528.0h1M170.0 533.5h1M167.5 538.2h1M161.1 526.2h1M156.7 533.6h1M159.1 531.1h1M166.9 526.2h1M184.1 533.5h1M159.1 529.2h1M166.2 532.1h1M165.7 529.8h1M168.3 536.9h1M172.3 535.8h1M170.7 534.1h1M159.5 523.1h1M172.6 536.9h1M160.2 536.5h1M172.1 526.1h1M160.9 533.2h1M153.0 530.7h1M159.8 530.8h1M160.3 522.3h1M154.5 537.8h1M162.6 528.7h1M175.8 535.8h1M152.8 531.5h1M169.3 530.7h1M161.4 533.1h1M158.9 532.4h1M169.2 540.7h1M168.5 534.1h1M163.8 533.3h1M148.3 531.5h1M167.6 534.9h1M150.7 528.9h1M158.5 539.3h1M158.8 523.4h1M161.2 528.1h1M164.7 540.7h1M162.1 528.8h1M166.0 532.6h1M162.7 525.5h1M154.0 531.5h1M161.6 534.4h1M171.3 530.0h1M163.4 537.3h1M169.8 536.0h1M169.1 523.0h1M159.1 529.2h1M160.7 528.4h1M163.8 536.3h1M168.4 537.4h1M167.8 536.8h1M166.3 533.4h1M163.1 532.8h1M164.3 528.8h1M171.4 534.4h1M164.3 519.6h1M161.7 536.5h1M170.1 528.8h1M172.8 527.7h1M157.4 531.6h1M155.6 535.4h1M154.0 535.2h1M154.6 532.6h1M168.3 534.4h1M165.3 527.7h1M158.2 525.5h1M164.2 527.0h1M171.0 532.2h1M170.1 527.3h1M167.8 532.1h1M154.9 531.5h1M166.1 533.8h1M161.3 532.4h1M175.5 529.9h1M161.2 526.0h1M156.6 534.9h1M166.5 526.8h1M157.7 528.5h1M164.2 530.7h1M152.8 527.4h1M166.2 529.1h1M171.6 535.0h1M173.6 530.8h1M155.9 537.6h1M166.5 533.4h1M151.5 523.2h1M166.2 530.5h1M174.4 525.3h1M160.6 531.0h1M159.4 532.0h1M169.0 531.0h1M174.7 536.9h1M165.1 527.3h1M166.4 533.3h1M156.5 525.9h1M169.4 533.5h1M161.9 532.7h1M154.2 532.0h1M162.5 533.2h1M163.6 526.8h1M158.2 528.6h1M165.9 534.6h1M171.1 531.7h1M163.4 527.6h1M158.1 534.8h1M168.2 522.9h1M160.5 535.7h1M161.4 529.8h1M154.1 529.2h1M155.2 533.6h1M157.9 534.9h1M168.1 533.2h1M167.1 538.0h1M163.6 532.9h1M170.9 533.6h1M159.6 531.0h1M158.0 534.6h1M160.3 535.9h1M167.2 527.1h1M153.5 533.3h1M158.6 530.4h1M164.2 529.1h1M155.5 537.0h1M166.5 536.1h1M176.3 535.2h1M158.5 538.5h1M170.3 535.7h1M157.6 544.1h1M169.7 529.1h1M161.9 527.8h1M162.1 541.9h1M159.0 523.7h1M162.2 537.3h1M172.3 540.1h1M149.6 530.1h1M168.9 539.0h1M159.3 534.6h1M166.3 532.7h1M163.9 536.9h1M166.2 533.7h1M155.5 537.9h1M178.3 531.9h1M163.5 530.2h1M166.4 524.6h1M169.2 535.3h1M163.1 528.7h1M154.2 532.4h1M171.3 529.3h1M160.3 540.5h1M164.6 536.9h1M171.1 525.7h1M167.8 527.2h1M174.7 530.4h1M162.6 535.6h1M160.6 539.8h1M156.8 531.1h1M166.3 528.0h1M153.3 537.7h1M161.8 529.8h1M157.7 530.1h1M164.2 528.5h1M153.3 529.6h1M164.9 536.0h1M162.5 533.6h1M165.5 529.0h1M161.5 526.4h1M167.2 534.5h1M172.3 531.7h1M167.7 530.2h1M160.4 538.3h1M167.9 541.4h1M154.7 538.4h1M171.5 532.7h1M173.1 529.0h1M164.8 532.6h1M162.1 526.8h1M162.9 529.2h1M156.0 535.9h1M156.7 533.2h1M178.0 535.6h1M159.2 532.4h1M161.2 529.4h1M166.5 535.4h1M172.5 538.7h1M163.6 529.9h1M180.3 527.8h1M148.4 527.2h1M151.5 524.4h1M174.4 520.9h1M162.0 543.2h1M168.0 526.8h1M170.4 531.9h1M165.0 529.2h1M160.0 524.4h1M175.0 521.9h1M179.7 534.8h1M166.5 529.0h1M159.0 533.2h1M173.2 531.9h1M162.9 524.0h1M163.0 536.4h1M172.1 533.9h1M182.1 534.9h1M157.6 545.2h1M165.0 534.3h1M156.4 530.7h1M161.7 528.9h1M178.8 536.0h1M175.8 528.4h1M173.3 540.8h1M166.0 530.6h1M182.3 530.5h1M170.1 530.9h1M180.7 528.0h1M152.4 534.2h1M171.8 533.7h1M162.6 530.5h1M157.3 535.4h1M174.8 531.4h1M153.2 538.7h1M168.1 541.0h1M147.3 530.7h1M159.7 532.2h1M155.2 533.8h1M161.6 518.6h1M178.4 522.7h1M161.6 535.3h1M145.5 536.9h1M160.6 540.0h1M172.5 538.3h1M165.3 530.7h1M166.4 540.7h1M162.3 531.5h1M144.5 532.5h1M163.4 533.9h1M165.2 530.3h1M163.0 522.9h1M162.9 524.6h1M159.6 537.1h1M163.1 534.0h1M178.1 541.4h1M162.5 528.4h1M157.5 526.7h1M170.8 534.6h1M151.7 535.6h1M162.0 527.3h1M160.2 534.9h1M164.9 536.9h1M165.4 537.0h1M170.2 531.5h1M156.3 536.0h1M166.2 528.0h1M165.5 526.3h1M159.0 533.9h1M161.0 530.9h1M155.1 528.4h1M166.9 528.9h1M161.9 526.9h1M160.3 525.9h1M160.4 528.9h1M165.4 545.2h1M165.2 538.1h1M170.2 535.6h1M174.8 530.9h1M171.0 537.5h1M168.1 529.6h1M166.6 527.1h1M160.2 536.6h1M163.6 530.9h1M158.3 539.8h1M164.8 526.2h1M163.2 532.9h1M168.0 530.5h1M157.0 533.1h1M172.6 533.6h1M171.0 526.8h1M162.3 546.1h1M154.8 534.7h1M162.8 537.2h1M147.8 534.8h1M159.2 526.2h1M156.2 539.5h1M153.3 532.2h1M159.0 531.2h1M169.9 527.7h1M160.0 531.7h1M165.1 523.6h1M172.9 532.9h1M141.9 530.4h1M160.6 527.8h1M164.5 541.2h1M162.0 534.0h1M161.5 535.6h1M168.0 537.8h1M164.1 529.1h1M168.8 532.5h1M157.8 540.0h1M157.3 534.4h1M155.1 530.9h1M153.5 538.0h1M165.5 533.0h1M158.4 534.2h1M165.6 540.3h1M157.4 535.6h1M167.1 524.4h1M161.1 526.3h1M162.3 528.0h1M166.7 535.3h1M173.7 532.3h1M174.6 527.6h1M178.5 529.7h1M164.0 527.2h1M161.9 527.4h1M165.2 528.4h1M173.0 535.0h1M172.6 529.7h1M159.2 534.2h1M169.0 530.2h1M154.7 532.6h1M165.9 533.1h1M162.6 532.6h1M157.5 531.5h1M160.5 535.8h1M171.7 539.0h1M158.3 529.9h1M165.7 531.7h1M156.9 529.0h1M163.8 535.6h1M185.7 541.5h1M156.7 539.0h1M165.8 530.2h1M162.3 524.7h1M154.9 538.1h1M181.7 531.9h1M159.1 532.7h1M172.1 532.4h1M168.9 539.5h1M157.7 523.7h1M166.4 543.3h1M157.4 532.4h1M177.2 527.8h1M156.1 527.2h1M160.7 529.7h1M165.7 524.7h1M152.4 539.8h1M160.2 529.0h1M167.1 535.8h1M158.8 533.5h1M157.9 523.1h1M164.7 526.9h1M162.6 527.8h1M169.6 534.2h1M147.2 531.9h1M162.0 532.8h1M156.6 554.0h1M162.1 549.9h1M167.4 566.5h1M154.0 545.5h1M175.7 538.3h1M158.8 553.1h1M161.3 550.0h1M140.3 551.7h1M170.5 557.4h1M160.3 567.0h1M150.3 544.7h1M158.4 546.4h1M150.5 560.6h1M139.2 561.6h1M143.1 547.1h1M145.1 563.5h1M163.3 547.9h1M161.0 556.7h1M171.2 564.9h1M147.8 563.8h1M166.4 560.7h1M135.8 546.4h1M149.3 556.0h1M133.1 562.3h1M170.3 553.3h1M162.4 562.9h1M151.3 554.0h1M147.4 557.4h1M156.4 558.0h1M165.0 560.3h1M158.9 560.5h1M145.0 557.9h1M133.2 555.6h1M141.4 559.9h1M168.5 548.6h1M177.2 551.3h1M143.2 559.6h1M163.4 550.7h1M155.2 560.1h1M147.1 564.2h1M167.6 547.8h1M161.7 548.0h1M143.6 546.1h1M150.4 539.9h1M153.2 550.0h1M162.7 562.8h1M160.3 555.1h1M144.9 564.1h1M136.6 544.5h1M140.1 550.4h1M188.0 556.3h1M166.0 552.9h1M140.9 558.9h1M160.6 547.7h1M132.5 557.4h1M134.8 553.2h1M139.1 550.0h1M157.5 559.8h1M162.0 555.5h1M154.3 549.4h1M153.0 566.6h1M153.4 550.4h1M146.2 551.6h1M169.9 555.0h1M155.4 552.8h1M147.0 556.0h1M146.2 555.6h1M158.2 555.6h1M144.5 555.7h1M147.7 550.6h1M151.0 546.2h1M144.5 560.7h1M154.6 546.0h1M135.8 557.0h1M133.4 534.3h1M153.1 551.9h1M163.0 557.2h1M186.4 553.1h1M135.2 551.4h1M162.7 550.0h1M152.5 552.1h1M176.3 561.2h1M150.6 545.7h1M147.9 553.0h1M163.3 560.2h1M158.8 556.3h1M143.4 557.8h1M170.3 554.9h1M143.3 543.5h1M162.2 547.7h1M138.3 547.3h1M155.4 563.8h1M153.0 554.0h1M138.2 567.7h1M151.1 555.6h1M149.2 549.2h1M161.9 563.0h1M150.9 546.4h1M163.6 551.2h1M157.1 555.0h1M171.1 555.1h1M170.0 552.3h1M171.6 554.7h1M139.2 555.7h1M159.3 542.6h1M183.2 554.7h1M145.4 544.9h1M156.5 553.1h1M144.4 555.8h1M149.7 544.3h1M145.1 550.2h1M159.1 557.9h1M171.9 556.8h1M133.9 552.7h1M153.1 561.5h1M156.7 554.1h1M159.1 557.6h1M141.8 559.0h1M142.7 554.5h1M159.7 559.5h1M144.9 555.5h1M168.1 557.5h1M150.3 551.5h1M146.1 554.3h1M148.5 542.0h1M137.4 554.9h1M156.2 558.7h1M157.8 554.1h1M151.4 566.6h1M140.9 544.9h1M161.8 554.2h1M168.9 561.5h1M142.4 565.0h1M151.8 548.2h1M151.3 565.4h1M171.8 556.3h1M159.5 558.2h1M149.6 559.7h1M180.3 561.5h1M155.7 543.5h1M158.1 553.0h1M137.7 551.3h1M155.3 557.8h1M159.2 559.4h1M160.4 566.1h1M150.0 566.3h1M149.2 544.2h1M147.7 557.4h1M152.3 547.4h1M156.8 549.7h1M143.5 561.4h1M133.3 553.6h1M153.8 543.7h1M149.0 553.5h1M173.5 555.4h1M138.0 559.4h1M158.6 556.1h1M151.8 558.2h1M153.5 542.2h1M173.4 549.5h1M152.2 546.8h1M166.2 557.0h1M163.3 553.8h1M147.9 548.9h1M161.3 551.6h1M142.4 551.4h1M151.5 550.7h1M153.5 557.9h1M157.9 548.7h1M165.2 558.7h1M151.1 560.0h1M142.1 560.9h1M157.1 552.9h1M153.5 551.3h1M149.7 553.5h1M180.7 547.3h1M140.8 558.0h1M164.0 556.2h1M170.9 566.4h1M152.3 559.6h1M150.8 558.2h1M142.9 555.3h1M160.0 550.1h1M141.6 556.3h1M146.1 545.3h1M144.6 551.8h1M143.0 558.3h1M154.2 537.6h1M134.8 545.0h1M149.7 555.0h1M163.2 559.7h1M143.2 555.3h1M150.8 554.9h1M142.4 550.8h1M150.1 560.8h1M156.4 553.7h1M139.5 552.1h1M139.6 556.6h1M158.5 556.0h1M158.7 545.9h1M143.8 554.3h1M162.5 556.5h1M131.8 557.3h1M154.4 557.0h1M149.5 556.1h1M168.7 554.5h1M166.0 554.7h1M135.4 557.1h1M144.6 552.1h1M158.3 552.5h1M135.1 552.3h1M156.2 558.4h1M156.8 558.8h1M168.6 546.7h1M144.3 548.3h1M173.4 558.9h1M158.3 546.0h1M173.8 559.2h1M147.2 552.7h1M138.8 552.6h1M144.1 560.3h1M164.2 545.2h1M163.5 553.8h1M136.3 535.8h1M142.3 563.4h1M143.3 558.1h1M181.2 555.4h1M148.0 549.2h1M170.7 555.6h1M141.0 558.5h1M157.1 556.0h1M158.8 557.1h1M151.1 553.8h1M169.9 567.0h1M170.1 539.4h1M149.8 560.1h1M160.9 542.6h1M171.7 541.4h1M156.2 555.5h1M169.7 546.2h1M153.3 551.8h1M166.8 557.8h1M156.2 554.4h1M152.9 550.6h1M133.4 552.7h1M148.3 557.8h1M143.8 547.9h1M154.3 565.3h1M145.9 559.7h1M161.8 546.3h1M155.4 553.4h1M139.9 548.9h1M160.6 552.9h1M168.8 548.9h1M146.0 558.4h1M146.0 551.8h1M179.3 545.3h1M154.4 546.6h1M139.9 550.0h1M170.6 553.6h1M135.3 549.1h1M182.8 549.1h1M154.4 552.4h1M139.6 557.4h1M145.1 549.8h1M156.5 560.5h1M148.3 554.9h1M156.9 547.7h1M157.3 555.2h1M156.9 551.9h1M149.5 555.3h1M161.2 550.2h1M135.0 554.6h1M170.3 542.1h1M141.6 557.2h1M158.4 555.3h1M146.0 556.3h1M153.4 562.6h1M153.4 561.7h1M147.3 553.1h1M147.4 551.7h1M172.2 540.6h1M166.9 562.5h1M178.9 557.2h1M155.7 557.9h1M147.1 549.6h1M153.5 545.0h1M149.4 553.2h1M148.6 560.2h1M159.8 550.4h1M142.9 554.5h1M132.4 556.7h1M165.1 553.4h1M147.9 560.3h1M165.2 559.7h1M144.6 542.0h1M136.9 552.9h1M142.5 558.0h1M140.6 557.5h1M151.4 559.8h1M176.2 559.3h1M139.4 547.9h1M159.7 551.0h1M170.6 557.3h1M164.5 538.3h1M144.9 553.3h1M151.4 558.3h1M173.0 554.5h1M142.4 550.7h1M152.5 552.0h1M150.3 561.6h1M153.1 555.3h1M163.7 554.6h1M137.3 565.0h1M165.6 554.5h1M161.1 557.2h1M143.7 547.7h1M151.9 544.4h1M168.7 565.7h1M160.5 554.9h1M159.3 552.8h1M177.6 562.9h1M163.1 549.8h1M141.7 567.8h1M139.8 551.0h1M147.1 555.9h1M167.5 554.7h1M157.9 551.7h1M158.0 554.3h1M164.4 552.3h1M166.3 551.9h1M139.0 546.2h1M149.0 562.2h1M151.4 556.5h1M163.3 553.4h1M150.7 550.5h1M139.4 556.3h1M170.4 552.0h1M144.8 553.1h1M158.9 551.5h1M170.1 544.2h1M159.7 556.6h1M136.3 555.2h1M158.7 553.0h1M145.9 554.0h1M151.4 555.9h1M133.7 560.4h1M166.5 555.0h1M141.6 555.6h1M158.3 559.9h1M150.6 555.1h1M164.9 546.9h1M168.0 559.8h1M154.8 552.7h1M154.9 548.1h1M152.7 549.1h1M143.5 545.1h1M151.6 554.1h1M141.1 546.1h1M159.3 554.4h1M146.9 551.2h1M149.6 551.2h1M161.2 552.6h1M152.5 550.9h1M146.0 543.1h1M167.8 552.1h1M165.8 562.3h1M144.4 557.1h1M147.2 558.3h1M140.4 556.4h1M160.1 556.7h1M159.3 567.6h1M160.7 550.8h1M169.7 549.8h1M141.7 546.5h1M145.0 556.1h1M148.4 550.7h1M156.1 543.4h1M136.6 562.4h1M177.8 559.5h1M144.8 552.0h1M165.6 554.7h1M148.8 553.6h1M138.6 546.9h1M163.7 564.9h1M144.7 549.7h1M174.9 559.7h1M152.8 551.6h1M170.2 562.4h1M167.5 553.0h1M173.1 560.7h1M142.5 549.4h1M148.3 545.4h1M148.3 546.4h1M162.5 554.5h1M162.2 554.1h1M146.3 550.5h1M150.9 551.0h1M161.4 563.2h1M134.7 560.8h1M141.5 543.9h1M165.5 559.8h1M148.0 555.3h1M142.6 547.3h1M156.9 565.4h1M154.4 554.0h1M153.6 551.9h1M151.4 537.2h1M147.7 551.7h1M151.0 555.1h1M158.7 550.5h1M165.0 552.5h1M134.6 551.6h1M158.0 543.2h1M143.5 551.8h1M175.1 552.7h1M174.8 570.0h1M139.3 557.5h1M155.8 546.0h1M164.3 554.5h1M153.3 560.3h1M149.1 550.1h1M158.6 556.3h1M149.7 556.7h1M173.2 553.6h1M156.7 554.5h1M168.1 562.6h1M164.8 557.9h1M138.1 557.9h1M175.2 555.6h1M164.8 571.4h1M137.4 581.4h1M171.6 583.3h1M149.2 572.0h1M149.4 580.9h1M167.1 569.9h1M157.5 567.1h1M170.7 568.6h1M147.8 589.5h1M159.7 567.0h1M170.5 567.4h1M171.1 561.8h1M138.7 574.0h1M136.4 585.3h1M208.6 578.5h1M161.0 579.3h1M160.5 551.5h1M166.8 581.9h1M168.0 556.6h1M141.8 561.8h1M155.5 572.7h1M149.8 574.3h1M143.6 589.0h1M156.3 575.0h1M152.1 591.6h1M147.6 556.6h1M134.8 590.1h1M154.3 579.4h1M159.3 582.7h1M140.9 585.6h1M132.8 579.2h1M155.2 579.1h1M164.2 575.2h1M178.1 569.6h1M141.1 578.2h1M133.6 567.3h1M153.8 573.2h1M166.5 562.1h1M172.6 574.0h1M162.4 570.9h1M146.8 547.8h1M154.0 572.1h1M170.5 575.3h1M158.9 569.5h1M144.9 565.1h1M139.2 561.6h1M150.1 568.6h1M133.6 568.9h1M163.9 577.8h1M132.1 550.5h1M137.5 570.3h1M162.1 567.9h1M160.9 571.7h1M155.0 560.0h1M145.0 578.5h1M149.8 590.8h1M161.8 590.0h1M183.3 578.9h1M169.5 569.5h1M136.2 552.9h1M161.9 565.3h1M170.2 571.6h1M157.9 556.8h1M156.6 573.8h1M167.2 556.4h1M146.3 583.0h1M140.4 576.3h1M184.5 579.5h1M149.1 582.8h1M180.6 570.0h1M175.8 573.9h1M139.9 578.5h1M146.8 567.7h1M161.2 578.0h1M151.1 572.5h1M134.2 586.3h1M134.5 584.0h1M152.4 584.9h1M157.9 575.7h1M136.5 565.3h1M177.2 571.3h1M152.3 572.0h1M161.7 581.2h1M132.9 569.3h1M160.0 574.3h1M159.6 579.5h1M168.8 580.3h1M191.3 561.4h1M147.0 576.8h1M141.7 582.9h1M163.2 563.6h1M145.5 581.9h1M182.0 571.3h1M144.7 567.8h1M159.4 571.2h1M134.5 567.5h1M150.9 571.1h1M150.3 562.8h1M154.5 573.7h1M147.9 592.3h1M157.5 576.8h1M139.2 569.9h1M180.6 583.7h1M174.4 585.7h1M161.5 582.9h1M154.4 583.4h1M152.0 562.5h1M153.4 573.4h1M153.5 560.6h1M135.8 583.4h1M179.0 579.3h1M145.4 583.2h1M181.8 567.1h1M134.5 571.8h1M145.0 553.0h1M162.3 570.1h1M143.4 578.6h1M167.1 574.4h1M156.9 580.8h1M146.9 574.4h1M175.3 571.9h1M155.4 577.8h1M143.6 565.6h1M159.8 565.2h1M143.2 558.2h1M143.8 587.3h1M139.7 574.2h1M155.6 572.0h1M141.8 577.0h1M133.4 582.1h1M197.9 576.4h1M186.8 571.0h1M183.5 575.6h1M175.1 580.2h1M179.7 585.5h1M194.8 578.5h1M189.9 570.5h1M173.2 580.8h1M179.1 578.8h1M193.9 581.8h1M189.4 574.2h1M180.4 592.6h1M186.8 576.5h1M183.2 567.3h1M186.5 572.1h1M184.5 581.5h1M182.2 581.5h1M192.6 574.1h1M175.4 585.3h1M173.3 572.4h1M183.3 569.7h1M174.2 580.6h1M193.3 571.6h1M184.7 570.0h1M188.4 579.4h1M185.2 585.7h1M192.4 584.6h1M188.2 574.5h1M193.4 583.2h1M186.6 571.9h1M188.6 588.9h1M184.6 579.5h1M192.3 583.2h1M173.7 590.7h1M192.1 570.7h1M186.2 582.0h1M202.1 576.6h1M187.9 577.6h1M176.8 566.2h1M191.8 578.1h1M174.7 583.7h1M180.1 583.3h1M175.4 574.6h1M186.0 581.5h1M208.6 577.6h1M189.4 574.9h1M186.6 582.1h1M180.3 571.2h1M182.8 586.9h1M187.6 571.7h1M190.2 575.6h1M187.1 574.6h1M177.5 566.1h1M192.6 564.7h1M179.4 564.1h1M168.7 581.1h1M176.4 566.9h1M184.5 581.2h1M194.5 562.7h1M163.4 576.0h1M186.9 571.6h1M173.6 586.5h1M187.2 581.5h1M185.4 570.1h1M180.1 572.7h1M185.5 579.2h1M176.9 586.1h1M174.6 581.5h1M184.6 566.4h1M177.1 579.1h1M201.1 564.6h1M179.4 567.1h1M185.9 581.6h1M187.9 582.4h1M180.2 579.3h1M182.2 576.8h1M182.9 587.1h1M195.9 586.4h1M190.2 574.7h1M177.1 580.2h1M174.1 549.6h1M182.4 551.8h1M186.5 549.1h1M192.0 554.0h1M186.4 546.2h1M175.7 554.5h1M180.4 544.9h1M190.7 557.4h1M181.2 549.9h1M178.6 549.8h1M187.1 544.4h1M178.8 544.3h1M199.6 553.6h1M197.0 556.9h1M180.6 546.3h1M177.4 550.6h1M191.7 555.5h1M197.2 548.6h1M179.5 548.8h1M177.3 549.6h1M184.5 554.0h1M187.2 554.1h1M182.6 546.2h1M185.4 554.3h1M182.2 559.3h1M178.1 550.7h1M174.9 551.5h1M188.8 553.2h1M184.4 546.8h1M182.5 554.4h1M184.6 553.9h1M186.9 547.8h1M185.2 546.8h1M179.4 542.8h1M193.5 543.5h1M180.9 548.6h1M188.4 538.4h1M179.5 541.8h1M186.4 543.3h1M187.5 557.4h1M170.4 546.4h1M180.9 550.2h1M181.7 550.1h1M177.4 550.9h1M188.2 553.0h1M182.7 549.3h1M193.4 552.4h1M173.5 553.6h1M200.1 542.8h1M188.2 553.7h1M174.4 544.6h1M184.1 544.2h1M185.8 544.8h1M187.1 545.0h1M189.9 547.1h1M188.8 547.3h1M191.8 553.0h1M189.0 554.1h1M186.1 543.3h1M188.8 562.4h1M185.9 556.7h1M189.2 550.3h1M182.9 548.1h1M181.1 551.1h1M185.9 548.1h1M192.2 546.4h1M186.9 545.9h1M193.5 560.2h1M191.3 555.5h1M181.8 542.1h1M197.6 541.5h1M199.6 533.6h1M197.6 542.4h1M188.1 550.3h1M184.3 551.6h1M187.7 537.7h1M192.4 547.5h1M180.7 550.5h1M182.9 553.0h1M172.9 553.1h1M181.7 547.8h1M182.8 540.0h1M194.2 552.3h1M191.6 552.5h1M179.8 551.5h1M189.9 548.8h1M190.7 550.4h1M181.7 545.9h1M183.1 551.0h1M187.6 546.8h1M182.5 556.1h1M189.5 552.6h1M195.1 542.6h1M183.6 544.8h1M181.8 552.6h1M187.8 545.6h1M185.6 549.2h1M172.2 548.7h1M170.5 553.1h1M182.3 545.8h1M181.0 542.2h1M181.0 544.9h1M187.8 548.7h1M181.8 552.2h1M192.3 541.7h1M181.0 545.5h1M184.7 545.1h1M190.8 538.7h1M184.6 548.5h1M187.9 546.5h1M173.5 547.2h1M190.6 554.3h1M185.3 555.5h1M190.7 549.7h1M193.4 546.6h1M197.5 547.5h1M180.5 542.0h1M180.3 541.0h1M180.1 551.7h1M184.8 553.0h1M182.2 550.9h1M187.1 548.1h1M192.7 550.5h1M186.1 541.9h1M189.7 552.3h1M192.4 546.8h1M180.6 541.6h1M183.4 549.6h1M190.0 544.6h1M179.5 551.3h1M185.0 550.0h1M184.4 550.5h1M176.1 551.4h1M188.5 544.4h1M192.0 550.3h1M163.9 544.4h1M190.4 544.7h1M175.3 553.7h1M192.7 543.3h1M188.9 546.4h1M196.0 544.0h1M175.0 549.7h1M188.5 545.1h1M175.4 540.7h1M191.2 555.9h1M181.4 552.1h1M183.9 548.5h1M179.5 538.9h1M180.7 547.6h1M185.8 549.9h1M195.0 546.3h1M200.7 550.4h1M184.2 551.0h1M179.3 537.9h1M183.1 551.1h1M181.9 546.1h1M183.1 549.6h1M194.6 553.2h1M187.7 550.5h1M190.7 556.0h1M186.9 544.3h1M187.6 559.7h1M193.9 546.0h1M181.2 548.2h1M196.2 556.0h1M187.1 543.4h1M181.5 550.3h1M185.3 554.6h1M192.5 552.8h1M184.7 550.1h1M189.6 545.7h1M186.6 555.7h1M189.6 548.0h1M193.4 550.3h1M187.3 550.2h1M188.3 545.9h1M191.9 554.1h1M184.7 554.5h1M182.6 550.9h1M178.7 547.9h1M182.4 544.9h1M177.7 545.0h1M180.5 555.5h1M189.8 549.5h1M183.3 546.6h1M188.7 548.6h1M187.6 547.3h1M184.9 550.0h1M178.3 549.1h1M173.4 539.7h1M194.2 541.6h1M184.8 550.2h1M188.0 553.3h1M181.7 540.3h1M171.9 552.1h1M191.5 550.1h1M193.1 550.4h1M191.0 545.6h1M174.0 548.4h1M186.1 552.0h1M196.4 551.3h1M181.6 550.9h1M185.5 542.5h1M185.2 552.1h1M194.0 555.3h1M186.3 545.8h1M180.7 552.2h1M166.1 537.7h1M186.5 544.2h1M184.6 549.6h1M184.5 547.2h1M179.3 555.9h1M175.3 539.5h1M190.2 537.5h1M181.9 538.8h1M174.8 552.0h1M185.1 554.6h1M176.0 547.2h1M186.1 558.0h1M193.7 545.2h1M184.4 550.1h1M176.6 546.0h1M183.3 550.1h1M183.1 541.6h1M177.3 552.4h1M188.7 557.5h1M175.0 550.1h1M191.9 539.4h1M191.9 549.8h1M185.4 549.8h1M188.2 544.0h1M181.8 544.7h1M181.0 542.1h1M178.1 539.0h1M177.0 552.9h1M178.6 541.8h1M196.8 551.1h1M185.9 548.8h1M175.5 553.6h1M187.4 544.5h1M179.5 542.0h1M181.6 556.7h1M189.1 546.7h1M195.9 555.5h1M180.0 554.2h1M179.1 545.8h1M180.6 545.6h1M189.0 548.6h1M191.9 551.4h1M188.2 552.9h1M174.7 552.8h1M193.2 549.3h1M190.2 556.6h1M175.7 550.1h1M172.2 559.7h1M190.6 550.3h1M173.2 545.7h1M181.6 553.5h1M194.5 549.9h1M181.5 539.1h1M186.7 546.3h1M185.3 551.0h1M178.5 557.9h1M191.9 555.7h1M183.8 540.5h1M187.5 549.6h1M191.0 546.6h1M191.2 537.8h1M199.6 548.4h1M181.4 542.4h1M179.8 554.0h1M180.4 548.8h1M185.8 556.8h1M198.9 549.5h1M190.9 553.0h1M182.9 547.9h1M198.8 560.9h1M183.0 547.1h1M191.2 548.5h1M190.4 543.1h1M193.1 554.6h1M187.3 542.8h1M176.4 552.7h1M186.6 551.3h1M186.2 555.5h1M182.3 549.0h1M187.9 548.6h1M183.7 544.9h1M190.5 548.9h1M188.2 552.0h1M186.4 551.3h1M166.5 546.2h1M191.0 551.3h1M182.2 551.5h1M186.1 550.5h1M184.6 540.5h1M194.7 554.4h1M187.8 547.1h1M178.4 553.6h1M186.7 536.2h1M177.7 552.4h1M192.0 547.8h1M175.7 556.7h1M189.4 550.7h1M192.9 553.0h1M200.2 547.8h1M185.3 556.8h1M190.3 549.9h1M185.1 546.8h1M182.1 549.3h1M214.9 551.9h1M185.4 542.0h1M179.8 545.3h1M182.5 553.0h1M196.5 555.9h1M188.2 553.2h1M186.2 544.2h1M176.7 547.0h1M172.1 545.2h1M182.2 551.5h1M189.3 547.9h1M198.7 540.3h1M184.9 546.3h1M167.7 543.1h1M187.1 549.4h1M196.4 548.1h1M185.5 549.3h1M190.6 551.6h1M193.8 535.5h1M180.1 546.8h1M192.9 549.5h1M177.3 549.7h1M190.9 563.6h1M182.9 559.3h1M191.6 551.1h1M182.6 556.8h1M185.1 551.0h1M180.5 552.5h1M184.3 545.4h1M193.9 549.6h1M180.6 542.9h1M168.0 548.9h1M194.3 549.2h1M173.5 541.3h1M176.7 536.5h1M182.8 556.1h1M177.5 556.9h1M184.9 542.3h1M189.3 554.1h1M178.1 545.2h1M195.4 549.9h1M197.3 541.5h1M174.7 553.4h1M195.0 541.9h1M184.1 545.3h1M187.9 549.1h1M182.9 554.6h1M194.0 543.1h1M182.3 552.0h1M185.6 553.6h1M190.5 538.7h1M179.9 547.2h1M187.1 554.2h1M177.4 542.3h1M190.2 546.1h1M185.5 562.1h1M183.6 545.1h1M183.5 542.7h1M186.9 553.6h1M185.7 556.2h1M208.4 551.7h1M186.4 563.7h1M183.6 550.3h1M178.6 551.8h1M186.0 542.7h1M174.6 549.2h1M183.7 557.6h1M190.9 543.3h1M183.2 548.2h1M184.9 543.4h1M200.2 553.7h1M180.1 543.3h1M183.6 547.8h1M172.9 559.4h1M183.7 548.1h1M174.8 546.8h1M180.7 544.6h1M176.0 551.3h1M179.7 559.3h1M179.8 545.4h1M178.1 548.8h1M183.8 551.0h1M188.6 549.4h1M184.4 547.7h1M190.5 557.9h1M184.8 547.8h1M169.9 544.0h1M195.6 547.4h1M178.9 553.8h1M194.1 546.9h1M184.2 542.4h1M181.6 542.5h1M182.3 552.8h1M196.9 555.9h1M177.7 547.7h1M198.2 544.8h1M176.9 547.7h1M191.6 551.9h1M182.8 552.7h1M189.2 547.2h1M177.7 554.8h1M193.0 544.4h1M194.6 546.9h1M194.9 556.8h1M195.5 547.2h1M188.3 547.5h1M201.6 550.3h1M192.4 547.8h1M192.9 546.5h1M166.9 549.0h1M181.3 546.7h1M182.5 546.8h1M175.3 556.3h1M182.5 547.8h1M182.7 554.8h1M193.6 554.4h1M192.3 540.9h1M193.9 545.1h1M190.1 549.2h1M191.5 549.6h1M191.2 550.4h1M185.5 548.9h1M178.1 545.2h1M183.0 560.9h1M193.4 544.7h1M187.1 550.6h1M189.6 544.4h1M187.8 548.5h1M182.1 538.4h1M192.6 554.2h1M184.2 547.0h1M196.0 560.8h1M194.0 548.9h1M196.1 551.9h1M181.3 545.0h1M192.3 544.4h1M186.7 546.9h1M190.9 547.2h1M193.0 551.7h1M188.0 550.9h1" stroke="#333" stroke-width="1" fill="none" opacity="0.45"/>
</g>
<path d="M150 528 Q160 524 176 525 L176 540 Q165 540 156 538 Q149 535 150 528 Z" fill="#555" filter="url(#bl2)" opacity="0.55"/>
<path d="M176 524 Q190 521 198 524 Q201 532 198 541 Q186 543 176 541.5 Q173 540 172 537 Q171 530 172 526 Q173 524.5 176 524 Z" fill="#484848" filter="url(#bl1)" opacity="1"/>
<rect x="130.50" y="510.50" width="91.50" height="83.25" fill="none" stroke="#999" stroke-width="1"/>
<rect x="131.75" y="520.50" width="42.75" height="25.75" fill="none" stroke="#222" stroke-width="1"/>
<rect x="131.75" y="546.25" width="42.75" height="17.50" fill="none" stroke="#222" stroke-width="1"/>
<rect x="174.50" y="519.50" width="28.00" height="23.00" fill="none" stroke="#222" stroke-width="1"/>
<rect x="174.50" y="542.50" width="26.00" height="21.25" fill="none" stroke="#222" stroke-width="1"/>
<rect x="174.50" y="563.75" width="24.75" height="26.25" fill="none" stroke="#222" stroke-width="1"/>
<line x1="22.90" y1="593.80" x2="22.90" y2="595.30" stroke="#777" stroke-width="0.8"/>
<line x1="21.40" y1="593.80" x2="22.90" y2="593.80" stroke="#777" stroke-width="0.8"/>
<line x1="45.92" y1="593.80" x2="45.92" y2="595.30" stroke="#777" stroke-width="0.8"/>
<line x1="21.40" y1="573.00" x2="22.90" y2="573.00" stroke="#777" stroke-width="0.8"/>
<line x1="68.95" y1="593.80" x2="68.95" y2="595.30" stroke="#777" stroke-width="0.8"/>
<line x1="21.40" y1="552.20" x2="22.90" y2="552.20" stroke="#777" stroke-width="0.8"/>
<line x1="91.97" y1="593.80" x2="91.97" y2="595.30" stroke="#777" stroke-width="0.8"/>
<line x1="21.40" y1="531.40" x2="22.90" y2="531.40" stroke="#777" stroke-width="0.8"/>
<line x1="115.00" y1="593.80" x2="115.00" y2="595.30" stroke="#777" stroke-width="0.8"/>
<line x1="21.40" y1="510.60" x2="22.90" y2="510.60" stroke="#777" stroke-width="0.8"/>
<line x1="130.50" y1="593.75" x2="130.50" y2="595.25" stroke="#777" stroke-width="0.8"/>
<line x1="129.00" y1="593.75" x2="130.50" y2="593.75" stroke="#777" stroke-width="0.8"/>
<line x1="153.38" y1="593.75" x2="153.38" y2="595.25" stroke="#777" stroke-width="0.8"/>
<line x1="129.00" y1="572.94" x2="130.50" y2="572.94" stroke="#777" stroke-width="0.8"/>
<line x1="176.25" y1="593.75" x2="176.25" y2="595.25" stroke="#777" stroke-width="0.8"/>
<line x1="129.00" y1="552.12" x2="130.50" y2="552.12" stroke="#777" stroke-width="0.8"/>
<line x1="199.12" y1="593.75" x2="199.12" y2="595.25" stroke="#777" stroke-width="0.8"/>
<line x1="129.00" y1="531.31" x2="130.50" y2="531.31" stroke="#777" stroke-width="0.8"/>
<line x1="222.00" y1="593.75" x2="222.00" y2="595.25" stroke="#777" stroke-width="0.8"/>
<line x1="129.00" y1="510.50" x2="130.50" y2="510.50" stroke="#777" stroke-width="0.8"/>
<text x="22.8" y="515.2" font-size="9" text-anchor="end">10<tspan font-size="6" dy="-3.6">4</tspan></text>
<text x="22.8" y="534.7" font-size="9" text-anchor="end">10<tspan font-size="6" dy="-3.6">3</tspan></text>
<text x="22.8" y="553.6" font-size="9" text-anchor="end">10<tspan font-size="6" dy="-3.6">2</tspan></text>
<text x="22.8" y="573.5" font-size="9" text-anchor="end">10<tspan font-size="6" dy="-3.6">1</tspan></text>
<text x="22.8" y="594.8" font-size="9" text-anchor="end">10<tspan font-size="6" dy="-3.6">0</tspan></text>
<text x="24.1" y="606.9" font-size="9" text-anchor="middle">10<tspan font-size="6" dy="-3.6">0</tspan></text>
<text x="47.1" y="606.9" font-size="9" text-anchor="middle">10<tspan font-size="6" dy="-3.6">1</tspan></text>
<text x="70.1" y="606.9" font-size="9" text-anchor="middle">10<tspan font-size="6" dy="-3.6">2</tspan></text>
<text x="93.2" y="606.9" font-size="9" text-anchor="middle">10<tspan font-size="6" dy="-3.6">3</tspan></text>
<text x="116.2" y="606.9" font-size="9" text-anchor="middle">10<tspan font-size="6" dy="-3.6">4</tspan></text>
<text x="131.7" y="606.9" font-size="9" text-anchor="middle">10<tspan font-size="6" dy="-3.6">0</tspan></text>
<text x="154.6" y="606.9" font-size="9" text-anchor="middle">10<tspan font-size="6" dy="-3.6">1</tspan></text>
<text x="177.4" y="606.9" font-size="9" text-anchor="middle">10<tspan font-size="6" dy="-3.6">2</tspan></text>
<text x="200.3" y="606.9" font-size="9" text-anchor="middle">10<tspan font-size="6" dy="-3.6">3</tspan></text>
<text x="223.2" y="606.9" font-size="9" text-anchor="middle">10<tspan font-size="6" dy="-3.6">4</tspan></text>
<text x="47.3" y="518.5" font-size="9.3">R2</text>
<text x="97.6" y="540.8" font-size="9.3">R3</text>
<text x="97.0" y="562.2" font-size="9.3">R4</text>
<text x="97.0" y="586.2" font-size="9.3">R5</text>
<text x="25.0" y="573.5" font-size="9.3">R1</text>
<text x="155.0" y="519.3" font-size="9.3">R2</text>
<text x="206.0" y="541.3" font-size="9.3">R3</text>
<text x="206.0" y="563.0" font-size="9.3">R4</text>
<text x="206.0" y="587.3" font-size="9.3">R5</text>
<text x="133.7" y="572.5" font-size="9.3">R1</text>
<text x="57.3" y="507.3" font-size="9" font-style="italic" fill="#000">PIT1<tspan font-size="6" dy="-3.4">+/+</tspan></text>
<text x="162.1" y="507.3" font-size="9" font-style="italic" fill="#000">PIT1<tspan font-size="6" dy="-3.4">neo/Δ5</tspan></text>
<text x="5.0" y="469.9" font-size="16.8" font-weight="bold">D</text>
<line x1="4.40" y1="509.00" x2="4.40" y2="569.60" stroke="#000" stroke-width="2"/>
<path d="M2 510.5 L4.4 504.5 L6.8 510.5 Z" fill="#000"/>
<text transform="translate(7,586) rotate(-90)" font-size="9.8" text-anchor="middle">CD 71</text>
<text x="13.4" y="621.3" font-size="9.4">TER 119</text>
<line x1="49.60" y1="617.80" x2="222.00" y2="617.80" stroke="#000" stroke-width="2"/>
<path d="M221 615 L228 617.8 L221 620.6 Z" fill="#000"/>
<text x="239.0" y="199.3" font-size="17" font-weight="bold">C</text>
<line x1="266.40" y1="347.20" x2="514.40" y2="347.20" stroke="#b0b0b0" stroke-width="1"/>
<line x1="266.40" y1="323.20" x2="514.40" y2="323.20" stroke="#b0b0b0" stroke-width="1"/>
<line x1="266.40" y1="299.20" x2="514.40" y2="299.20" stroke="#b0b0b0" stroke-width="1"/>
<text x="258.2" y="374.4" font-size="9.2" text-anchor="end">0</text>
<line x1="263.50" y1="371.20" x2="266.40" y2="371.20" stroke="#888" stroke-width="0.8"/>
<text x="258.2" y="350.4" font-size="9.2" text-anchor="end">10</text>
<line x1="263.50" y1="347.20" x2="266.40" y2="347.20" stroke="#888" stroke-width="0.8"/>
<text x="258.2" y="326.4" font-size="9.2" text-anchor="end">20</text>
<line x1="263.50" y1="323.20" x2="266.40" y2="323.20" stroke="#888" stroke-width="0.8"/>
<text x="258.2" y="302.4" font-size="9.2" text-anchor="end">30</text>
<line x1="263.50" y1="299.20" x2="266.40" y2="299.20" stroke="#888" stroke-width="0.8"/>
<text x="258.2" y="278.4" font-size="9.2" text-anchor="end">40</text>
<line x1="263.50" y1="275.20" x2="266.40" y2="275.20" stroke="#888" stroke-width="0.8"/>
<text x="258.2" y="254.4" font-size="9.2" text-anchor="end">50</text>
<line x1="263.50" y1="251.20" x2="266.40" y2="251.20" stroke="#888" stroke-width="0.8"/>
<text x="258.2" y="230.4" font-size="9.2" text-anchor="end">60</text>
<line x1="263.50" y1="227.20" x2="266.40" y2="227.20" stroke="#888" stroke-width="0.8"/>
<line x1="266.40" y1="227.20" x2="266.40" y2="371.20" stroke="#8a8a8a" stroke-width="1.1"/>
<line x1="266.40" y1="371.20" x2="514.40" y2="371.20" stroke="#999" stroke-width="1.2"/>
<line x1="266.40" y1="371.20" x2="266.40" y2="373.70" stroke="#999" stroke-width="0.8"/>
<line x1="316.00" y1="371.20" x2="316.00" y2="373.70" stroke="#999" stroke-width="0.8"/>
<line x1="365.60" y1="371.20" x2="365.60" y2="373.70" stroke="#999" stroke-width="0.8"/>
<line x1="415.20" y1="371.20" x2="415.20" y2="373.70" stroke="#999" stroke-width="0.8"/>
<line x1="464.80" y1="371.20" x2="464.80" y2="373.70" stroke="#999" stroke-width="0.8"/>
<line x1="514.40" y1="371.20" x2="514.40" y2="373.70" stroke="#999" stroke-width="0.8"/>
<text x="291.2" y="386.3" font-size="9.2" text-anchor="middle">R1</text>
<text x="340.8" y="386.3" font-size="9.2" text-anchor="middle">R2</text>
<text x="390.4" y="386.3" font-size="9.2" text-anchor="middle">R3</text>
<text x="440.0" y="386.3" font-size="9.2" text-anchor="middle">R4</text>
<text x="489.6" y="386.3" font-size="9.2" text-anchor="middle">R5</text>
<text x="390.3" y="399.8" font-size="9.5" text-anchor="middle">Gated populations</text>
<text transform="translate(245.7,310.5) rotate(-90)" font-size="9.5" text-anchor="middle">% of cells</text>
<polyline points="291.2,354.4 340.8,347.7 390.4,272.8 440.0,285.8 489.6,356.8" fill="none" stroke="#000" stroke-width="2"/>
<polyline points="291.2,335.7 340.8,287.2 390.4,272.8 440.0,353.2 489.6,367.6" fill="none" stroke="#a0a0a0" stroke-width="1.5" stroke-dasharray="4 3"/>
<polyline points="291.2,265.6 340.8,269.2 390.4,351.5 440.0,363.5 489.6,367.6" fill="none" stroke="#000" stroke-width="2" stroke-dasharray="10 5"/>
<polyline points="291.2,303.0 340.8,286.7 390.4,301.6 440.0,356.3 489.6,368.8" fill="none" stroke="#b4b4b4" stroke-width="1.1" stroke-dasharray="4 2 1 2"/>
<line x1="291.20" y1="242.90" x2="291.20" y2="287.70" stroke="#000" stroke-width="1.8"/>
<line x1="288.70" y1="242.90" x2="293.70" y2="242.90" stroke="#000" stroke-width="1.8"/>
<line x1="288.70" y1="287.70" x2="293.70" y2="287.70" stroke="#000" stroke-width="1.8"/>
<line x1="340.80" y1="251.50" x2="340.80" y2="287.70" stroke="#000" stroke-width="1.8"/>
<line x1="338.30" y1="251.50" x2="343.30" y2="251.50" stroke="#000" stroke-width="1.8"/>
<line x1="338.30" y1="287.70" x2="343.30" y2="287.70" stroke="#000" stroke-width="1.8"/>
<line x1="390.40" y1="343.80" x2="390.40" y2="358.70" stroke="#000" stroke-width="1.5"/>
<line x1="387.90" y1="343.80" x2="392.90" y2="343.80" stroke="#000" stroke-width="1.5"/>
<line x1="387.90" y1="358.70" x2="392.90" y2="358.70" stroke="#000" stroke-width="1.5"/>
<line x1="390.40" y1="265.00" x2="390.40" y2="280.80" stroke="#000" stroke-width="1.5"/>
<line x1="387.90" y1="265.00" x2="392.90" y2="265.00" stroke="#000" stroke-width="1.5"/>
<line x1="387.90" y1="280.80" x2="392.90" y2="280.80" stroke="#000" stroke-width="1.5"/>
<line x1="440.00" y1="278.80" x2="440.00" y2="293.30" stroke="#000" stroke-width="1.5"/>
<line x1="437.50" y1="278.80" x2="442.50" y2="278.80" stroke="#000" stroke-width="1.5"/>
<line x1="437.50" y1="293.30" x2="442.50" y2="293.30" stroke="#000" stroke-width="1.5"/>
<line x1="291.20" y1="352.40" x2="291.20" y2="356.40" stroke="#000" stroke-width="1.5"/>
<line x1="288.70" y1="352.40" x2="293.70" y2="352.40" stroke="#000" stroke-width="1.5"/>
<line x1="288.70" y1="356.40" x2="293.70" y2="356.40" stroke="#000" stroke-width="1.5"/>
<line x1="340.80" y1="345.18" x2="340.80" y2="350.18" stroke="#000" stroke-width="1.5"/>
<line x1="338.30" y1="345.18" x2="343.30" y2="345.18" stroke="#000" stroke-width="1.5"/>
<line x1="338.30" y1="350.18" x2="343.30" y2="350.18" stroke="#000" stroke-width="1.5"/>
<line x1="489.60" y1="354.80" x2="489.60" y2="358.80" stroke="#000" stroke-width="1.5"/>
<line x1="487.10" y1="354.80" x2="492.10" y2="354.80" stroke="#000" stroke-width="1.5"/>
<line x1="487.10" y1="358.80" x2="492.10" y2="358.80" stroke="#000" stroke-width="1.5"/>
<line x1="440.00" y1="360.52" x2="440.00" y2="366.52" stroke="#000" stroke-width="1.5"/>
<line x1="437.50" y1="360.52" x2="442.50" y2="360.52" stroke="#000" stroke-width="1.5"/>
<line x1="437.50" y1="366.52" x2="442.50" y2="366.52" stroke="#000" stroke-width="1.5"/>
<line x1="291.20" y1="332.18" x2="291.20" y2="339.18" stroke="#555" stroke-width="1.3"/>
<line x1="288.70" y1="332.18" x2="293.70" y2="332.18" stroke="#555" stroke-width="1.3"/>
<line x1="288.70" y1="339.18" x2="293.70" y2="339.18" stroke="#555" stroke-width="1.3"/>
<line x1="291.20" y1="296.30" x2="291.20" y2="309.80" stroke="#555" stroke-width="1.2"/>
<line x1="390.40" y1="293.30" x2="390.40" y2="310.00" stroke="#555" stroke-width="1.2"/>
<path d="M291.2 350.77L294.17 354.4L291.2 358.03L288.22999999999996 354.4Z" fill="#000"/>
<path d="M340.8 344.05L343.77000000000004 347.68L340.8 351.31L337.83 347.68Z" fill="#000"/>
<path d="M390.4 269.17L393.37 272.8L390.4 276.43L387.42999999999995 272.8Z" fill="#000"/>
<path d="M440.0 282.13L442.97 285.76L440.0 289.39L437.03 285.76Z" fill="#000"/>
<path d="M489.6 353.17L492.57000000000005 356.8L489.6 360.43L486.63 356.8Z" fill="#000"/>
<rect x="288.2" y="332.68" width="6.0" height="6.0" fill="#a0a0a0"/>
<rect x="337.8" y="284.2" width="6.0" height="6.0" fill="#a0a0a0"/>
<rect x="387.4" y="269.8" width="6.0" height="6.0" fill="#a0a0a0"/>
<rect x="437.0" y="350.2" width="6.0" height="6.0" fill="#a0a0a0"/>
<rect x="486.6" y="364.59999999999997" width="6.0" height="6.0" fill="#a0a0a0"/>
<path d="M291.2 261.31L295.09999999999997 268.72L287.3 268.72Z" fill="#000"/>
<path d="M340.8 264.90999999999997L344.7 272.32L336.90000000000003 272.32Z" fill="#000"/>
<path d="M390.4 347.22999999999996L394.29999999999995 354.64L386.5 354.64Z" fill="#000"/>
<path d="M440.0 359.22999999999996L443.9 366.64L436.1 366.64Z" fill="#000"/>
<path d="M489.6 363.30999999999995L493.5 370.71999999999997L485.70000000000005 370.71999999999997Z" fill="#000"/>
<circle cx="291.2" cy="303.03999999999996" r="2.9" fill="#a0a0a0" stroke="#6a6a6a" stroke-width="0.8"/>
<circle cx="340.8" cy="286.71999999999997" r="2.9" fill="#a0a0a0" stroke="#6a6a6a" stroke-width="0.8"/>
<circle cx="390.4" cy="301.6" r="2.9" fill="#a0a0a0" stroke="#6a6a6a" stroke-width="0.8"/>
<circle cx="440.0" cy="356.32" r="2.9" fill="#a0a0a0" stroke="#6a6a6a" stroke-width="0.8"/>
<circle cx="489.6" cy="368.8" r="2.9" fill="#a0a0a0" stroke="#6a6a6a" stroke-width="0.8"/>
<text x="291.2" y="297.3" font-size="10.5" text-anchor="middle" fill="#a0a0a0" style="stroke:#a0a0a0">**</text>
<text x="291.2" y="331.7" font-size="10.5" text-anchor="middle" fill="#a0a0a0" style="stroke:#a0a0a0">*</text>
<text x="340.8" y="251.5" font-size="10.5" text-anchor="middle" font-weight="bold">**</text>
<text x="340.8" y="301.7" font-size="10.5" text-anchor="middle" fill="#a0a0a0" style="stroke:#a0a0a0">**</text>
<text x="390.4" y="369.9" font-size="10.5" text-anchor="middle" font-weight="bold">**</text>
<text x="440.0" y="348.0" font-size="10.5" text-anchor="middle" fill="#a0a0a0" style="stroke:#a0a0a0">**</text>
<text x="440.0" y="374.4" font-size="10.5" text-anchor="middle" font-weight="bold">**</text>
<text x="489.6" y="367.4" font-size="10.5" text-anchor="middle" fill="#b0b0b0" style="stroke:#b0b0b0">**</text>
<line x1="437.2" y1="230.4" x2="462.6" y2="230.4" stroke="#000" stroke-width="2"/>
<path d="M449.9 226.88L452.78 230.4L449.9 233.92000000000002L447.02 230.4Z" fill="#000"/>
<line x1="437.2" y1="244.0" x2="462.6" y2="244.0" stroke="#a0a0a0" stroke-width="1.5" stroke-dasharray="4 3"/>
<rect x="446.7" y="240.8" width="6.4" height="6.4" fill="#a0a0a0"/>
<line x1="437.2" y1="257.6" x2="462.6" y2="257.6" stroke="#000" stroke-width="2" stroke-dasharray="10 5"/>
<path d="M449.9 254.08L453.09999999999997 260.16L446.7 260.16Z" fill="#000"/>
<line x1="437.2" y1="270.6" x2="462.6" y2="270.6" stroke="#b4b4b4" stroke-width="1.1" stroke-dasharray="4 2 1 2"/>
<circle cx="449.9" cy="270.6" r="3.2" fill="#a0a0a0" stroke="#777" stroke-width="0.8"/>
<text x="469.0" y="234.3" font-size="9.4" font-style="italic" fill="#000">PIT1<tspan font-size="6" dy="-3.6">+/+</tspan></text>
<text x="469.0" y="248.0" font-size="9.4" font-style="italic" fill="#000">PIT1<tspan font-size="6" dy="-3.6">neo/neo</tspan></text>
<text x="469.0" y="261.5" font-size="9.4" font-style="italic" fill="#000">PIT1<tspan font-size="6" dy="-3.6">Δ5/Δ5</tspan></text>
<text x="469.0" y="274.5" font-size="9.4" font-style="italic" fill="#000">PIT1<tspan font-size="6" dy="-3.6">neo/Δ5</tspan></text>
<text x="239.0" y="470.3" font-size="16.5" font-weight="bold">E</text>
<line x1="263.80" y1="605.50" x2="512.80" y2="605.50" stroke="#b0b0b0" stroke-width="1"/>
<line x1="263.80" y1="575.00" x2="512.80" y2="575.00" stroke="#b0b0b0" stroke-width="1"/>
<line x1="263.80" y1="544.50" x2="512.80" y2="544.50" stroke="#b0b0b0" stroke-width="1"/>
<line x1="263.80" y1="514.00" x2="413.50" y2="514.00" stroke="#b0b0b0" stroke-width="1"/>
<line x1="505.50" y1="514.00" x2="512.80" y2="514.00" stroke="#b0b0b0" stroke-width="1"/>
<text x="255.5" y="639.2" font-size="9.2" text-anchor="end">0</text>
<line x1="261.00" y1="636.00" x2="263.80" y2="636.00" stroke="#666" stroke-width="0.8"/>
<text x="255.5" y="608.7" font-size="9.2" text-anchor="end">20</text>
<line x1="261.00" y1="605.50" x2="263.80" y2="605.50" stroke="#666" stroke-width="0.8"/>
<text x="255.5" y="578.2" font-size="9.2" text-anchor="end">40</text>
<line x1="261.00" y1="575.00" x2="263.80" y2="575.00" stroke="#666" stroke-width="0.8"/>
<text x="255.5" y="547.7" font-size="9.2" text-anchor="end">60</text>
<line x1="261.00" y1="544.50" x2="263.80" y2="544.50" stroke="#666" stroke-width="0.8"/>
<text x="255.5" y="517.2" font-size="9.2" text-anchor="end">80</text>
<line x1="261.00" y1="514.00" x2="263.80" y2="514.00" stroke="#666" stroke-width="0.8"/>
<text x="255.5" y="486.7" font-size="9.2" text-anchor="end">100</text>
<line x1="261.00" y1="483.50" x2="263.80" y2="483.50" stroke="#666" stroke-width="0.8"/>
<line x1="263.80" y1="483.50" x2="512.80" y2="483.50" stroke="#555" stroke-width="1.2"/>
<line x1="512.80" y1="483.50" x2="512.80" y2="636.00" stroke="#555" stroke-width="1.2"/>
<line x1="263.80" y1="483.50" x2="263.80" y2="636.00" stroke="#555" stroke-width="1.2"/>
<line x1="263.80" y1="636.00" x2="512.80" y2="636.00" stroke="#555" stroke-width="1.9"/>
<line x1="263.80" y1="636.00" x2="263.80" y2="638.50" stroke="#666" stroke-width="0.8"/>
<line x1="313.60" y1="636.00" x2="313.60" y2="638.50" stroke="#666" stroke-width="0.8"/>
<line x1="363.40" y1="636.00" x2="363.40" y2="638.50" stroke="#666" stroke-width="0.8"/>
<line x1="413.20" y1="636.00" x2="413.20" y2="638.50" stroke="#666" stroke-width="0.8"/>
<line x1="463.00" y1="636.00" x2="463.00" y2="638.50" stroke="#666" stroke-width="0.8"/>
<line x1="512.80" y1="636.00" x2="512.80" y2="638.50" stroke="#666" stroke-width="0.8"/>
<text x="288.8" y="651.0" font-size="9.2" text-anchor="middle">R1</text>
<text x="338.5" y="651.0" font-size="9.2" text-anchor="middle">R2</text>
<text x="388.2" y="651.0" font-size="9.2" text-anchor="middle">R3</text>
<text x="437.9" y="651.0" font-size="9.2" text-anchor="middle">R4</text>
<text x="487.6" y="651.0" font-size="9.2" text-anchor="middle">R5</text>
<text x="388.0" y="665.3" font-size="9.5" text-anchor="middle">Gated populations</text>
<text transform="translate(241.3,565.4) rotate(-90)" font-size="9.7" text-anchor="middle">% of cells</text>
<polyline points="288.8,629.1 338.5,610.8 388.2,561.3 437.9,589.9 487.6,634.2" fill="none" stroke="#000" stroke-width="1.8"/>
<polyline points="288.8,623.8 338.5,592.8 388.2,551.4 437.9,623.3 487.6,634.5" fill="none" stroke="#8c8c8c" stroke-width="1.5" stroke-dasharray="8 3 2 3"/>
<polyline points="288.8,627.9 338.5,626.5 388.2,508.4 437.9,627.6 487.6,635.2" fill="none" stroke="#909090" stroke-width="1.5" stroke-dasharray="4 3"/>
<line x1="338.50" y1="584.34" x2="338.50" y2="601.84" stroke="#222" stroke-width="1.5"/>
<line x1="336.00" y1="584.34" x2="341.00" y2="584.34" stroke="#222" stroke-width="1.5"/>
<line x1="336.00" y1="601.84" x2="341.00" y2="601.84" stroke="#222" stroke-width="1.5"/>
<line x1="388.20" y1="547.36" x2="388.20" y2="555.36" stroke="#333" stroke-width="1.5"/>
<line x1="385.70" y1="547.36" x2="390.70" y2="547.36" stroke="#333" stroke-width="1.5"/>
<line x1="385.70" y1="555.36" x2="390.70" y2="555.36" stroke="#333" stroke-width="1.5"/>
<line x1="388.20" y1="556.27" x2="388.20" y2="566.77" stroke="#000" stroke-width="1.5"/>
<line x1="385.70" y1="556.27" x2="390.70" y2="556.27" stroke="#000" stroke-width="1.5"/>
<line x1="385.70" y1="566.77" x2="390.70" y2="566.77" stroke="#000" stroke-width="1.5"/>
<line x1="437.90" y1="587.45" x2="437.90" y2="592.45" stroke="#000" stroke-width="1.5"/>
<line x1="435.40" y1="587.45" x2="440.40" y2="587.45" stroke="#000" stroke-width="1.5"/>
<line x1="435.40" y1="592.45" x2="440.40" y2="592.45" stroke="#000" stroke-width="1.5"/>
<line x1="338.50" y1="608.84" x2="338.50" y2="612.84" stroke="#000" stroke-width="1.5"/>
<line x1="336.00" y1="608.84" x2="341.00" y2="608.84" stroke="#000" stroke-width="1.5"/>
<line x1="336.00" y1="612.84" x2="341.00" y2="612.84" stroke="#000" stroke-width="1.5"/>
<line x1="288.80" y1="619.50" x2="288.80" y2="632.00" stroke="#222" stroke-width="1.4"/>
<line x1="286.30" y1="619.50" x2="291.30" y2="619.50" stroke="#222" stroke-width="1.4"/>
<line x1="286.30" y1="632.00" x2="291.30" y2="632.00" stroke="#222" stroke-width="1.4"/>
<line x1="437.90" y1="618.34" x2="437.90" y2="625.34" stroke="#333" stroke-width="1.3"/>
<line x1="435.40" y1="618.34" x2="440.40" y2="618.34" stroke="#333" stroke-width="1.3"/>
<line x1="435.40" y1="625.34" x2="440.40" y2="625.34" stroke="#333" stroke-width="1.3"/>
<path d="M288.8 626.0575L291.32 629.1375L288.8 632.2175000000001L286.28000000000003 629.1375Z" fill="#000"/>
<path d="M338.5 607.7574999999999L341.02 610.8375L338.5 613.9175L335.98 610.8375Z" fill="#000"/>
<path d="M388.20000000000005 558.1949999999999L390.72 561.275L388.20000000000005 564.355L385.68000000000006 561.275Z" fill="#000"/>
<path d="M437.90000000000003 586.865L440.42 589.945L437.90000000000003 593.0250000000001L435.38000000000005 589.945Z" fill="#000"/>
<path d="M487.6 631.0899999999999L490.12 634.17L487.6 637.25L485.08000000000004 634.17Z" fill="#000"/>
<circle cx="288.8" cy="623.8" r="2.8" fill="#909090" stroke="#777" stroke-width="0.8"/>
<circle cx="338.5" cy="592.8425" r="2.8" fill="#909090" stroke="#777" stroke-width="0.8"/>
<circle cx="388.20000000000005" cy="551.3625" r="2.8" fill="#909090" stroke="#777" stroke-width="0.8"/>
<circle cx="437.90000000000003" cy="623.3425" r="2.8" fill="#909090" stroke="#777" stroke-width="0.8"/>
<circle cx="487.6" cy="634.475" r="2.8" fill="#909090" stroke="#777" stroke-width="0.8"/>
<rect x="286.0" y="625.1175000000001" width="5.6" height="5.6" fill="#8a8a8a"/>
<rect x="335.7" y="623.745" width="5.6" height="5.6" fill="#8a8a8a"/>
<rect x="385.40000000000003" y="505.5575" width="5.6" height="5.6" fill="#8a8a8a"/>
<rect x="435.1" y="624.8125" width="5.6" height="5.6" fill="#8a8a8a"/>
<rect x="484.8" y="632.4375" width="5.6" height="5.6" fill="#8a8a8a"/>
<text x="387.7" y="504.5" font-size="11.5" text-anchor="middle" fill="#aaa" style="stroke:#aaa">***</text>
<text x="437.9" y="614.0" font-size="8.5" text-anchor="middle" fill="#aaa" style="stroke:#aaa">*</text>
<text x="437.9" y="636.0" font-size="8.5" text-anchor="middle" fill="#aaa" style="stroke:#aaa">**</text>
<rect x="413.50" y="485.00" width="92.00" height="50.00" fill="#fff" stroke="none" stroke-width="1"/>
<line x1="423" y1="494.2" x2="447.3" y2="494.2" stroke="#000" stroke-width="1.8"/>
<path d="M435.15 491.12L437.66999999999996 494.2L435.15 497.28L432.63 494.2Z" fill="#000"/>
<line x1="423" y1="508.5" x2="447.3" y2="508.5" stroke="#909090" stroke-width="1.5" stroke-dasharray="4 3"/>
<circle cx="435.15" cy="508.5" r="2.4" fill="#909090" stroke="#777" stroke-width="0.8"/>
<line x1="423" y1="523" x2="447.3" y2="523" stroke="#909090" stroke-width="1.5" stroke-dasharray="3 2"/>
<rect x="432.84999999999997" y="520.7" width="4.6" height="4.6" fill="#8a8a8a"/>
<text x="458.0" y="498.0" font-size="9.4" font-style="italic" fill="#000">PIT1<tspan font-size="6" dy="-3.6">+/+</tspan></text>
<text x="458.0" y="512.3" font-size="9.4" font-style="italic" fill="#000">PIT1<tspan font-size="6" dy="-3.6">neo/Δ5</tspan></text>
<text x="458.0" y="526.8" font-size="9.4" font-style="italic" fill="#000">PIT1<tspan font-size="6" dy="-3.6">neo/neo</tspan></text>
</g>
</svg></body></html>
